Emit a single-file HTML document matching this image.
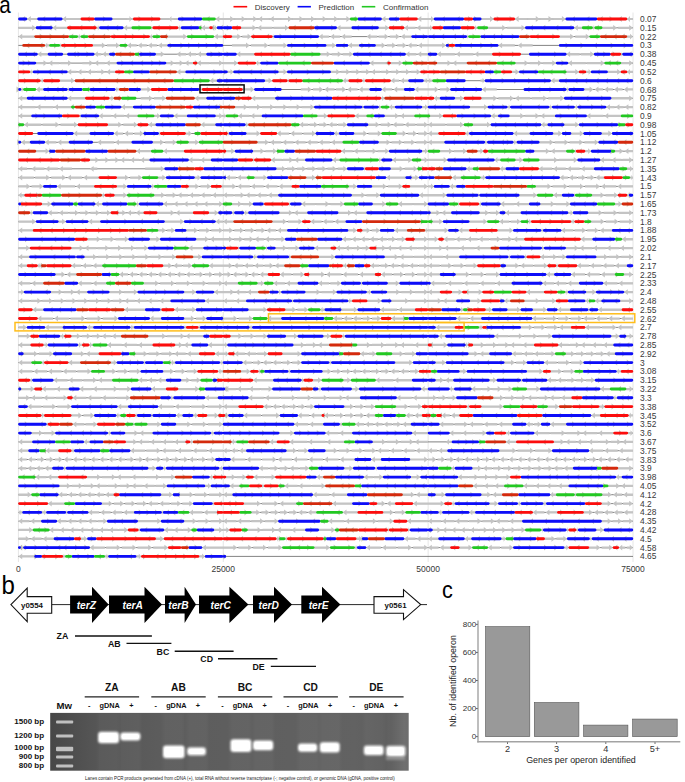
<!DOCTYPE html>
<html><head><meta charset="utf-8">
<style>
html,body{margin:0;padding:0;background:#fff;}
body{width:685px;height:782px;overflow:hidden;}
svg{display:block;font-family:"Liberation Sans",sans-serif;}
.rl{font-size:8.4px;fill:#383838;}
.xl{font-size:8.5px;fill:#383838;}
.lg{font-size:8px;fill:#333;}
.pl{font-size:24px;fill:#000;}
.gl{font-size:10.2px;font-weight:bold;font-style:italic;fill:#fff;}
.yl{font-size:7.9px;font-weight:bold;fill:#111;}
.sl{font-size:8.8px;font-weight:bold;fill:#111;}
.gh{font-size:10.2px;font-weight:bold;fill:#111;}
.gs{font-size:7.3px;font-weight:bold;fill:#111;}
.bp{font-size:8px;font-weight:bold;fill:#111;}
.cap{font-size:4.47px;fill:#222;}
.tk{font-size:8.1px;fill:#333;}
.ax{font-size:8.9px;fill:#222;}
</style></head>
<body>
<svg width="685" height="782" viewBox="0 0 685 782">
<defs>
<filter id="bl" x="-30%" y="-60%" width="160%" height="220%"><feGaussianBlur stdDeviation="1.1"/></filter>
<filter id="soft" x="0" y="0" width="685" height="600" filterUnits="userSpaceOnUse"><feGaussianBlur stdDeviation="0.35"/></filter>
<filter id="bl2" x="-30%" y="-60%" width="160%" height="220%"><feGaussianBlur stdDeviation="0.6"/></filter>
</defs>
<line x1="18.4" y1="12.5" x2="18.4" y2="562" stroke="#e6e6e6" stroke-width="1"/>
<line x1="223.27" y1="12.5" x2="223.27" y2="562" stroke="#e6e6e6" stroke-width="1"/>
<line x1="428.13" y1="12.5" x2="428.13" y2="562" stroke="#e6e6e6" stroke-width="1"/>
<line x1="633" y1="12.5" x2="633" y2="562" stroke="#e6e6e6" stroke-width="1"/>
<g filter="url(#soft)">
<path d="M18.4 19H633M18.4 27.8H633M18.4 36.6H633M18.4 45.4H633M18.4 54.2H633M18.4 63.1H633M18.4 71.9H633M18.4 80.7H633M18.4 89.5H633M18.4 98.3H633M18.4 107.1H633M18.4 115.9H633M18.4 124.7H633M18.4 133.5H633M18.4 142.3H633M18.4 151.2H633M18.4 160H633M18.4 168.8H633M18.4 177.6H633M18.4 186.4H633M18.4 195.2H633M18.4 204H633M18.4 212.8H633M18.4 221.6H633M18.4 230.4H633M18.4 239.2H633M18.4 248.1H633M18.4 256.9H633M18.4 265.7H633M18.4 274.5H633M18.4 283.3H633M18.4 292.1H633M18.4 300.9H633M18.4 309.7H633M18.4 318.5H633M18.4 327.4H633M18.4 336.2H633M18.4 345H633M18.4 353.8H633M18.4 362.6H633M18.4 371.4H633M18.4 380.2H633M18.4 389H633M18.4 397.8H633M18.4 406.6H633M18.4 415.5H633M18.4 424.3H633M18.4 433.1H633M18.4 441.9H633M18.4 450.7H633M18.4 459.5H633M18.4 468.3H633M18.4 477.1H633M18.4 485.9H633M18.4 494.7H633M18.4 503.6H633M18.4 512.4H633M18.4 521.2H633M18.4 530H633M18.4 538.8H633M18.4 547.6H633M18.4 556.4H633" stroke="#5a5a5a" stroke-width="0.75" fill="none"/>
<path d="M37.5 17.9H30.8V16.1L27 19L30.8 21.9V20.1H37.5ZM80.8 17.9H66.1V16.1L62.3 19L66.1 21.9V20.1H80.8ZM127.2 17.9H129.5V16.1L131.7 19L129.5 21.9V20.1H127.2ZM173.6 17.9H171.4V16.1L169.1 19L171.4 21.9V20.1H173.6ZM223 17.9H219.3V16.1L215.5 19L219.3 21.9V20.1H223ZM223 17.9H230.2V16.1L234 19L230.2 21.9V20.1H223ZM235.2 17.9H241.7V16.1L245.5 19L241.7 21.9V20.1H235.2ZM246.7 17.9H253.3V16.1L257.1 19L253.3 21.9V20.1H246.7ZM268.7 17.9H262.1V16.1L258.3 19L262.1 21.9V20.1H268.7ZM280.2 17.9H273.7V16.1L269.9 19L273.7 21.9V20.1H280.2ZM281.4 17.9H288V16.1L291.8 19L288 21.9V20.1H281.4ZM293 17.9H299.5V16.1L303.3 19L299.5 21.9V20.1H293ZM304.5 17.9H311.1V16.1L314.9 19L311.1 21.9V20.1H304.5ZM316.1 17.9H322.7V16.1L326.5 19L322.7 21.9V20.1H316.1ZM327.7 17.9H334.2V16.1L338 19L334.2 21.9V20.1H327.7ZM339.2 17.9H346.4V16.1L350.2 19L346.4 21.9V20.1H339.2ZM389.1 17.9H385.4V16.1L381.6 19L385.4 21.9V20.1H389.1ZM428 17.9H421.3V16.1L417.5 19L421.3 21.9V20.1H428ZM428 17.9H431V16.1L434 19L431 21.9V20.1H428ZM481.3 17.9H490V16.1L493.8 19L490 21.9V20.1H481.3ZM526.9 17.9H518.6V16.1L514.8 19L518.6 21.9V20.1H526.9ZM528.1 17.9H535.8V16.1L539.6 19L535.8 21.9V20.1H528.1ZM540.8 17.9H548.5V16.1L552.3 19L548.5 21.9V20.1H540.8ZM553.5 17.9H561.9V16.1L565.7 19L561.9 21.9V20.1H553.5ZM633 17.9H630V16.1L627 19L630 21.9V20.1H633ZM18.4 26.7H32.2V24.9L36 27.8L32.2 30.7V29H18.4ZM67.4 26.7H56.2V24.9L52.4 27.8L56.2 30.7V29H67.4ZM96.4 26.7H97.9V24.9L99.4 27.8L97.9 30.7V29H96.4ZM131.7 26.7H127.1V24.9L123.3 27.8L127.1 30.7V29H131.7ZM152.7 26.7H151.9V24.9L151.2 27.8L151.9 30.7V29H152.7ZM181.1 26.7H179.6V24.9L178.1 27.8L179.6 30.7V29H181.1ZM209.5 26.7H205V24.9L201.2 27.8L205 30.7V29H209.5ZM212.5 26.7H214.8V24.9L217 27.8L214.8 30.7V29H212.5ZM241 26.7H252.5V24.9L256.3 27.8L252.5 30.7V29H241ZM272.3 26.7H261.3V24.9L257.5 27.8L261.3 30.7V29H272.3ZM273.5 26.7H285V24.9L288.8 27.8L285 30.7V29H273.5ZM351.7 26.7H340.5V24.9L336.7 27.8L340.5 30.7V29H351.7ZM378.6 26.7H385.3V24.9L389.1 27.8L385.3 30.7V29H378.6ZM415.4 26.7H407.9V24.9L404.1 27.8L407.9 30.7V29H415.4ZM428 26.7H420.4V24.9L416.6 27.8L420.4 30.7V29H428ZM428 26.7H430.2V24.9L432.5 27.8L430.2 30.7V29H428ZM477.4 26.7H475.9V24.9L474.4 27.8L475.9 30.7V29H477.4ZM487.9 26.7H502.2V24.9L506 27.8L502.2 30.7V29H487.9ZM507.2 26.7H521.5V24.9L525.3 27.8L521.5 30.7V29H507.2ZM582.1 26.7H577.8V24.9L574 27.8L577.8 30.7V29H582.1ZM592.6 26.7H593.6V24.9L594.7 27.8L593.6 30.7V29H592.6ZM602.2 26.7H613.2V24.9L617 27.8L613.2 30.7V29H602.2ZM618.2 26.7H629.2V24.9L633 27.8L629.2 30.7V29H618.2ZM34.5 35.5H22.2V33.7L18.4 36.6L22.2 39.5V37.8H34.5ZM77.9 35.5H79.4V33.7L80.8 36.6L79.4 39.5V37.8H77.9ZM149.7 35.5H151.2V33.7L152.7 36.6L151.2 39.5V37.8H149.7ZM167.6 35.5H183.3V33.7L187.1 36.6L183.3 39.5V37.8H167.6ZM223 35.5H217.8V33.7L214 36.6L217.8 39.5V37.8H223ZM232 35.5H237.3V33.7L241.1 36.6L237.3 39.5V37.8H232ZM242.3 35.5H247.6V33.7L251.4 36.6L247.6 39.5V37.8H242.3ZM272.4 35.5H273.1V33.7L273.9 36.6L273.1 39.5V37.8H272.4ZM329.1 35.5H322.6V33.7L318.8 36.6L322.6 39.5V37.8H329.1ZM340.1 35.5H334.1V33.7L330.3 36.6L334.1 39.5V37.8H340.1ZM351.7 35.5H345.1V33.7L341.3 36.6L345.1 39.5V37.8H351.7ZM377.3 35.5H370.4V33.7L366.6 36.6L370.4 39.5V37.8H377.3ZM378.5 35.5H384.7V33.7L388.5 36.6L384.7 39.5V37.8H378.5ZM389.7 35.5H395.9V33.7L399.7 36.6L395.9 39.5V37.8H389.7ZM411.5 35.5H404.7V33.7L400.9 36.6L404.7 39.5V37.8H411.5ZM466.9 35.5H467.7V33.7L468.4 36.6L467.7 39.5V37.8H466.9ZM559.7 35.5H570.2V33.7L574 36.6L570.2 39.5V37.8H559.7ZM575.2 35.5H585.8V33.7L589.6 36.6L585.8 39.5V37.8H575.2ZM627 35.5H630V33.7L633 36.6L630 39.5V37.8H627ZM49.4 44.3H47.2V42.5L44.9 45.4L47.2 48.3V46.6H49.4ZM61.4 44.3H60.6V42.5L59.9 45.4L60.6 48.3V46.6H61.4ZM92.8 44.3H101.9V42.5L105.7 45.4L101.9 48.3V46.6H92.8ZM106.9 44.3H116V42.5L119.8 45.4L116 48.3V46.6H106.9ZM136.7 44.3H131V42.5L127.2 45.4L131 48.3V46.6H136.7ZM146.8 44.3H141.7V42.5L137.9 45.4L141.7 48.3V46.6H146.8ZM156.9 44.3H151.8V42.5L148 45.4L151.8 48.3V46.6H156.9ZM167.6 44.3H161.9V42.5L158.1 45.4L161.9 48.3V46.6H167.6ZM232 44.3H246V42.5L249.8 45.4L246 48.3V46.6H232ZM251 44.3H264.5V42.5L268.3 45.4L264.5 48.3V46.6H251ZM269.5 44.3H283.5V42.5L287.3 45.4L283.5 48.3V46.6H269.5ZM326.2 44.3H332.3V42.5L336.1 45.4L332.3 48.3V46.6H326.2ZM359.2 44.3H351.9V42.5L348.1 45.4L351.9 48.3V46.6H359.2ZM375.6 44.3H381.7V42.5L385.5 45.4L381.7 48.3V46.6H375.6ZM386.7 44.3H392.2V42.5L396 45.4L392.2 48.3V46.6H386.7ZM397.2 44.3H402.7V42.5L406.5 45.4L402.7 48.3V46.6H397.2ZM416.9 44.3H411.5V42.5L407.7 45.4L411.5 48.3V46.6H416.9ZM428 44.3H421.9V42.5L418.1 45.4L421.9 48.3V46.6H428ZM428 44.3H442.2V42.5L446 45.4L442.2 48.3V46.6H428ZM514.8 44.3H502.1V42.5L498.3 45.4L502.1 48.3V46.6H514.8ZM532.7 44.3H521.6V42.5L517.8 45.4L521.6 48.3V46.6H532.7ZM47.9 53.1H41.3V51.3L37.5 54.2L41.3 57.1V55.4H47.9ZM101.2 53.1H97.8V51.3L94.3 54.2L97.8 57.1V55.4H101.2ZM109.3 53.1H105.8V51.3L102.4 54.2L105.8 57.1V55.4H109.3ZM155.7 53.1H160.8V51.3L164.6 54.2L160.8 57.1V55.4H155.7ZM186 53.1H180.4V51.3L176.6 54.2L180.4 57.1V55.4H186ZM196 53.1H191V51.3L187.2 54.2L191 57.1V55.4H196ZM206.5 53.1H201V51.3L197.2 54.2L201 57.1V55.4H206.5ZM254.4 53.1H240.3V51.3L236.5 54.2L240.3 57.1V55.4H254.4ZM320.3 53.1H326.8V51.3L330.6 54.2L326.8 57.1V55.4H320.3ZM331.8 53.1H337.8V51.3L341.6 54.2L337.8 57.1V55.4H331.8ZM342.8 53.1H349.4V51.3L353.2 54.2L349.4 57.1V55.4H342.8ZM416.2 53.1H409.4V51.3L405.6 54.2L409.4 57.1V55.4H416.2ZM428 53.1H421.2V51.3L417.4 54.2L421.2 57.1V55.4H428ZM454.8 53.1H440.8V51.3L437 54.2L440.8 57.1V55.4H454.8ZM473.3 53.1H459.8V51.3L456 54.2L459.8 57.1V55.4H473.3ZM492.3 53.1H478.3V51.3L474.5 54.2L478.3 57.1V55.4H492.3ZM579.6 53.1H570.1V51.3L566.3 54.2L570.1 57.1V55.4H579.6ZM580.8 53.1H590.3V51.3L594.1 54.2L590.3 57.1V55.4H580.8ZM621 53.1H621.8V51.3L622.5 54.2L621.8 57.1V55.4H621ZM36 61.9H43.5V60.2L47.3 63.1L43.5 66V64.2H36ZM59.3 61.9H52.3V60.2L48.5 63.1L52.3 66V64.2H59.3ZM60.5 61.9H68.1V60.2L71.9 63.1L68.1 66V64.2H60.5ZM82.3 61.9H89.4V60.2L93.2 63.1L89.4 66V64.2H82.3ZM104.7 61.9H98.2V60.2L94.4 63.1L98.2 66V64.2H104.7ZM116.8 61.9H109.7V60.2L105.9 63.1L109.7 66V64.2H116.8ZM166.1 61.9H170.7V60.2L174.5 63.1L170.7 66V64.2H166.1ZM175.7 61.9H179.7V60.2L183.5 63.1L179.7 66V64.2H175.7ZM193.1 61.9H188.5V60.2L184.7 63.1L188.5 66V64.2H193.1ZM209.4 61.9H200.8V60.2L197 63.1L200.8 66V64.2H209.4ZM210.6 61.9H219.2V60.2L223 63.1L219.2 66V64.2H210.6ZM223 61.9H234.2V60.2L238 63.1L234.2 66V64.2H223ZM260.4 61.9H258.2V60.2L255.9 63.1L258.2 66V64.2H260.4ZM387.6 61.9H373.4V60.2L369.6 63.1L373.4 66V64.2H387.6ZM390.6 61.9H398.8V60.2L402.6 63.1L398.8 66V64.2H390.6ZM437 61.9H447.5V60.2L451.3 63.1L447.5 66V64.2H437ZM466.9 61.9H456.3V60.2L452.5 63.1L456.3 66V64.2H466.9ZM515.4 61.9H524.6V60.2L528.4 63.1L524.6 66V64.2H515.4ZM529.6 61.9H538.1V60.2L541.9 63.1L538.1 66V64.2H529.6ZM543.1 61.9H552.3V60.2L556.1 63.1L552.3 66V64.2H543.1ZM585.7 61.9H571.9V60.2L568.1 63.1L571.9 66V64.2H585.7ZM586.9 61.9H600.8V60.2L604.6 63.1L600.8 66V64.2H586.9ZM621 61.9H629.2V60.2L633 63.1L629.2 66V64.2H621ZM33 70.7H31.5V69L30 71.9L31.5 74.8V73H33ZM76.4 70.7H71.2V69L67.4 71.9L71.2 74.8V73H76.4ZM85.9 70.7H81.4V69L77.6 71.9L81.4 74.8V73H85.9ZM95.5 70.7H90.9V69L87.1 71.9L90.9 74.8V73H95.5ZM96.7 70.7H101.3V69L105.1 71.9L101.3 74.8V73H96.7ZM115.3 70.7H110.1V69L106.3 71.9L110.1 74.8V73H115.3ZM185.6 70.7H180.4V69L176.6 71.9L180.4 74.8V73H185.6ZM227.5 70.7H230.5V69L233.5 71.9L230.5 74.8V73H227.5ZM278.4 70.7H283.5V69L287.3 71.9L283.5 74.8V73H278.4ZM330.7 70.7H336.3V69L340.1 71.9L336.3 74.8V73H330.7ZM341.3 70.7H346.3V69L350.1 71.9L346.3 74.8V73H341.3ZM351.3 70.7H356.3V69L360.1 71.9L356.3 74.8V73H351.3ZM361.3 70.7H366.2V69L370 71.9L366.2 74.8V73H361.3ZM380 70.7H375V69L371.2 71.9L375 74.8V73H380ZM381.2 70.7H386.2V69L390 71.9L386.2 74.8V73H381.2ZM391.2 70.7H396.2V69L400 71.9L396.2 74.8V73H391.2ZM401.2 70.7H406.1V69L409.9 71.9L406.1 74.8V73H401.2ZM411.1 70.7H416.7V69L420.5 71.9L416.7 74.8V73H411.1ZM511.8 70.7H515.5V69L519.3 71.9L515.5 74.8V73H511.8ZM566.3 70.7H575.3V69L579.1 71.9L575.3 74.8V73H566.3ZM586 70.7H588.6V69L591.1 71.9L588.6 74.8V73H586ZM607.6 70.7H617.2V69L621 71.9L617.2 74.8V73H607.6ZM633 70.7H630V69L627 71.9L630 74.8V73H633ZM40.4 79.5H41.9V77.8L43.4 80.7L41.9 83.6V81.8H40.4ZM59.9 79.5H71.1V77.8L74.9 80.7L71.1 83.6V81.8H59.9ZM217 79.5H213.3V77.8L209.5 80.7L213.3 83.6V81.8H217ZM264.9 79.5H268.6V77.8L272.4 80.7L268.6 83.6V81.8H264.9ZM287.3 79.5H288.1V77.8L288.8 80.7L288.1 83.6V81.8H287.3ZM348.7 79.5H345.7V77.8L342.7 80.7L345.7 83.6V81.8H348.7ZM362.2 79.5H363.7V77.8L365.2 80.7L363.7 83.6V81.8H362.2ZM399 79.5H394.4V77.8L390.6 80.7L394.4 83.6V81.8H399ZM408.5 79.5H404V77.8L400.2 80.7L404 83.6V81.8H408.5ZM423.5 79.5H425.8V77.8L428 80.7L425.8 83.6V81.8H423.5ZM432.5 79.5H430.2V77.8L428 80.7L430.2 83.6V81.8H432.5ZM480.4 79.5H482.6V77.8L484.9 80.7L482.6 83.6V81.8H480.4ZM559.1 79.5H554.5V77.8L550.7 80.7L554.5 83.6V81.8H559.1ZM23.4 88.3H22.2V86.6L21 89.5L22.2 92.4V90.6H23.4ZM43.4 88.3H39.7V86.6L36 89.5L39.7 92.4V90.6H43.4ZM67.4 88.3H68.1V86.6L68.9 89.5L68.1 92.4V90.6H67.4ZM119.2 88.3H117.2V86.6L115.3 89.5L117.2 92.4V90.6H119.2ZM140.7 88.3H147.4V86.6L151.2 89.5L147.4 92.4V90.6H140.7ZM199.1 88.3H200.6V86.6L202.1 89.5L200.6 92.4V90.6H199.1ZM242.5 88.3H250.6V86.6L254.4 89.5L250.6 92.4V90.6H242.5ZM300.8 88.3H307.9V86.6L311.7 89.5L307.9 92.4V90.6H300.8ZM312.9 88.3H319.4V86.6L323.2 89.5L319.4 92.4V90.6H312.9ZM334.6 88.3H328.2V86.6L324.4 89.5L328.2 92.4V90.6H334.6ZM335.8 88.3H342.3V86.6L346.1 89.5L342.3 92.4V90.6H335.8ZM357.6 88.3H351.1V86.6L347.3 89.5L351.1 92.4V90.6H357.6ZM369.6 88.3H362.6V86.6L358.8 89.5L362.6 92.4V90.6H369.6ZM392.2 88.3H385.4V86.6L381.6 89.5L385.4 92.4V90.6H392.2ZM404.1 88.3H397.2V86.6L393.4 89.5L397.2 92.4V90.6H404.1ZM428 88.3H418.3V86.6L414.5 89.5L418.3 92.4V90.6H428ZM428 88.3H434.8V86.6L438.6 89.5L434.8 92.4V90.6H428ZM439.8 88.3H446.6V86.6L450.4 89.5L446.6 92.4V90.6H439.8ZM496.8 88.3H485.7V86.6L481.9 89.5L485.7 92.4V90.6H496.8ZM568.7 88.3H567.5V86.6L566.3 89.5L567.5 92.4V90.6H568.7ZM584.2 88.3H589.6V86.6L593.4 89.5L589.6 92.4V90.6H584.2ZM603.1 88.3H598.4V86.6L594.6 89.5L598.4 92.4V90.6H603.1ZM612.9 88.3H608.1V86.6L604.3 89.5L608.1 92.4V90.6H612.9ZM622.6 88.3H617.9V86.6L614.1 89.5L617.9 92.4V90.6H622.6ZM633 88.3H627.6V86.6L623.8 89.5L627.6 92.4V90.6H633ZM27 97.1H22.2V95.4L18.4 98.3L22.2 101.2V99.4H27ZM85.3 97.1H71.2V95.4L67.4 98.3L71.2 101.2V99.4H85.3ZM109.3 97.1H111.5V95.4L113.8 98.3L111.5 101.2V99.4H109.3ZM140.7 97.1H149V95.4L152.8 98.3L149 101.2V99.4H140.7ZM154 97.1H162.3V95.4L166.1 98.3L162.3 101.2V99.4H154ZM206.5 97.1H198.4V95.4L194.6 98.3L198.4 101.2V99.4H206.5ZM275.4 97.1H255.2V95.4L251.4 98.3L255.2 101.2V99.4H275.4ZM384.6 97.1H382.8V95.4L381 98.3L382.8 101.2V99.4H384.6ZM440 97.1H437V95.4L434 98.3L437 101.2V99.4H440ZM454.9 97.1H460.1V95.4L463.9 98.3L460.1 101.2V99.4H454.9ZM481.3 97.1H493.4V95.4L497.2 98.3L493.4 101.2V99.4H481.3ZM498.4 97.1H510V95.4L513.8 98.3L510 101.2V99.4H498.4ZM530.4 97.1H518.8V95.4L515 98.3L518.8 101.2V99.4H530.4ZM531.6 97.1H543.2V95.4L547 98.3L543.2 101.2V99.4H531.6ZM548.2 97.1H560.4V95.4L564.2 98.3L560.4 101.2V99.4H548.2ZM611.2 97.1H629.2V95.4L633 98.3L629.2 101.2V99.4H611.2ZM35.4 106H22.2V104.2L18.4 107.1L22.2 110V108.3H35.4ZM53 106H40.4V104.2L36.6 107.1L40.4 110V108.3H53ZM71.3 106H58V104.2L54.2 107.1L58 110V108.3H71.3ZM133.2 106H125V104.2L121.2 107.1L125 110V108.3H133.2ZM235 106H243.8V104.2L247.6 107.1L243.8 110V108.3H235ZM248.8 106H257V104.2L260.8 107.1L257 110V108.3H248.8ZM262 106H270.2V104.2L274 107.1L270.2 110V108.3H262ZM275.2 106H283.4V104.2L287.2 107.1L283.4 110V108.3H275.2ZM288.4 106H296.7V104.2L300.5 107.1L296.7 110V108.3H288.4ZM301.7 106H310.5V104.2L314.3 107.1L310.5 110V108.3H301.7ZM363.7 106H362.9V104.2L362.2 107.1L362.9 110V108.3H363.7ZM381 106H379.8V104.2L378.6 107.1L379.8 110V108.3H381ZM395.1 106H392.1V104.2L389.1 107.1L392.1 110V108.3H395.1ZM422 106H425V104.2L428 107.1L425 110V108.3H422ZM469.9 106H484.1V104.2L487.9 107.1L484.1 110V108.3H469.9ZM507.3 106H508.8V104.2L510.3 107.1L508.8 110V108.3H507.3ZM552.2 106H550.7V104.2L549.2 107.1L550.7 110V108.3H552.2ZM574.6 106H576.1V104.2L577.6 107.1L576.1 110V108.3H574.6ZM614.4 106H609.9V104.2L606.1 107.1L609.9 110V108.3H614.4ZM623.4 106H619.4V104.2L615.6 107.1L619.4 110V108.3H623.4ZM633 106H628.4V104.2L624.6 107.1L628.4 110V108.3H633ZM31.5 114.8H22.2V113L18.4 115.9L22.2 118.8V117.1H31.5ZM79.4 114.8H80.1V113L80.8 115.9L80.1 118.8V117.1H79.4ZM111.2 114.8H102.6V113L98.8 115.9L102.6 118.8V117.1H111.2ZM124.1 114.8H116.2V113L112.4 115.9L116.2 118.8V117.1H124.1ZM137.7 114.8H129.1V113L125.3 115.9L129.1 118.8V117.1H137.7ZM154.2 114.8H157.2V113L160.2 115.9L157.2 118.8V117.1H154.2ZM187.1 114.8H177.4V113L173.6 115.9L177.4 118.8V117.1H187.1ZM215.5 114.8H219.3V113L223 115.9L219.3 118.8V117.1H215.5ZM223 114.8H224.5V113L226 115.9L224.5 118.8V117.1H223ZM249.3 114.8H241.8V113L238 115.9L241.8 118.8V117.1H249.3ZM261.9 114.8H254.3V113L250.5 115.9L254.3 118.8V117.1H261.9ZM317.3 114.8H323.9V113L327.7 115.9L323.9 118.8V117.1H317.3ZM366.6 114.8H358.5V113L354.7 115.9L358.5 118.8V117.1H366.6ZM384.6 114.8H395.2V113L399 115.9L395.2 118.8V117.1H384.6ZM414.5 114.8H404V113L400.2 115.9L404 118.8V117.1H414.5ZM429.5 114.8H439.2V113L443 115.9L439.2 118.8V117.1H429.5ZM498.3 114.8H494.6V113L490.8 115.9L494.6 118.8V117.1H498.3ZM509.4 114.8H520.3V113L524.1 115.9L520.3 118.8V117.1H509.4ZM525.3 114.8H535.5V113L539.3 115.9L535.5 118.8V117.1H525.3ZM555.2 114.8H544.3V113L540.5 115.9L544.3 118.8V117.1H555.2ZM603.2 114.8H590.4V113L586.6 115.9L590.4 118.8V117.1H603.2ZM621 114.8H608.2V113L604.4 115.9L608.2 118.8V117.1H621ZM41.3 123.6H27.8V121.8L24 124.7L27.8 127.6V125.9H41.3ZM42.5 123.6H55.5V121.8L59.3 124.7L55.5 127.6V125.9H42.5ZM60.5 123.6H74.1V121.8L77.9 124.7L74.1 127.6V125.9H60.5ZM107.8 123.6H118.3V121.8L122.1 124.7L118.3 127.6V125.9H107.8ZM123.3 123.6H133.9V121.8L137.7 124.7L133.9 127.6V125.9H123.3ZM155.7 123.6H151.9V121.8L148.2 124.7L151.9 127.6V125.9H155.7ZM215.5 123.6H204.4V121.8L200.6 124.7L204.4 127.6V125.9H215.5ZM248.4 123.6H246.9V121.8L245.4 124.7L246.9 127.6V125.9H248.4ZM308.3 123.6H303.1V121.8L299.3 124.7L303.1 127.6V125.9H308.3ZM309.5 123.6H314.1V121.8L317.9 124.7L314.1 127.6V125.9H309.5ZM319.1 123.6H323.6V121.8L327.4 124.7L323.6 127.6V125.9H319.1ZM337 123.6H332.4V121.8L328.6 124.7L332.4 127.6V125.9H337ZM338.2 123.6H343.4V121.8L347.2 124.7L343.4 127.6V125.9H338.2ZM368.1 123.6H375.7V121.8L379.5 124.7L375.7 127.6V125.9H368.1ZM380.7 123.6H387.7V121.8L391.5 124.7L387.7 127.6V125.9H380.7ZM403.5 123.6H396.5V121.8L392.7 124.7L396.5 127.6V125.9H403.5ZM415.4 123.6H408.5V121.8L404.7 124.7L408.5 127.6V125.9H415.4ZM416.6 123.6H424.2V121.8L428 124.7L424.2 127.6V125.9H416.6ZM445.4 123.6H431.8V121.8L428 124.7L431.8 127.6V125.9H445.4ZM446.6 123.6H460.1V121.8L463.9 124.7L460.1 127.6V125.9H446.6ZM472.9 123.6H487V121.8L490.8 124.7L487 127.6V125.9H472.9ZM547.7 123.6H544.4V121.8L541.1 124.7L544.4 127.6V125.9H547.7ZM564.2 123.6H575.3V121.8L579.1 124.7L575.3 127.6V125.9H564.2ZM89.8 132.4H77.2V130.6L73.4 133.5L77.2 136.4V134.7H89.8ZM123.1 132.4H117.6V130.6L113.8 133.5L117.6 136.4V134.7H123.1ZM133.1 132.4H128.1V130.6L124.3 133.5L128.1 136.4V134.7H133.1ZM134.3 132.4H139.9V130.6L143.7 133.5L139.9 136.4V134.7H134.3ZM158.7 132.4H159.4V130.6L160.2 133.5L159.4 136.4V134.7H158.7ZM185.6 132.4H188.6V130.6L191.6 133.5L188.6 136.4V134.7H185.6ZM229 132.4H228.2V130.6L227.5 133.5L228.2 136.4V134.7H229ZM246.3 132.4H256.6V130.6L260.4 133.5L256.6 136.4V134.7H246.3ZM289.2 132.4H280.7V130.6L276.9 133.5L280.7 136.4V134.7H289.2ZM302.2 132.4H294.2V130.6L290.4 133.5L294.2 136.4V134.7H302.2ZM303.4 132.4H312V130.6L315.8 133.5L312 136.4V134.7H303.4ZM339.1 132.4H336.7V130.6L334.3 133.5L336.7 136.4V134.7H339.1ZM354.1 132.4H363.4V130.6L367.2 133.5L363.4 136.4V134.7H354.1ZM368.4 132.4H377.8V130.6L381.6 133.5L377.8 136.4V134.7H368.4ZM396.6 132.4H402.7V130.6L406.5 133.5L402.7 136.4V134.7H396.6ZM407.7 132.4H413.1V130.6L416.9 133.5L413.1 136.4V134.7H407.7ZM418.1 132.4H424.2V130.6L428 133.5L424.2 136.4V134.7H418.1ZM438.5 132.4H431.8V130.6L428 133.5L431.8 136.4V134.7H438.5ZM465.4 132.4H467.4V130.6L469.3 133.5L467.4 136.4V134.7H465.4ZM529.8 132.4H517.1V130.6L513.3 133.5L517.1 136.4V134.7H529.8ZM553.1 132.4H558.3V130.6L562.1 133.5L558.3 136.4V134.7H553.1ZM571.1 132.4H579.8V130.6L583.6 133.5L579.8 136.4V134.7H571.1ZM601.6 132.4H608.3V130.6L612.1 133.5L608.3 136.4V134.7H601.6ZM30 141.2H24.8V139.4L21 142.3L24.8 145.2V143.5H30ZM56.3 141.2H48.7V139.4L44.9 142.3L48.7 145.2V143.5H56.3ZM68.9 141.2H61.3V139.4L57.5 142.3L61.3 145.2V143.5H68.9ZM113.9 141.2H101.1V139.4L97.3 142.3L101.1 145.2V143.5H113.9ZM131.7 141.2H118.9V139.4L115.1 142.3L118.9 145.2V143.5H131.7ZM152.7 141.2H160.2V139.4L164 142.3L160.2 145.2V143.5H152.7ZM165.2 141.2H172.8V139.4L176.6 142.3L172.8 145.2V143.5H165.2ZM188.6 141.2H195.3V139.4L199.1 142.3L195.3 145.2V143.5H188.6ZM257.4 141.2H265.2V139.4L269 142.3L265.2 145.2V143.5H257.4ZM281.2 141.2H274V139.4L270.2 142.3L274 145.2V143.5H281.2ZM293.4 141.2H286.2V139.4L282.4 142.3L286.2 145.2V143.5H293.4ZM305.6 141.2H298.4V139.4L294.6 142.3L298.4 145.2V143.5H305.6ZM317.7 141.2H310.6V139.4L306.8 142.3L310.6 145.2V143.5H317.7ZM329.9 141.2H322.7V139.4L318.9 142.3L322.7 145.2V143.5H329.9ZM342.7 141.2H334.9V139.4L331.1 142.3L334.9 145.2V143.5H342.7ZM378.6 141.2H386.6V139.4L390.4 142.3L386.6 145.2V143.5H378.6ZM391.6 141.2H398.9V139.4L402.7 142.3L398.9 145.2V143.5H391.6ZM403.9 141.2H411.3V139.4L415.1 142.3L411.3 145.2V143.5H403.9ZM416.3 141.2H424.2V139.4L428 142.3L424.2 145.2V143.5H416.3ZM444.5 141.2H431.8V139.4L428 142.3L431.8 145.2V143.5H444.5ZM487.3 141.2H486.1V139.4L484.9 142.3L486.1 145.2V143.5H487.3ZM516.9 141.2H515.1V139.4L513.3 142.3L515.1 145.2V143.5H516.9ZM539.3 141.2H549.7V139.4L553.5 142.3L549.7 145.2V143.5H539.3ZM554.7 141.2H564.6V139.4L568.4 142.3L564.6 145.2V143.5H554.7ZM569.6 141.2H579.4V139.4L583.2 142.3L579.4 145.2V143.5H569.6ZM584.4 141.2H594.8V139.4L598.6 142.3L594.8 145.2V143.5H584.4ZM36 150H45.6V148.2L49.4 151.2L45.6 154.1V152.3H36ZM151.2 150H140V148.2L136.2 151.2L140 154.1V152.3H151.2ZM184.1 150H166.9V148.2L163.1 151.2L166.9 154.1V152.3H184.1ZM226 150H231.2V148.2L235 151.2L231.2 154.1V152.3H226ZM252.9 150H260.5V148.2L264.3 151.2L260.5 154.1V152.3H252.9ZM265.5 150H273.1V148.2L276.9 151.2L273.1 154.1V152.3H265.5ZM352.6 150H345V148.2L341.2 151.2L345 154.1V152.3H352.6ZM364.6 150H357.6V148.2L353.8 151.2L357.6 154.1V152.3H364.6ZM365.8 150H372.7V148.2L376.5 151.2L372.7 154.1V152.3H365.8ZM377.7 150H385.3V148.2L389.1 151.2L385.3 154.1V152.3H377.7ZM422 150H425V148.2L428 151.2L425 154.1V152.3H422ZM440 150H449V148.2L452.8 151.2L449 154.1V152.3H440ZM454 150H463.1V148.2L466.9 151.2L463.1 154.1V152.3H454ZM477.4 150H480.4V148.2L483.4 151.2L480.4 154.1V152.3H477.4ZM534.2 150H545.9V148.2L549.7 151.2L545.9 154.1V152.3H534.2ZM566.3 150H554.7V148.2L550.9 151.2L554.7 154.1V152.3H566.3ZM576.1 150H575.4V148.2L574.6 151.2L575.4 154.1V152.3H576.1ZM585.1 150H588.1V148.2L591.1 151.2L588.1 154.1V152.3H585.1ZM615 150H619.6V148.2L623.4 151.2L619.6 154.1V152.3H615ZM633 150H628.4V148.2L624.6 151.2L628.4 154.1V152.3H633ZM89.8 158.8H95.4V157.1L99.2 160L95.4 162.9V161.1H89.8ZM100.4 158.8H105.4V157.1L109.2 160L105.4 162.9V161.1H100.4ZM110.4 158.8H115.4V157.1L119.2 160L115.4 162.9V161.1H110.4ZM129.1 158.8H124.2V157.1L120.4 160L124.2 162.9V161.1H129.1ZM139.1 158.8H134.1V157.1L130.3 160L134.1 162.9V161.1H139.1ZM149.7 158.8H144.1V157.1L140.3 160L144.1 162.9V161.1H149.7ZM199.2 158.8H192.4V157.1L188.6 160L192.4 162.9V161.1H199.2ZM211 158.8H204.2V157.1L200.4 160L204.2 162.9V161.1H211ZM254.4 158.8H253.7V157.1L252.9 160L253.7 162.9V161.1H254.4ZM281.8 158.8H274.7V157.1L270.9 160L274.7 162.9V161.1H281.8ZM283 158.8H289.4V157.1L293.2 160L289.4 162.9V161.1H283ZM305.3 158.8H298.2V157.1L294.4 160L298.2 162.9V161.1H305.3ZM339.7 158.8H336V157.1L332.2 160L336 162.9V161.1H339.7ZM381.6 158.8H380.1V157.1L378.6 160L380.1 162.9V161.1H381.6ZM401.5 158.8H395.9V157.1L392.1 160L395.9 162.9V161.1H401.5ZM402.7 158.8H408.3V157.1L412.1 160L408.3 162.9V161.1H402.7ZM421.1 158.8H424.6V157.1L428 160L424.6 162.9V161.1H421.1ZM428 158.8H443.7V157.1L447.5 160L443.7 162.9V161.1H428ZM500.4 158.8H497.4V157.1L494.4 160L497.4 162.9V161.1H500.4ZM515.4 158.8H519.4V157.1L523.2 160L519.4 162.9V161.1H515.4ZM539.3 158.8H554.1V157.1L557.9 160L554.1 162.9V161.1H539.3ZM559.1 158.8H573.8V157.1L577.6 160L573.8 162.9V161.1H559.1ZM610.5 158.8H603.9V157.1L600.1 160L603.9 162.9V161.1H610.5ZM621.4 158.8H615.5V157.1L611.7 160L615.5 162.9V161.1H621.4ZM622.6 158.8H629.2V157.1L633 160L629.2 162.9V161.1H622.6ZM27 167.6H22.2V165.9L18.4 168.8L22.2 171.7V169.9H27ZM44.3 167.6H35.3V165.9L31.5 168.8L35.3 171.7V169.9H44.3ZM57.8 167.6H49.3V165.9L45.5 168.8L49.3 171.7V169.9H57.8ZM71.9 167.6H62.8V165.9L59 168.8L62.8 171.7V169.9H71.9ZM97.3 167.6H93.6V165.9L89.8 168.8L93.6 171.7V169.9H97.3ZM145.2 167.6H160.8V165.9L164.6 168.8L160.8 171.7V169.9H145.2ZM276.3 167.6H282V165.9L285.8 168.8L282 171.7V169.9H276.3ZM287 167.6H292.1V165.9L295.9 168.8L292.1 171.7V169.9H287ZM297.1 167.6H302.3V165.9L306.1 168.8L302.3 171.7V169.9H297.1ZM307.3 167.6H312.4V165.9L316.2 168.8L312.4 171.7V169.9H307.3ZM317.4 167.6H322.5V165.9L326.3 168.8L322.5 171.7V169.9H317.4ZM327.5 167.6H332.7V165.9L336.5 168.8L332.7 171.7V169.9H327.5ZM337.7 167.6H343.4V165.9L347.2 168.8L343.4 171.7V169.9H337.7ZM365.2 167.6H364.4V165.9L363.7 168.8L364.4 171.7V169.9H365.2ZM390.6 167.6H399.7V165.9L403.5 168.8L399.7 171.7V169.9H390.6ZM404.7 167.6H413.7V165.9L417.5 168.8L413.7 171.7V169.9H404.7ZM472.9 167.6H469.6V165.9L466.3 168.8L469.6 171.7V169.9H472.9ZM505.8 167.6H502.8V165.9L499.8 168.8L502.8 171.7V169.9H505.8ZM552 167.6H542.5V165.9L538.7 168.8L542.5 171.7V169.9H552ZM565.8 167.6H557V165.9L553.2 168.8L557 171.7V169.9H565.8ZM579.7 167.6H570.8V165.9L567 168.8L570.8 171.7V169.9H579.7ZM594.1 167.6H584.7V165.9L580.9 168.8L584.7 171.7V169.9H594.1ZM627 167.6H630V165.9L633 168.8L630 171.7V169.9H627ZM33.9 176.4H22.2V174.7L18.4 177.6L22.2 180.5V178.7H33.9ZM35.1 176.4H46.2V174.7L50 177.6L46.2 180.5V178.7H35.1ZM51.2 176.4H62.2V174.7L66 177.6L62.2 180.5V178.7H51.2ZM82.1 176.4H71V174.7L67.2 177.6L71 180.5V178.7H82.1ZM98.8 176.4H87.1V174.7L83.3 177.6L87.1 180.5V178.7H98.8ZM116.8 176.4H125.1V174.7L128.9 177.6L125.1 180.5V178.7H116.8ZM130.1 176.4H138.4V174.7L142.2 177.6L138.4 180.5V178.7H130.1ZM158.1 176.4H162.3V174.7L166.1 177.6L162.3 180.5V178.7H158.1ZM194.6 176.4H197.6V174.7L200.6 177.6L197.6 180.5V178.7H194.6ZM235.9 176.4H229.8V174.7L226 177.6L229.8 180.5V178.7H235.9ZM246.9 176.4H240.9V174.7L237.1 177.6L240.9 180.5V178.7H246.9ZM254.4 176.4H263.5V174.7L267.3 177.6L263.5 180.5V178.7H254.4ZM306.2 176.4H312V174.7L315.8 177.6L312 180.5V178.7H306.2ZM405.6 176.4H389.9V174.7L386.1 177.6L389.9 180.5V178.7H405.6ZM411.5 176.4H415.3V174.7L419 177.6L415.3 180.5V178.7H411.5ZM460.9 176.4H455.7V174.7L451.9 177.6L455.7 180.5V178.7H460.9ZM480.4 176.4H482.9V174.7L485.5 177.6L482.9 180.5V178.7H480.4ZM567.9 176.4H563.5V174.7L559.7 177.6L563.5 180.5V178.7H567.9ZM576.8 176.4H572.9V174.7L569.1 177.6L572.9 180.5V178.7H576.8ZM578 176.4H581.9V174.7L585.7 177.6L581.9 180.5V178.7H578ZM586.9 176.4H590.7V174.7L594.5 177.6L590.7 180.5V178.7H586.9ZM604 176.4H599.5V174.7L595.7 177.6L599.5 180.5V178.7H604ZM633 176.4H631.5V174.7L630 177.6L631.5 180.5V178.7H633ZM18.4 185.2H26.5V183.5L30.3 186.4L26.5 189.3V187.5H18.4ZM31.5 185.2H39.6V183.5L43.4 186.4L39.6 189.3V187.5H31.5ZM75 185.2H60.7V183.5L56.9 186.4L60.7 189.3V187.5H75ZM94.3 185.2H80V183.5L76.2 186.4L80 189.3V187.5H94.3ZM116.8 185.2H123.4V183.5L127.2 186.4L123.4 189.3V187.5H116.8ZM154.2 185.2H152.7V183.5L151.2 186.4L152.7 189.3V187.5H154.2ZM188.6 185.2H195.4V183.5L199.2 186.4L195.4 189.3V187.5H188.6ZM200.4 185.2H207.2V183.5L211 186.4L207.2 189.3V187.5H200.4ZM223 185.2H222.3V183.5L221.5 186.4L222.3 189.3V187.5H223ZM223 185.2H232.4V183.5L236.2 186.4L232.4 189.3V187.5H223ZM249.9 185.2H241.2V183.5L237.4 186.4L241.2 189.3V187.5H249.9ZM263.7 185.2H254.9V183.5L251.1 186.4L254.9 189.3V187.5H263.7ZM277.5 185.2H268.7V183.5L264.9 186.4L268.7 189.3V187.5H277.5ZM291.8 185.2H282.5V183.5L278.7 186.4L282.5 189.3V187.5H291.8ZM348.7 185.2H353.3V183.5L357.1 186.4L353.3 189.3V187.5H348.7ZM372 185.2H382.9V183.5L386.7 186.4L382.9 189.3V187.5H372ZM387.9 185.2H398.8V183.5L402.6 186.4L398.8 189.3V187.5H387.9ZM410 185.2H424.2V183.5L428 186.4L424.2 189.3V187.5H410ZM428 185.2H431V183.5L434 186.4L431 189.3V187.5H428ZM456.4 185.2H453V183.5L449.5 186.4L453 189.3V187.5H456.4ZM535.7 185.2H547.5V183.5L551.3 186.4L547.5 189.3V187.5H535.7ZM552.5 185.2H563.8V183.5L567.6 186.4L563.8 189.3V187.5H552.5ZM568.8 185.2H580V183.5L583.8 186.4L580 189.3V187.5H568.8ZM585 185.2H596.2V183.5L600 186.4L596.2 189.3V187.5H585ZM616.2 185.2H605V183.5L601.2 186.4L605 189.3V187.5H616.2ZM633 185.2H621.2V183.5L617.4 186.4L621.2 189.3V187.5H633ZM24.6 194.1H21.5V192.3L18.4 195.2L21.5 198.1V196.4H24.6ZM101.8 194.1H103.3V192.3L104.8 195.2L103.3 198.1V196.4H101.8ZM114.4 194.1H123.4V192.3L127.2 195.2L123.4 198.1V196.4H114.4ZM154.2 194.1H161.2V192.3L165 195.2L161.2 198.1V196.4H154.2ZM166.2 194.1H172.7V192.3L176.5 195.2L172.7 198.1V196.4H166.2ZM188 194.1H181.5V192.3L177.7 195.2L181.5 198.1V196.4H188ZM199.5 194.1H193V192.3L189.2 195.2L193 198.1V196.4H199.5ZM210.9 194.1H204.5V192.3L200.7 195.2L204.5 198.1V196.4H210.9ZM223 194.1H215.9V192.3L212.1 195.2L215.9 198.1V196.4H223ZM233.5 194.1H226.8V192.3L223 195.2L226.8 198.1V196.4H233.5ZM234.7 194.1H240.7V192.3L244.5 195.2L240.7 198.1V196.4H234.7ZM255.6 194.1H249.5V192.3L245.7 195.2L249.5 198.1V196.4H255.6ZM266.7 194.1H260.6V192.3L256.8 195.2L260.6 198.1V196.4H266.7ZM278.4 194.1H271.7V192.3L267.9 195.2L271.7 198.1V196.4H278.4ZM351.7 194.1H361.5V192.3L365.3 195.2L361.5 198.1V196.4H351.7ZM366.5 194.1H376.3V192.3L380.1 195.2L376.3 198.1V196.4H366.5ZM428 194.1H422.8V192.3L419 195.2L422.8 198.1V196.4H428ZM428 194.1H442.8V192.3L446.6 195.2L442.8 198.1V196.4H428ZM479.5 194.1H478.9V192.3L478.3 195.2L478.9 198.1V196.4H479.5ZM519.3 194.1H533.4V192.3L537.2 195.2L533.4 198.1V196.4H519.3ZM562.1 194.1H556.9V192.3L553.1 195.2L556.9 198.1V196.4H562.1ZM575.2 194.1H574.6V192.3L574 195.2L574.6 198.1V196.4H575.2ZM592 194.1H600.6V192.3L604.4 195.2L600.6 198.1V196.4H592ZM605.6 194.1H614.2V192.3L618 195.2L614.2 198.1V196.4H605.6ZM627 194.1H628.1V192.3L629.1 195.2L628.1 198.1V196.4H627ZM41.9 202.9H47.7V201.1L51.5 204L47.7 206.9V205.2H41.9ZM102.4 202.9H98.8V201.1L95.2 204L98.8 206.9V205.2H102.4ZM139.2 202.9H137.7V201.1L136.2 204L137.7 206.9V205.2H139.2ZM172.5 202.9H166.9V201.1L163.1 204L166.9 206.9V205.2H172.5ZM182.5 202.9H177.5V201.1L173.7 204L177.5 206.9V205.2H182.5ZM192.5 202.9H187.5V201.1L183.7 204L187.5 206.9V205.2H192.5ZM202.4 202.9H197.5V201.1L193.7 204L197.5 206.9V205.2H202.4ZM212.4 202.9H207.4V201.1L203.6 204L207.4 206.9V205.2H212.4ZM213.6 202.9H219.2V201.1L223 204L219.2 206.9V205.2H213.6ZM232 202.9H238.1V201.1L241.9 204L238.1 206.9V205.2H232ZM243.1 202.9H249.1V201.1L252.9 204L249.1 206.9V205.2H243.1ZM264.3 202.9H263.9V201.1L263.4 204L263.9 206.9V205.2H264.3ZM288.8 202.9H289.6V201.1L290.3 204L289.6 206.9V205.2H288.8ZM315.1 202.9H305.2V201.1L301.4 204L305.2 206.9V205.2H315.1ZM316.3 202.9H325.5V201.1L329.3 204L325.5 206.9V205.2H316.3ZM330.5 202.9H340.4V201.1L344.2 204L340.4 206.9V205.2H330.5ZM372.6 202.9H382.3V201.1L386.1 204L382.3 206.9V205.2H372.6ZM412.4 202.9H401.9V201.1L398.1 204L401.9 206.9V205.2H412.4ZM413.6 202.9H424.2V201.1L428 204L424.2 206.9V205.2H413.6ZM459.4 202.9H458.7V201.1L457.9 204L458.7 206.9V205.2H459.4ZM478.9 202.9H480.1V201.1L481.3 204L480.1 206.9V205.2H478.9ZM514.2 202.9H504.2V201.1L500.4 204L504.2 206.9V205.2H514.2ZM529.2 202.9H519.2V201.1L515.4 204L519.2 206.9V205.2H529.2ZM540.2 202.9H550.8V201.1L554.6 204L550.8 206.9V205.2H540.2ZM555.8 202.9H566.4V201.1L570.2 204L566.4 206.9V205.2H555.8ZM615 202.9H618.5V201.1L621.9 204L618.5 206.9V205.2H615ZM33 211.7H31.5V209.9L30 212.8L31.5 215.7V214H33ZM57.8 211.7H51.7V209.9L47.9 212.8L51.7 215.7V214H57.8ZM68.3 211.7H62.8V209.9L59 212.8L62.8 215.7V214H68.3ZM69.5 211.7H75V209.9L78.8 212.8L75 215.7V214H69.5ZM80 211.7H85.4V209.9L89.2 212.8L85.4 215.7V214H80ZM90.4 211.7H95.9V209.9L99.7 212.8L95.9 215.7V214H90.4ZM100.9 211.7H107V209.9L110.8 212.8L107 215.7V214H100.9ZM118.3 211.7H122.3V209.9L126.1 212.8L122.3 215.7V214H118.3ZM134.6 211.7H131V209.9L127.3 212.8L131 215.7V214H134.6ZM143.7 211.7H139.6V209.9L135.8 212.8L139.6 215.7V214H143.7ZM157.2 211.7H170.7V209.9L174.5 212.8L170.7 215.7V214H157.2ZM193.1 211.7H179.5V209.9L175.7 212.8L179.5 215.7V214H193.1ZM208.9 211.7H214.7V209.9L218.5 212.8L214.7 215.7V214H208.9ZM232 211.7H233.2V209.9L234.4 212.8L233.2 215.7V214H232ZM248.4 211.7H246.2V209.9L243.9 212.8L246.2 215.7V214H248.4ZM279.3 211.7H288.9V209.9L292.7 212.8L288.9 215.7V214H279.3ZM307.4 211.7H297.7V209.9L293.9 212.8L297.7 215.7V214H307.4ZM338.2 211.7H348V209.9L351.8 212.8L348 215.7V214H338.2ZM366.6 211.7H356.8V209.9L353 212.8L356.8 215.7V214H366.6ZM430.4 211.7H436.5V209.9L440.3 212.8L436.5 215.7V214H430.4ZM451.3 211.7H445.3V209.9L441.5 212.8L445.3 215.7V214H451.3ZM479.5 211.7H485.2V209.9L489 212.8L485.2 215.7V214H479.5ZM490.2 211.7H496V209.9L499.8 212.8L496 215.7V214H490.2ZM520.8 211.7H509V209.9L505.2 212.8L509 215.7V214H520.8ZM568.1 211.7H570.6V209.9L573.1 212.8L570.6 215.7V214H568.1ZM588.1 211.7H598.7V209.9L602.5 212.8L598.7 215.7V214H588.1ZM603.7 211.7H613.6V209.9L617.4 212.8L613.6 215.7V214H603.7ZM618.6 211.7H629.2V209.9L633 212.8L629.2 215.7V214H618.6ZM18.4 220.5H32.2V218.7L36 221.6L32.2 224.5V222.8H18.4ZM58.4 220.5H62.1V218.7L65.9 221.6L62.1 224.5V222.8H58.4ZM100.3 220.5H92.1V218.7L88.3 221.6L92.1 224.5V222.8H100.3ZM164.6 220.5H180.3V218.7L184.1 221.6L180.3 224.5V222.8H164.6ZM223 220.5H219.3V218.7L215.5 221.6L219.3 224.5V222.8H223ZM233.5 220.5H226.8V218.7L223 221.6L226.8 224.5V222.8H233.5ZM272.4 220.5H282.9V218.7L286.7 221.6L282.9 224.5V222.8H272.4ZM287.9 220.5H298.5V218.7L302.3 221.6L298.5 224.5V222.8H287.9ZM321.6 220.5H314.2V218.7L310.4 221.6L314.2 224.5V222.8H321.6ZM333.3 220.5H326.6V218.7L322.8 221.6L326.6 224.5V222.8H333.3ZM345.7 220.5H338.3V218.7L334.5 221.6L338.3 224.5V222.8H345.7ZM432.5 220.5H439.2V218.7L443 221.6L439.2 224.5V222.8H432.5ZM469.3 220.5H483.5V218.7L487.3 221.6L483.5 224.5V222.8H469.3ZM509.4 220.5H503V218.7L499.2 221.6L503 224.5V222.8H509.4ZM510.6 220.5H517V218.7L520.8 221.6L517 224.5V222.8H510.6ZM531.2 220.5H529.8V218.7L528.3 221.6L529.8 224.5V222.8H531.2ZM571.1 220.5H572.8V218.7L574.6 221.6L572.8 224.5V222.8H571.1ZM591.1 220.5H600.7V218.7L604.5 221.6L600.7 224.5V222.8H591.1ZM605.7 220.5H614.6V218.7L618.4 221.6L614.6 224.5V222.8H605.7ZM619.6 220.5H629.2V218.7L633 221.6L629.2 224.5V222.8H619.6ZM33 229.3H22.2V227.5L18.4 230.4L22.2 233.3V231.6H33ZM158.1 229.3H162.2V227.5L166 230.4L162.2 233.3V231.6H158.1ZM167.2 229.3H171.3V227.5L175.1 230.4L171.3 233.3V231.6H167.2ZM186.2 229.3H194.1V227.5L197.9 230.4L194.1 233.3V231.6H186.2ZM199.1 229.3H206.3V227.5L210.1 230.4L206.3 233.3V231.6H199.1ZM211.3 229.3H219.2V227.5L223 230.4L219.2 233.3V231.6H211.3ZM223 229.3H229.3V227.5L233.1 230.4L229.3 233.3V231.6H223ZM234.3 229.3H240V227.5L243.8 230.4L240 233.3V231.6H234.3ZM245 229.3H250.8V227.5L254.6 230.4L250.8 233.3V231.6H245ZM255.8 229.3H261.5V227.5L265.3 230.4L261.5 233.3V231.6H255.8ZM276 229.3H270.3V227.5L266.5 230.4L270.3 233.3V231.6H276ZM287.3 229.3H281V227.5L277.2 230.4L281 233.3V231.6H287.3ZM348.1 229.3H353.3V227.5L357.1 230.4L353.3 233.3V231.6H348.1ZM362.2 229.3H366.7V227.5L370.5 230.4L366.7 233.3V231.6H362.2ZM371.7 229.3H376.3V227.5L380.1 230.4L376.3 233.3V231.6H371.7ZM407.1 229.3H398V227.5L394.2 230.4L398 233.3V231.6H407.1ZM425 229.3H426.5V227.5L428 230.4L426.5 233.3V231.6H425ZM428 229.3H444.6V227.5L448.4 230.4L444.6 233.3V231.6H428ZM469.3 229.3H462.3V227.5L458.5 230.4L462.3 233.3V231.6H469.3ZM497.4 229.3H509.5V227.5L513.3 230.4L509.5 233.3V231.6H497.4ZM543.2 229.3H542.2V227.5L541.1 230.4L542.2 233.3V231.6H543.2ZM573.3 229.3H565V227.5L561.2 230.4L565 233.3V231.6H573.3ZM574.5 229.3H582.2V227.5L586 230.4L582.2 233.3V231.6H574.5ZM587.2 229.3H594.9V227.5L598.7 230.4L594.9 233.3V231.6H587.2ZM612.1 229.3H603.7V227.5L599.9 230.4L603.7 233.3V231.6H612.1ZM87.4 238.1H96.8V236.3L100.6 239.2L96.8 242.2V240.4H87.4ZM101.8 238.1H110.6V236.3L114.4 239.2L110.6 242.2V240.4H101.8ZM115.6 238.1H124.9V236.3L128.7 239.2L124.9 242.2V240.4H115.6ZM149.7 238.1H156.4V236.3L160.2 239.2L156.4 242.2V240.4H149.7ZM196.1 238.1H205.1V236.3L208.9 239.2L205.1 242.2V240.4H196.1ZM223 238.1H213.9V236.3L210.1 239.2L213.9 242.2V240.4H223ZM223 238.1H229V236.3L232.8 239.2L229 242.2V240.4H223ZM234 238.1H239.3V236.3L243.1 239.2L239.3 242.2V240.4H234ZM244.3 238.1H249.7V236.3L253.5 239.2L249.7 242.2V240.4H244.3ZM263.9 238.1H258.5V236.3L254.7 239.2L258.5 242.2V240.4H263.9ZM274.3 238.1H268.9V236.3L265.1 239.2L268.9 242.2V240.4H274.3ZM275.5 238.1H281.4V236.3L285.2 239.2L281.4 242.2V240.4H275.5ZM350.6 238.1H345.9V236.3L342.1 239.2L345.9 242.2V240.4H350.6ZM359.6 238.1H355.6V236.3L351.8 239.2L355.6 242.2V240.4H359.6ZM368.7 238.1H364.6V236.3L360.8 239.2L364.6 242.2V240.4H368.7ZM377.8 238.1H373.7V236.3L369.9 239.2L373.7 242.2V240.4H377.8ZM386.8 238.1H382.8V236.3L379 239.2L382.8 242.2V240.4H386.8ZM388 238.1H392.1V236.3L395.9 239.2L392.1 242.2V240.4H388ZM397.1 238.1H401.8V236.3L405.6 239.2L401.8 242.2V240.4H397.1ZM414.5 238.1H424.2V236.3L428 239.2L424.2 242.2V240.4H414.5ZM428 238.1H434.7V236.3L438.5 239.2L434.7 242.2V240.4H428ZM454.5 238.1H447.4V236.3L443.6 239.2L447.4 242.2V240.4H454.5ZM466 238.1H459.5V236.3L455.7 239.2L459.5 242.2V240.4H466ZM477.6 238.1H471V236.3L467.2 239.2L471 242.2V240.4H477.6ZM489.1 238.1H482.6V236.3L478.8 239.2L482.6 242.2V240.4H489.1ZM490.3 238.1H496.9V236.3L500.7 239.2L496.9 242.2V240.4H490.3ZM501.9 238.1H508.4V236.3L512.2 239.2L508.4 242.2V240.4H501.9ZM524.4 238.1H517.2V236.3L513.4 239.2L517.2 242.2V240.4H524.4ZM592.6 238.1H584.4V236.3L580.6 239.2L584.4 242.2V240.4H592.6ZM633 238.1H625.7V236.3L621.9 239.2L625.7 242.2V240.4H633ZM18.4 246.9H26.2V245.2L30 248.1L26.2 251V249.2H18.4ZM71.3 246.9H79.7V245.2L83.5 248.1L79.7 251V249.2H71.3ZM96.3 246.9H88.5V245.2L84.7 248.1L88.5 251V249.2H96.3ZM97.5 246.9H105.3V245.2L109.1 248.1L105.3 251V249.2H97.5ZM110.3 246.9H118.1V245.2L121.9 248.1L118.1 251V249.2H110.3ZM123.1 246.9H131V245.2L134.8 248.1L131 251V249.2H123.1ZM136 246.9H144.4V245.2L148.2 248.1L144.4 251V249.2H136ZM203.5 246.9H192.4V245.2L188.6 248.1L192.4 251V249.2H203.5ZM239.5 246.9H238.7V245.2L238 248.1L238.7 251V249.2H239.5ZM265.5 246.9H266.4V245.2L267.3 248.1L266.4 251V249.2H265.5ZM275.4 246.9H282.9V245.2L286.7 248.1L282.9 251V249.2H275.4ZM287.9 246.9H295.5V245.2L299.3 248.1L295.5 251V249.2H287.9ZM330.7 246.9H318.1V245.2L314.3 248.1L318.1 251V249.2H330.7ZM343.9 246.9H339.9V245.2L336.1 248.1L339.9 251V249.2H343.9ZM352.3 246.9H348.7V245.2L345.1 248.1L348.7 251V249.2H352.3ZM353.5 246.9H357.1V245.2L360.7 248.1L357.1 251V249.2H353.5ZM361.9 246.9H365.8V245.2L369.6 248.1L365.8 251V249.2H361.9ZM376.2 246.9H382.2V245.2L386 248.1L382.2 251V249.2H376.2ZM396.3 246.9H391V245.2L387.2 248.1L391 251V249.2H396.3ZM406.7 246.9H401.3V245.2L397.5 248.1L401.3 251V249.2H406.7ZM417 246.9H411.7V245.2L407.9 248.1L411.7 251V249.2H417ZM418.2 246.9H424.2V245.2L428 248.1L424.2 251V249.2H418.2ZM428 246.9H439.3V245.2L443.1 248.1L439.3 251V249.2H428ZM458.8 246.9H448.1V245.2L444.3 248.1L448.1 251V249.2H458.8ZM474.5 246.9H463.8V245.2L460 248.1L463.8 251V249.2H474.5ZM490.8 246.9H479.5V245.2L475.7 248.1L479.5 251V249.2H490.8ZM544.1 246.9H542.9V245.2L541.7 248.1L542.9 251V249.2H544.1ZM565.7 246.9H574.7V245.2L578.5 248.1L574.7 251V249.2H565.7ZM592 246.9H583.5V245.2L579.7 248.1L583.5 251V249.2H592ZM605.5 246.9H597V245.2L593.2 248.1L597 251V249.2H605.5ZM618.9 246.9H610.5V245.2L606.7 248.1L610.5 251V249.2H618.9ZM633 246.9H623.9V245.2L620.1 248.1L623.9 251V249.2H633ZM29.4 255.7H22.2V254L18.4 256.9L22.2 259.8V258H29.4ZM76.4 255.7H75.9V254L75.5 256.9L75.9 259.8V258H76.4ZM84.4 255.7H93.1V254L96.9 256.9L93.1 259.8V258H84.4ZM98.1 255.7H106.2V254L110 256.9L106.2 259.8V258H98.1ZM111.2 255.7H119.3V254L123.1 256.9L119.3 259.8V258H111.2ZM124.3 255.7H132.4V254L136.2 256.9L132.4 259.8V258H124.3ZM137.4 255.7H145.4V254L149.2 256.9L145.4 259.8V258H137.4ZM150.4 255.7H158.5V254L162.3 256.9L158.5 259.8V258H150.4ZM163.5 255.7H172.2V254L176 256.9L172.2 259.8V258H163.5ZM193.1 255.7H198.3V254L202.1 256.9L198.3 259.8V258H193.1ZM257.4 255.7H255.2V254L252.9 256.9L255.2 259.8V258H257.4ZM291.2 255.7H290V254L288.8 256.9L290 259.8V258H291.2ZM318.8 255.7H331.4V254L335.2 256.9L331.4 259.8V258H318.8ZM384.6 255.7H394.7V254L398.5 256.9L394.7 259.8V258H384.6ZM412.9 255.7H403.5V254L399.7 256.9L403.5 259.8V258H412.9ZM414.1 255.7H424.2V254L428 256.9L424.2 259.8V258H414.1ZM443.1 255.7H431.8V254L428 256.9L431.8 259.8V258H443.1ZM459.4 255.7H448.1V254L444.3 256.9L448.1 259.8V258H459.4ZM508.2 255.7H509.3V254L510.3 256.9L509.3 259.8V258H508.2ZM526.8 255.7H525.6V254L524.4 256.9L525.6 259.8V258H526.8ZM548.3 255.7H544V254L540.2 256.9L544 259.8V258H548.3ZM549.5 255.7H553.2V254L557 256.9L553.2 259.8V258H549.5ZM558.2 255.7H562.5V254L566.3 256.9L562.5 259.8V258H558.2ZM596.2 255.7H604.1V254L607.9 256.9L604.1 259.8V258H596.2ZM609.1 255.7H616.3V254L620.1 256.9L616.3 259.8V258H609.1ZM621.3 255.7H629.2V254L633 256.9L629.2 259.8V258H621.3ZM27 264.5H22.2V262.8L18.4 265.7L22.2 268.6V266.8H27ZM41.3 264.5H39.4V262.8L37.5 265.7L39.4 268.6V266.8H41.3ZM81 264.5H75.1V262.8L71.3 265.7L75.1 268.6V266.8H81ZM91.4 264.5H86V262.8L82.2 265.7L86 268.6V266.8H91.4ZM102.4 264.5H96.4V262.8L92.6 265.7L96.4 268.6V266.8H102.4ZM163.1 264.5H168.4V262.8L172.2 265.7L168.4 268.6V266.8H163.1ZM181.9 264.5H177.2V262.8L173.4 265.7L177.2 268.6V266.8H181.9ZM183.1 264.5H188.4V262.8L192.2 265.7L188.4 268.6V266.8H183.1ZM223 264.5H212.7V262.8L208.9 265.7L212.7 268.6V266.8H223ZM223 264.5H228.8V262.8L232.6 265.7L228.8 268.6V266.8H223ZM242.9 264.5H237.6V262.8L233.8 265.7L237.6 268.6V266.8H242.9ZM253.1 264.5H247.9V262.8L244.1 265.7L247.9 268.6V266.8H253.1ZM263.3 264.5H258.1V262.8L254.3 265.7L258.1 268.6V266.8H263.3ZM264.5 264.5H269.7V262.8L273.5 265.7L269.7 268.6V266.8H264.5ZM284.4 264.5H278.5V262.8L274.7 265.7L278.5 268.6V266.8H284.4ZM342.7 264.5H345V262.8L347.2 265.7L345 268.6V266.8H342.7ZM379.3 264.5H374V262.8L370.2 265.7L374 268.6V266.8H379.3ZM380.5 264.5H385.1V262.8L388.9 265.7L385.1 268.6V266.8H380.5ZM398.5 264.5H393.9V262.8L390.1 265.7L393.9 268.6V266.8H398.5ZM408.1 264.5H403.5V262.8L399.7 265.7L403.5 268.6V266.8H408.1ZM417.8 264.5H413.1V262.8L409.3 265.7L413.1 268.6V266.8H417.8ZM419 264.5H424.2V262.8L428 265.7L424.2 268.6V266.8H419ZM439.7 264.5H431.8V262.8L428 265.7L431.8 268.6V266.8H439.7ZM440.9 264.5H448.3V262.8L452.1 265.7L448.3 268.6V266.8H440.9ZM453.3 264.5H460.6V262.8L464.4 265.7L460.6 268.6V266.8H453.3ZM465.6 264.5H473.6V262.8L477.4 265.7L473.6 268.6V266.8H465.6ZM505.8 264.5H515.4V262.8L519.2 265.7L515.4 268.6V266.8H505.8ZM533.1 264.5H524.2V262.8L520.4 265.7L524.2 268.6V266.8H533.1ZM534.3 264.5H543.9V262.8L547.7 265.7L543.9 268.6V266.8H534.3ZM558.2 264.5H557.1V262.8L556.1 265.7L557.1 268.6V266.8H558.2ZM588.9 264.5H580.8V262.8L577 265.7L580.8 268.6V266.8H588.9ZM601.4 264.5H593.9V262.8L590.1 265.7L593.9 268.6V266.8H601.4ZM613.9 264.5H606.4V262.8L602.6 265.7L606.4 268.6V266.8H613.9ZM627 264.5H618.9V262.8L615.1 265.7L618.9 268.6V266.8H627ZM55.4 273.3H61.5V271.6L65.3 274.5L61.5 277.4V275.6H55.4ZM76.4 273.3H70.3V271.6L66.5 274.5L70.3 277.4V275.6H76.4ZM128 273.3H123V271.6L119.2 274.5L123 277.4V275.6H128ZM137.4 273.3H133V271.6L129.2 274.5L133 277.4V275.6H137.4ZM146.9 273.3H142.4V271.6L138.6 274.5L142.4 277.4V275.6H146.9ZM156.3 273.3H151.9V271.6L148.1 274.5L151.9 277.4V275.6H156.3ZM165.8 273.3H161.3V271.6L157.5 274.5L161.3 277.4V275.6H165.8ZM175.2 273.3H170.8V271.6L167 274.5L170.8 277.4V275.6H175.2ZM184.6 273.3H180.2V271.6L176.4 274.5L180.2 277.4V275.6H184.6ZM194.1 273.3H189.6V271.6L185.8 274.5L189.6 277.4V275.6H194.1ZM195.3 273.3H199.7V271.6L203.5 274.5L199.7 277.4V275.6H195.3ZM204.7 273.3H209.2V271.6L213 274.5L209.2 277.4V275.6H204.7ZM214.2 273.3H219.2V271.6L223 274.5L219.2 277.4V275.6H214.2ZM223 273.3H227.6V271.6L231.4 274.5L227.6 277.4V275.6H223ZM240.4 273.3H236.4V271.6L232.6 274.5L236.4 277.4V275.6H240.4ZM241.6 273.3H245.5V271.6L249.3 274.5L245.5 277.4V275.6H241.6ZM258.3 273.3H254.3V271.6L250.5 274.5L254.3 277.4V275.6H258.3ZM267.9 273.3H263.3V271.6L259.5 274.5L263.3 277.4V275.6H267.9ZM291.5 273.3H283.7V271.6L279.9 274.5L283.7 277.4V275.6H291.5ZM292.7 273.3H300.6V271.6L304.4 274.5L300.6 277.4V275.6H292.7ZM309.2 273.3H321.2V271.6L325 274.5L321.2 277.4V275.6H309.2ZM341.5 273.3H330V271.6L326.2 274.5L330 277.4V275.6H341.5ZM358 273.3H346.5V271.6L342.7 274.5L346.5 277.4V275.6H358ZM375 273.3H363V271.6L359.2 274.5L363 277.4V275.6H375ZM392.2 273.3H384.8V271.6L381 274.5L384.8 277.4V275.6H392.2ZM393.4 273.3H400.1V271.6L403.9 274.5L400.1 277.4V275.6H393.4ZM405.1 273.3H411.9V271.6L415.7 274.5L411.9 277.4V275.6H405.1ZM416.9 273.3H424.2V271.6L428 274.5L424.2 277.4V275.6H416.9ZM440 273.3H431.8V271.6L428 274.5L431.8 277.4V275.6H440ZM455.5 273.3H465.9V271.6L469.7 274.5L465.9 277.4V275.6H455.5ZM470.9 273.3H480.7V271.6L484.5 274.5L480.7 277.4V275.6H470.9ZM485.7 273.3H496V271.6L499.8 274.5L496 277.4V275.6H485.7ZM554.3 273.3H550V271.6L546.2 274.5L550 277.4V275.6H554.3ZM585.1 273.3H574.9V271.6L571.1 274.5L574.9 277.4V275.6H585.1ZM599.8 273.3H590.1V271.6L586.3 274.5L590.1 277.4V275.6H599.8ZM615 273.3H604.8V271.6L601 274.5L604.8 277.4V275.6H615ZM624 273.3H629.2V271.6L633 274.5L629.2 277.4V275.6H624ZM30.3 282.2H22.2V280.4L18.4 283.3L22.2 286.2V284.4H30.3ZM43.4 282.2H35.3V280.4L31.5 283.3L35.3 286.2V284.4H43.4ZM91.5 282.2H81.7V280.4L77.9 283.3L81.7 286.2V284.4H91.5ZM106.3 282.2H96.5V280.4L92.7 283.3L96.5 286.2V284.4H106.3ZM143.7 282.2H155.2V280.4L159 283.3L155.2 286.2V284.4H143.7ZM160.2 282.2H171V280.4L174.8 283.3L171 286.2V284.4H160.2ZM176 282.2H186.9V280.4L190.7 283.3L186.9 286.2V284.4H176ZM191.9 282.2H202.7V280.4L206.5 283.3L202.7 286.2V284.4H191.9ZM207.7 282.2H219.2V280.4L223 283.3L219.2 286.2V284.4H207.7ZM238 282.2H226.8V280.4L223 283.3L226.8 286.2V284.4H238ZM257.4 282.2H260.9V280.4L264.3 283.3L260.9 286.2V284.4H257.4ZM284.9 282.2H277.1V280.4L273.3 283.3L277.1 286.2V284.4H284.9ZM297.8 282.2H289.9V280.4L286.1 283.3L289.9 286.2V284.4H297.8ZM329.1 282.2H322V280.4L318.2 283.3L322 286.2V284.4H329.1ZM330.3 282.2H337.4V280.4L341.2 283.3L337.4 286.2V284.4H330.3ZM360.7 282.2H361.4V280.4L362.2 283.3L361.4 286.2V284.4H360.7ZM387.6 282.2H395.8V280.4L399.6 283.3L395.8 286.2V284.4H387.6ZM446.1 282.2H434.2V280.4L430.4 283.3L434.2 286.2V284.4H446.1ZM462.4 282.2H451.1V280.4L447.3 283.3L451.1 286.2V284.4H462.4ZM478.6 282.2H467.4V280.4L463.6 283.3L467.4 286.2V284.4H478.6ZM494.9 282.2H483.6V280.4L479.8 283.3L483.6 286.2V284.4H494.9ZM511.8 282.2H499.9V280.4L496.1 283.3L499.9 286.2V284.4H511.8ZM554 282.2H546.1V280.4L542.3 283.3L546.1 286.2V284.4H554ZM566.3 282.2H559V280.4L555.2 283.3L559 286.2V284.4H566.3ZM579.1 282.2H571.3V280.4L567.5 283.3L571.3 286.2V284.4H579.1ZM617.4 282.2H606.9V280.4L603.1 283.3L606.9 286.2V284.4H617.4ZM633 282.2H622.4V280.4L618.6 283.3L622.4 286.2V284.4H633ZM18.4 291H21.2V289.2L24 292.1L21.2 295V293.3H18.4ZM50.9 291H58.7V289.2L62.5 292.1L58.7 295V293.3H50.9ZM63.7 291H70.9V289.2L74.7 292.1L70.9 295V293.3H63.7ZM87.4 291H79.7V289.2L75.9 292.1L79.7 295V293.3H87.4ZM109.3 291H119.1V289.2L122.9 292.1L119.1 295V293.3H109.3ZM124.1 291H133.9V289.2L137.7 292.1L133.9 295V293.3H124.1ZM184.1 291H192.3V289.2L196.1 292.1L192.3 295V293.3H184.1ZM223 291H217.8V289.2L214 292.1L217.8 295V293.3H223ZM223 291H230.4V289.2L234.2 292.1L230.4 295V293.3H223ZM245.9 291H239.2V289.2L235.4 292.1L239.2 295V293.3H245.9ZM258.3 291H250.9V289.2L247.1 292.1L250.9 295V293.3H258.3ZM281.4 291H279.9V289.2L278.4 292.1L279.9 295V293.3H281.4ZM305.3 291H316.6V289.2L320.4 292.1L316.6 295V293.3H305.3ZM321.6 291H332.9V289.2L336.7 292.1L332.9 295V293.3H321.6ZM366.6 291H368.9V289.2L371.1 292.1L368.9 295V293.3H366.6ZM387 291H396.3V289.2L400.1 292.1L396.3 295V293.3H387ZM401.3 291H409.9V289.2L413.7 292.1L409.9 295V293.3H401.3ZM414.9 291H424.2V289.2L428 292.1L424.2 295V293.3H414.9ZM440 291H431.8V289.2L428 292.1L431.8 295V293.3H440ZM451.9 291H458.6V289.2L462.4 292.1L458.6 295V293.3H451.9ZM466.9 291H478.7V289.2L482.5 292.1L478.7 295V293.3H466.9ZM544.1 291H530V289.2L526.2 292.1L530 295V293.3H544.1ZM565.1 291H566.6V289.2L568.1 292.1L566.6 295V293.3H565.1ZM586 291H592.4V289.2L596.2 292.1L592.4 295V293.3H586ZM633 291H627.8V289.2L624 292.1L627.8 295V293.3H633ZM29.5 299.8H22.2V298L18.4 300.9L22.2 303.8V302.1H29.5ZM30.7 299.8H37.4V298L41.2 300.9L37.4 303.8V302.1H30.7ZM42.4 299.8H49.1V298L52.9 300.9L49.1 303.8V302.1H42.4ZM54.1 299.8H60.8V298L64.6 300.9L60.8 303.8V302.1H54.1ZM65.8 299.8H72.5V298L76.3 300.9L72.5 303.8V302.1H65.8ZM77.5 299.8H84.3V298L88.1 300.9L84.3 303.8V302.1H77.5ZM89.3 299.8H96V298L99.8 300.9L96 303.8V302.1H89.3ZM101 299.8H107.7V298L111.5 300.9L107.7 303.8V302.1H101ZM112.7 299.8H119.4V298L123.2 300.9L119.4 303.8V302.1H112.7ZM134.9 299.8H128.2V298L124.4 300.9L128.2 303.8V302.1H134.9ZM146.6 299.8H139.9V298L136.1 300.9L139.9 303.8V302.1H146.6ZM158.3 299.8H151.6V298L147.8 300.9L151.6 303.8V302.1H158.3ZM170.6 299.8H163.3V298L159.5 300.9L163.3 303.8V302.1H170.6ZM223 299.8H208.8V298L205 300.9L208.8 303.8V302.1H223ZM234.1 299.8H226.8V298L223 300.9L226.8 303.8V302.1H234.1ZM246.3 299.8H239.1V298L235.3 300.9L239.1 303.8V302.1H246.3ZM291.8 299.8H292.6V298L293.3 300.9L292.6 303.8V302.1H291.8ZM352.3 299.8H350.2V298L348.1 300.9L350.2 303.8V302.1H352.3ZM367.2 299.8H377.8V298L381.6 300.9L377.8 303.8V302.1H367.2ZM391.2 299.8H405.2V298L409 300.9L405.2 303.8V302.1H391.2ZM410.2 299.8H424.2V298L428 300.9L424.2 303.8V302.1H410.2ZM428 299.8H437.8V298L441.6 300.9L437.8 303.8V302.1H428ZM456.4 299.8H446.6V298L442.8 300.9L446.6 303.8V302.1H456.4ZM469.9 299.8H477.5V298L481.3 300.9L477.5 303.8V302.1H469.9ZM510.3 299.8H507.3V298L504.3 300.9L507.3 303.8V302.1H510.3ZM524.4 299.8H535.8V298L539.6 300.9L535.8 303.8V302.1H524.4ZM540.8 299.8H552.3V298L556.1 300.9L552.3 303.8V302.1H540.8ZM585.1 299.8H587.1V298L589 300.9L587.1 303.8V302.1H585.1ZM601.6 299.8H598.3V298L595 300.9L598.3 303.8V302.1H601.6ZM620.1 299.8H629.2V298L633 300.9L629.2 303.8V302.1H620.1ZM43.4 308.6H36.2V306.8L32.4 309.7L36.2 312.6V310.9H43.4ZM145.2 308.6H128V306.8L124.2 309.7L128 312.6V310.9H145.2ZM161.6 308.6H160.9V306.8L160.2 309.7L160.9 312.6V310.9H161.6ZM184.5 308.6H178V306.8L174.2 309.7L178 312.6V310.9H184.5ZM185.7 308.6H192.3V306.8L196.1 309.7L192.3 312.6V310.9H185.7ZM248.4 308.6H263.5V306.8L267.3 309.7L263.5 312.6V310.9H248.4ZM285.2 308.6H292.4V306.8L296.2 309.7L292.4 312.6V310.9H285.2ZM297.4 308.6H304.5V306.8L308.3 309.7L304.5 312.6V310.9H297.4ZM324.8 308.6H322.5V306.8L320.3 309.7L322.5 312.6V310.9H324.8ZM341.2 308.6H353.9V306.8L357.7 309.7L353.9 312.6V310.9H341.2ZM397 308.6H383.9V306.8L380.1 309.7L383.9 312.6V310.9H397ZM415.1 308.6H402V306.8L398.2 309.7L402 312.6V310.9H415.1ZM463.3 308.6H461.8V306.8L460.3 309.7L461.8 312.6V310.9H463.3ZM485.5 308.6H488.9V306.8L492.3 309.7L488.9 312.6V310.9H485.5ZM507.3 308.6H517V306.8L520.8 309.7L517 312.6V310.9H507.3ZM532.7 308.6H543.3V306.8L547.1 309.7L543.3 312.6V310.9H532.7ZM570.2 308.6H561.1V306.8L557.3 309.7L561.1 312.6V310.9H570.2ZM589.6 308.6H588.9V306.8L588.1 309.7L588.9 312.6V310.9H589.6ZM621.9 308.6H601.8V306.8L598 309.7L601.8 312.6V310.9H621.9ZM53 317.4H41.3V315.6L37.5 318.5L41.3 321.4V319.7H53ZM69.2 317.4H58V315.6L54.2 318.5L58 321.4V319.7H69.2ZM70.4 317.4H81.5V315.6L85.3 318.5L81.5 321.4V319.7H70.4ZM86.5 317.4H97.7V315.6L101.5 318.5L97.7 321.4V319.7H86.5ZM102.7 317.4H114.5V315.6L118.3 318.5L114.5 321.4V319.7H102.7ZM161.1 317.4H153.5V315.6L149.7 318.5L153.5 321.4V319.7H161.1ZM184.1 317.4H190.9V315.6L194.7 318.5L190.9 321.4V319.7H184.1ZM195.9 317.4H202.7V315.6L206.5 318.5L202.7 321.4V319.7H195.9ZM223 317.4H233.6V315.6L237.4 318.5L233.6 321.4V319.7H223ZM238.6 317.4H249.1V315.6L252.9 318.5L249.1 321.4V319.7H238.6ZM281.4 317.4H271.1V315.6L267.3 318.5L271.1 321.4V319.7H281.4ZM342.1 317.4H336.9V315.6L333.1 318.5L336.9 321.4V319.7H342.1ZM351.7 317.4H347.1V315.6L343.3 318.5L347.1 321.4V319.7H351.7ZM361.3 317.4H356.7V315.6L352.9 318.5L356.7 321.4V319.7H361.3ZM362.5 317.4H367V315.6L370.8 318.5L367 321.4V319.7H362.5ZM372 317.4H377.2V315.6L381 318.5L377.2 321.4V319.7H372ZM404.1 317.4H395V315.6L391.2 318.5L395 321.4V319.7H404.1ZM468.3 317.4H460.2V315.6L456.4 318.5L460.2 321.4V319.7H468.3ZM481.3 317.4H473.3V315.6L469.5 318.5L473.3 321.4V319.7H481.3ZM544.2 317.4H535.9V315.6L532.1 318.5L535.9 321.4V319.7H544.2ZM545.4 317.4H553V315.6L556.8 318.5L553 321.4V319.7H545.4ZM558 317.4H565.6V315.6L569.4 318.5L565.6 321.4V319.7H558ZM570.6 317.4H578.2V315.6L582 318.5L578.2 321.4V319.7H570.6ZM594.6 317.4H587V315.6L583.2 318.5L587 321.4V319.7H594.6ZM607.2 317.4H599.6V315.6L595.8 318.5L599.6 321.4V319.7H607.2ZM619.8 317.4H612.2V315.6L608.4 318.5L612.2 321.4V319.7H619.8ZM633 317.4H624.8V315.6L621 318.5L624.8 321.4V319.7H633ZM18.4 326.2H23.2V324.5L27 327.4L23.2 330.2V328.5H18.4ZM62.9 326.2H48.7V324.5L44.9 327.4L48.7 330.2V328.5H62.9ZM93.4 326.2H90.1V324.5L86.8 327.4L90.1 330.2V328.5H93.4ZM134.1 326.2H132.2V324.5L130.2 327.4L132.2 330.2V328.5H134.1ZM186.2 326.2H185.1V324.5L184.1 327.4L185.1 330.2V328.5H186.2ZM198.2 326.2H199.1V324.5L200 327.4L199.1 330.2V328.5H198.2ZM249.3 326.2H250.8V324.5L252.3 327.4L250.8 330.2V328.5H249.3ZM454.9 326.2H439.3V324.5L435.5 327.4L439.3 330.2V328.5H454.9ZM478.9 326.2H480.7V324.5L482.5 327.4L480.7 330.2V328.5H478.9ZM520.8 326.2H528.9V324.5L532.7 327.4L528.9 330.2V328.5H520.8ZM533.9 326.2H541.5V324.5L545.3 327.4L541.5 330.2V328.5H533.9ZM546.5 326.2H554.1V324.5L557.9 327.4L554.1 330.2V328.5H546.5ZM571.1 326.2H562.9V324.5L559.1 327.4L562.9 330.2V328.5H571.1ZM600.5 326.2H588.9V324.5L585.1 327.4L588.9 330.2V328.5H600.5ZM601.7 326.2H612.6V324.5L616.4 327.4L612.6 330.2V328.5H601.7ZM633 326.2H621.4V324.5L617.6 327.4L621.4 330.2V328.5H633ZM18.4 335H26.8V333.3L30.6 336.2L26.8 339.1V337.3H18.4ZM59.9 335H62.1V333.3L64.4 336.2L62.1 339.1V337.3H59.9ZM71.3 335H76.9V333.3L80.7 336.2L76.9 339.1V337.3H71.3ZM81.9 335H86.9V333.3L90.7 336.2L86.9 339.1V337.3H81.9ZM91.9 335H96.9V333.3L100.7 336.2L96.9 339.1V337.3H91.9ZM110.7 335H105.7V333.3L101.9 336.2L105.7 339.1V337.3H110.7ZM121.2 335H115.7V333.3L111.9 336.2L115.7 339.1V337.3H121.2ZM148.2 335H162.2V333.3L166 336.2L162.2 339.1V337.3H148.2ZM167.2 335H180.7V333.3L184.5 336.2L180.7 339.1V337.3H167.2ZM203.5 335H189.5V333.3L185.7 336.2L189.5 339.1V337.3H203.5ZM230.5 335H238.4V333.3L242.2 336.2L238.4 339.1V337.3H230.5ZM243.4 335H250.6V333.3L254.4 336.2L250.6 339.1V337.3H243.4ZM255.6 335H263.5V333.3L267.3 336.2L263.5 339.1V337.3H255.6ZM285.8 335H294V333.3L297.8 336.2L294 339.1V337.3H285.8ZM323.3 335H327V333.3L330.7 336.2L327 339.1V337.3H323.3ZM345.1 335H343.6V333.3L342.1 336.2L343.6 339.1V337.3H345.1ZM445.4 335H441.9V333.3L438.5 336.2L441.9 339.1V337.3H445.4ZM508.3 335H498.2V333.3L494.4 336.2L498.2 339.1V337.3H508.3ZM509.5 335H518.9V333.3L522.7 336.2L518.9 339.1V337.3H509.5ZM523.9 335H533.4V333.3L537.2 336.2L533.4 339.1V337.3H523.9ZM538.4 335H548.4V333.3L552.2 336.2L548.4 339.1V337.3H538.4ZM611.2 335H615.7V333.3L619.5 336.2L615.7 339.1V337.3H611.2ZM626.1 335H629.6V333.3L633 336.2L629.6 339.1V337.3H626.1ZM30.6 343.8H22.2V342.1L18.4 345L22.2 347.9V346.1H30.6ZM43.4 343.8H45.7V342.1L47.9 345L45.7 347.9V346.1H43.4ZM82.3 343.8H80.1V342.1L77.9 345L80.1 347.9V346.1H82.3ZM92.8 343.8H91V342.1L89.2 345L91 347.9V346.1H92.8ZM121.7 343.8H111V342.1L107.2 345L111 347.9V346.1H121.7ZM136.9 343.8H126.7V342.1L122.9 345L126.7 347.9V346.1H136.9ZM152.7 343.8H141.9V342.1L138.1 345L141.9 347.9V346.1H152.7ZM175.1 343.8H178.9V342.1L182.7 345L178.9 347.9V346.1H175.1ZM191.6 343.8H187.7V342.1L183.9 345L187.7 347.9V346.1H191.6ZM223 343.8H211.8V342.1L208 345L211.8 347.9V346.1H223ZM223 343.8H225.2V342.1L227.5 345L225.2 347.9V346.1H223ZM293.3 343.8H300.9V342.1L304.7 345L300.9 347.9V346.1H293.3ZM305.9 343.8H312.9V342.1L316.7 345L312.9 347.9V346.1H305.9ZM329.2 343.8H321.7V342.1L317.9 345L321.7 347.9V346.1H329.2ZM357.1 343.8H366.9V342.1L370.7 345L366.9 347.9V346.1H357.1ZM371.9 343.8H381V342.1L384.8 345L381 347.9V346.1H371.9ZM386 343.8H395.2V342.1L399 345L395.2 347.9V346.1H386ZM413.2 343.8H404V342.1L400.2 345L404 347.9V346.1H413.2ZM428 343.8H418.2V342.1L414.4 345L418.2 347.9V346.1H428ZM431.6 343.8H443.7V342.1L447.5 345L443.7 347.9V346.1H431.6ZM468.4 343.8H466.9V342.1L465.4 345L466.9 347.9V346.1H468.4ZM472.9 343.8H480.8V342.1L484.6 345L480.8 347.9V346.1H472.9ZM485.8 343.8H493V342.1L496.8 345L493 347.9V346.1H485.8ZM498 343.8H505.3V342.1L509.1 345L505.3 347.9V346.1H498ZM521.4 343.8H514.1V342.1L510.3 345L514.1 347.9V346.1H521.4ZM534.2 343.8H526.4V342.1L522.6 345L526.4 347.9V346.1H534.2ZM568.7 343.8H562V342.1L558.2 345L562 347.9V346.1H568.7ZM569.9 343.8H575.9V342.1L579.7 345L575.9 347.9V346.1H569.9ZM590.8 343.8H584.7V342.1L580.9 345L584.7 347.9V346.1H590.8ZM601.9 343.8H595.8V342.1L592 345L595.8 347.9V346.1H601.9ZM613.5 343.8H606.9V342.1L603.1 345L606.9 347.9V346.1H613.5ZM23.4 352.6H34V350.9L37.8 353.8L34 356.7V354.9H23.4ZM39 352.6H49.5V350.9L53.3 353.8L49.5 356.7V354.9H39ZM71.9 352.6H80.9V350.9L84.7 353.8L80.9 356.7V354.9H71.9ZM98.8 352.6H89.7V350.9L85.9 353.8L89.7 356.7V354.9H98.8ZM135.3 352.6H143.7V350.9L147.5 353.8L143.7 356.7V354.9H135.3ZM148.7 352.6H156.4V350.9L160.2 353.8L156.4 356.7V354.9H148.7ZM161.4 352.6H169.2V350.9L173 353.8L169.2 356.7V354.9H161.4ZM185.7 352.6H178V350.9L174.2 353.8L178 356.7V354.9H185.7ZM199.1 352.6H190.7V350.9L186.9 353.8L190.7 356.7V354.9H199.1ZM223 352.6H218.7V350.9L214.9 353.8L218.7 356.7V354.9H223ZM223 352.6H225.7V350.9L228.4 353.8L225.7 356.7V354.9H223ZM244.9 352.6H238.2V350.9L234.4 353.8L238.2 356.7V354.9H244.9ZM256.1 352.6H249.9V350.9L246.1 353.8L249.9 356.7V354.9H256.1ZM257.3 352.6H264.1V350.9L267.9 353.8L264.1 356.7V354.9H257.3ZM282.3 352.6H297.6V350.9L301.4 353.8L297.6 356.7V354.9H282.3ZM367.5 352.6H363.8V350.9L360.1 353.8L363.8 356.7V354.9H367.5ZM368.7 352.6H372.5V350.9L376.2 353.8L372.5 356.7V354.9H368.7ZM392.1 352.6H399.7V350.9L403.5 353.8L399.7 356.7V354.9H392.1ZM404.7 352.6H412.2V350.9L416 353.8L412.2 356.7V354.9H404.7ZM468.4 352.6H474.5V350.9L478.3 353.8L474.5 356.7V354.9H468.4ZM489.4 352.6H483.3V350.9L479.5 353.8L483.3 356.7V354.9H489.4ZM522 352.6H515.6V350.9L511.8 353.8L515.6 356.7V354.9H522ZM532.9 352.6H527V350.9L523.2 353.8L527 356.7V354.9H532.9ZM543.7 352.6H537.9V350.9L534.1 353.8L537.9 356.7V354.9H543.7ZM544.9 352.6H551.4V350.9L555.2 353.8L551.4 356.7V354.9H544.9ZM565.7 352.6H571.1V350.9L574.9 353.8L571.1 356.7V354.9H565.7ZM576.1 352.6H581V350.9L584.8 353.8L581 356.7V354.9H576.1ZM586 352.6H590.9V350.9L594.7 353.8L590.9 356.7V354.9H586ZM595.9 352.6H600.8V350.9L604.6 353.8L600.8 356.7V354.9H595.9ZM615 352.6H609.6V350.9L605.8 353.8L609.6 356.7V354.9H615ZM31.5 361.4H22.2V359.7L18.4 362.6L22.2 365.5V363.7H31.5ZM41.9 361.4H43.1V359.7L44.3 362.6L43.1 365.5V363.7H41.9ZM80.2 361.4H72.1V359.7L68.3 362.6L72.1 365.5V363.7H80.2ZM110.8 361.4H113.8V359.7L116.8 362.6L113.8 365.5V363.7H110.8ZM143.7 361.4H144.4V359.7L145.2 362.6L144.4 365.5V363.7H143.7ZM175.1 361.4H172.9V359.7L170.6 362.6L172.9 365.5V363.7H175.1ZM223 361.4H221.5V359.7L220 362.6L221.5 365.5V363.7H223ZM251.7 361.4H246.3V359.7L242.5 362.6L246.3 365.5V363.7H251.7ZM252.9 361.4H257.7V359.7L261.5 362.6L257.7 365.5V363.7H252.9ZM271.3 361.4H266.5V359.7L262.7 362.6L266.5 365.5V363.7H271.3ZM281.2 361.4H276.3V359.7L272.5 362.6L276.3 365.5V363.7H281.2ZM282.4 361.4H287.2V359.7L291 362.6L287.2 365.5V363.7H282.4ZM292.2 361.4H297.6V359.7L301.4 362.6L297.6 365.5V363.7H292.2ZM331.3 361.4H330.3V359.7L329.2 362.6L330.3 365.5V363.7H331.3ZM395.1 361.4H409.2V359.7L413 362.6L409.2 365.5V363.7H395.1ZM435.5 361.4H442.2V359.7L446 362.6L442.2 365.5V363.7H435.5ZM504.3 361.4H511.1V359.7L514.9 362.6L511.1 365.5V363.7H504.3ZM516.1 361.4H523V359.7L526.8 362.6L523 365.5V363.7H516.1ZM556.7 361.4H547.9V359.7L544.1 362.6L547.9 365.5V363.7H556.7ZM557.9 361.4H566.1V359.7L569.9 362.6L566.1 365.5V363.7H557.9ZM571.1 361.4H579.8V359.7L583.6 362.6L579.8 365.5V363.7H571.1ZM32.4 370.3H22.2V368.5L18.4 371.4L22.2 374.3V372.6H32.4ZM47 370.3H37.4V368.5L33.6 371.4L37.4 374.3V372.6H47ZM61.6 370.3H52V368.5L48.2 371.4L52 374.3V372.6H61.6ZM76.1 370.3H66.6V368.5L62.8 371.4L66.6 374.3V372.6H76.1ZM77.3 370.3H87.5V368.5L91.3 371.4L87.5 374.3V372.6H77.3ZM104.8 370.3H112.4V368.5L116.2 371.4L112.4 374.3V372.6H104.8ZM117.4 370.3H124.3V368.5L128.1 371.4L124.3 374.3V372.6H117.4ZM129.3 370.3H136.9V368.5L140.7 371.4L136.9 374.3V372.6H129.3ZM163.1 370.3H170.2V368.5L174 371.4L170.2 374.3V372.6H163.1ZM175.2 370.3H181.7V368.5L185.5 371.4L181.7 374.3V372.6H175.2ZM186.7 370.3H193.8V368.5L197.6 371.4L193.8 374.3V372.6H186.7ZM223 370.3H220.5V368.5L217.9 371.4L220.5 374.3V372.6H223ZM241 370.3H246.7V368.5L250.5 371.4L246.7 374.3V372.6H241ZM260.4 370.3H259.4V368.5L258.3 371.4L259.4 374.3V372.6H260.4ZM288.2 370.3H289.3V368.5L290.3 371.4L289.3 374.3V372.6H288.2ZM322.4 370.3H327.6V368.5L331.4 371.4L327.6 374.3V372.6H322.4ZM332.6 370.3H337.3V368.5L341.1 371.4L337.3 374.3V372.6H332.6ZM342.3 370.3H347V368.5L350.8 371.4L347 374.3V372.6H342.3ZM360.4 370.3H355.8V368.5L352 371.4L355.8 374.3V372.6H360.4ZM370.1 370.3H365.4V368.5L361.6 371.4L365.4 374.3V372.6H370.1ZM371.3 370.3H376V368.5L379.8 371.4L376 374.3V372.6H371.3ZM381 370.3H385.6V368.5L389.4 371.4L385.6 374.3V372.6H381ZM399.1 370.3H394.4V368.5L390.6 371.4L394.4 374.3V372.6H399.1ZM408.8 370.3H404.1V368.5L400.3 371.4L404.1 374.3V372.6H408.8ZM410 370.3H415.2V368.5L419 371.4L415.2 374.3V372.6H410ZM459.4 370.3H463.2V368.5L466.9 371.4L463.2 374.3V372.6H459.4ZM526.8 370.3H539.4V368.5L543.2 371.4L539.4 374.3V372.6H526.8ZM550.7 370.3H558.3V368.5L562.1 371.4L558.3 374.3V372.6H550.7ZM563.3 370.3H570.8V368.5L574.6 371.4L570.8 374.3V372.6H563.3ZM621 370.3H618.8V368.5L616.5 371.4L618.8 374.3V372.6H621ZM30 379.1H31.2V377.3L32.4 380.2L31.2 383.1V381.4H30ZM67.5 379.1H57.1V377.3L53.3 380.2L57.1 383.1V381.4H67.5ZM82.2 379.1H72.5V377.3L68.7 380.2L72.5 383.1V381.4H82.2ZM83.4 379.1H93.1V377.3L96.9 380.2L93.1 383.1V381.4H83.4ZM112.3 379.1H101.9V377.3L98.1 380.2L101.9 383.1V381.4H112.3ZM147 379.1H142.1V377.3L138.3 380.2L142.1 383.1V381.4H147ZM156.3 379.1H152V377.3L148.2 380.2L152 383.1V381.4H156.3ZM166.1 379.1H161.3V377.3L157.5 380.2L161.3 383.1V381.4H166.1ZM181.1 379.1H186.4V377.3L190.2 380.2L186.4 383.1V381.4H181.1ZM191.4 379.1H196.8V377.3L200.6 380.2L196.8 383.1V381.4H191.4ZM273.3 379.1H256.7V377.3L252.9 380.2L256.7 383.1V381.4H273.3ZM303.8 379.1H302.6V377.3L301.4 380.2L302.6 383.1V381.4H303.8ZM312.8 379.1H318V377.3L321.8 380.2L318 383.1V381.4H312.8ZM343.3 379.1H347.3V377.3L351.1 380.2L347.3 383.1V381.4H343.3ZM393.3 379.1H379.4V377.3L375.6 380.2L379.4 383.1V381.4H393.3ZM412.1 379.1H398.3V377.3L394.5 380.2L398.3 383.1V381.4H412.1ZM435.5 379.1H440.1V377.3L443.9 380.2L440.1 383.1V381.4H435.5ZM453.4 379.1H448.9V377.3L445.1 380.2L448.9 383.1V381.4H453.4ZM489.4 379.1H493.1V377.3L496.8 380.2L493.1 383.1V381.4H489.4ZM522.3 379.1H521.5V377.3L520.8 380.2L521.5 383.1V381.4H522.3ZM556.1 379.1H550.9V377.3L547.1 380.2L550.9 383.1V381.4H556.1ZM565.7 379.1H561.1V377.3L557.3 380.2L561.1 383.1V381.4H565.7ZM566.9 379.1H571.4V377.3L575.2 380.2L571.4 383.1V381.4H566.9ZM576.4 379.1H581V377.3L584.8 380.2L581 383.1V381.4H576.4ZM586 379.1H591.2V377.3L595 380.2L591.2 383.1V381.4H586ZM21 387.9H30.7V386.1L34.5 389L30.7 391.9V390.2H21ZM54.8 387.9H45.7V386.1L41.9 389L45.7 391.9V390.2H54.8ZM68.9 387.9H59.8V386.1L56 389L59.8 391.9V390.2H68.9ZM91.7 387.9H83.2V386.1L79.4 389L83.2 391.9V390.2H91.7ZM104.6 387.9H96.7V386.1L92.9 389L96.7 391.9V390.2H104.6ZM105.8 387.9H113.8V386.1L117.6 389L113.8 391.9V390.2H105.8ZM118.8 387.9H127.3V386.1L131.1 389L127.3 391.9V390.2H118.8ZM166.1 387.9H155V386.1L151.2 389L155 391.9V390.2H166.1ZM178.1 387.9H195.3V386.1L199.1 389L195.3 391.9V390.2H178.1ZM235.9 387.9H228.3V386.1L224.5 389L228.3 391.9V390.2H235.9ZM247.8 387.9H240.9V386.1L237.1 389L240.9 391.9V390.2H247.8ZM259.8 387.9H252.8V386.1L249 389L252.8 391.9V390.2H259.8ZM261 387.9H268.6V386.1L272.4 389L268.6 391.9V390.2H261ZM318.2 387.9H319.7V386.1L321.2 389L319.7 391.9V390.2H318.2ZM351.7 387.9H355.4V386.1L359.2 389L355.4 391.9V390.2H351.7ZM428 387.9H424.6V386.1L421.1 389L424.6 391.9V390.2H428ZM454.3 387.9H451.9V386.1L449.5 389L451.9 391.9V390.2H454.3ZM481 387.9H475.2V386.1L471.4 389L475.2 391.9V390.2H481ZM482.2 387.9H487.5V386.1L491.3 389L487.5 391.9V390.2H482.2ZM492.5 387.9H497.7V386.1L501.5 389L497.7 391.9V390.2H492.5ZM502.7 387.9H508.6V386.1L512.4 389L508.6 391.9V390.2H502.7ZM526.8 387.9H536.4V386.1L540.2 389L536.4 391.9V390.2H526.8ZM610 387.9H603.9V386.1L600.1 389L603.9 391.9V390.2H610ZM626.1 387.9H629.6V386.1L633 389L629.6 391.9V390.2H626.1ZM18.4 396.7H26.2V394.9L30 397.8L26.2 400.7V399H18.4ZM42.3 396.7H35V394.9L31.2 397.8L35 400.7V399H42.3ZM54.5 396.7H47.3V394.9L43.5 397.8L47.3 400.7V399H54.5ZM55.7 396.7H63.6V394.9L67.4 397.8L63.6 400.7V399H55.7ZM86.3 396.7H76.3V394.9L72.5 397.8L76.3 400.7V399H86.3ZM100.7 396.7H91.3V394.9L87.5 397.8L91.3 400.7V399H100.7ZM115.2 396.7H105.7V394.9L101.9 397.8L105.7 400.7V399H115.2ZM116.4 396.7H126.4V394.9L130.2 397.8L126.4 400.7V399H116.4ZM173.6 396.7H172.1V394.9L170.6 397.8L172.1 400.7V399H173.6ZM217.9 396.7H208.8V394.9L205 397.8L208.8 400.7V399H217.9ZM263.8 396.7H252.2V394.9L248.4 397.8L252.2 400.7V399H263.8ZM279.7 396.7H268.8V394.9L265 397.8L268.8 400.7V399H279.7ZM280.9 396.7H291.9V394.9L295.7 397.8L291.9 400.7V399H280.9ZM296.9 396.7H307.8V394.9L311.6 397.8L307.8 400.7V399H296.9ZM312.8 396.7H323.8V394.9L327.6 397.8L323.8 400.7V399H312.8ZM328.8 396.7H339.7V394.9L343.5 397.8L339.7 400.7V399H328.8ZM360.1 396.7H348.5V394.9L344.7 397.8L348.5 400.7V399H360.1ZM411.7 396.7H400.4V394.9L396.6 397.8L400.4 400.7V399H411.7ZM428 396.7H416.7V394.9L412.9 397.8L416.7 400.7V399H428ZM428 396.7H433.1V394.9L436.9 397.8L433.1 400.7V399H428ZM438.1 396.7H442.6V394.9L446.4 397.8L442.6 400.7V399H438.1ZM447.6 396.7H452.6V394.9L456.4 397.8L452.6 400.7V399H447.6ZM493.2 396.7H500V394.9L503.8 397.8L500 400.7V399H493.2ZM505 396.7H511.2V394.9L515 397.8L511.2 400.7V399H505ZM516.2 396.7H522.4V394.9L526.2 397.8L522.4 400.7V399H516.2ZM537.4 396.7H531.2V394.9L527.4 397.8L531.2 400.7V399H537.4ZM538.6 396.7H544.8V394.9L548.6 397.8L544.8 400.7V399H538.6ZM559.8 396.7H553.6V394.9L549.8 397.8L553.6 400.7V399H559.8ZM571.6 396.7H564.8V394.9L561 397.8L564.8 400.7V399H571.6ZM617.1 396.7H615.3V394.9L613.5 397.8L615.3 400.7V399H617.1ZM41.5 405.5H31.4V403.7L27.6 406.6L31.4 409.5V407.8H41.5ZM42.7 405.5H52.3V403.7L56.1 406.6L52.3 409.5V407.8H42.7ZM57.3 405.5H67.5V403.7L71.3 406.6L67.5 409.5V407.8H57.3ZM128.1 405.5H121.2V403.7L117.4 406.6L121.2 409.5V407.8H128.1ZM173.7 405.5H161.9V403.7L158.1 406.6L161.9 409.5V407.8H173.7ZM189.9 405.5H178.7V403.7L174.9 406.6L178.7 409.5V407.8H189.9ZM191.1 405.5H202.4V403.7L206.2 406.6L202.4 409.5V407.8H191.1ZM207.4 405.5H219.2V403.7L223 406.6L219.2 409.5V407.8H207.4ZM238.6 405.5H226.8V403.7L223 406.6L226.8 409.5V407.8H238.6ZM271.3 405.5H267.2V403.7L263.4 406.6L267.2 409.5V407.8H271.3ZM279.8 405.5H276.1V403.7L272.5 406.6L276.1 409.5V407.8H279.8ZM288.2 405.5H284.6V403.7L281 406.6L284.6 409.5V407.8H288.2ZM289.4 405.5H293.1V403.7L296.7 406.6L293.1 409.5V407.8H289.4ZM297.9 405.5H301.6V403.7L305.2 406.6L301.6 409.5V407.8H297.9ZM306.4 405.5H310.5V403.7L314.3 406.6L310.5 409.5V407.8H306.4ZM344.2 405.5H350.1V403.7L353.9 406.6L350.1 409.5V407.8H344.2ZM355.1 405.5H360.4V403.7L364.2 406.6L360.4 409.5V407.8H355.1ZM365.4 405.5H371.2V403.7L375 406.6L371.2 409.5V407.8H365.4ZM396 405.5H404.6V403.7L408.4 406.6L404.6 409.5V407.8H396ZM409.6 405.5H418.2V403.7L422 406.6L418.2 409.5V407.8H409.6ZM466.9 405.5H468.1V403.7L469.3 406.6L468.1 409.5V407.8H466.9ZM481.3 405.5H499.6V403.7L503.4 406.6L499.6 409.5V407.8H481.3ZM547.7 405.5H555.3V403.7L559.1 406.6L555.3 409.5V407.8H547.7ZM599.2 405.5H601.9V403.7L604.6 406.6L601.9 409.5V407.8H599.2ZM44.3 414.3H42.8V412.6L41.3 415.5L42.8 418.4V416.6H44.3ZM71.3 414.3H78.4V412.6L82.2 415.5L78.4 418.4V416.6H71.3ZM83.4 414.3H90.5V412.6L94.3 415.5L90.5 418.4V416.6H83.4ZM120.4 414.3H118.3V412.6L116.2 415.5L118.3 418.4V416.6H120.4ZM137.1 414.3H136.2V412.6L135.3 415.5L136.2 418.4V416.6H137.1ZM152.7 414.3H151.9V412.6L151.2 415.5L151.9 418.4V416.6H152.7ZM182.6 414.3H179.3V412.6L176 415.5L179.3 418.4V416.6H182.6ZM193.1 414.3H195.3V412.6L197.6 415.5L195.3 418.4V416.6H193.1ZM207.1 414.3H214.7V412.6L218.5 415.5L214.7 418.4V416.6H207.1ZM224.5 414.3H226.4V412.6L228.4 415.5L226.4 418.4V416.6H224.5ZM261 414.3H247.2V412.6L243.4 415.5L247.2 418.4V416.6H261ZM262.2 414.3H276.1V412.6L279.9 415.5L276.1 418.4V416.6H262.2ZM309.2 414.3H301.6V412.6L297.8 415.5L301.6 418.4V416.6H309.2ZM321.8 414.3H314.2V412.6L310.4 415.5L314.2 418.4V416.6H321.8ZM333.7 414.3H328V412.6L324.2 415.5L328 418.4V416.6H333.7ZM334.9 414.3H340.1V412.6L343.9 415.5L340.1 418.4V416.6H334.9ZM345.1 414.3H350.3V412.6L354.1 415.5L350.3 418.4V416.6H345.1ZM355.3 414.3H360.5V412.6L364.3 415.5L360.5 418.4V416.6H355.3ZM375 414.3H369.3V412.6L365.5 415.5L369.3 418.4V416.6H375ZM413.2 414.3H409.4V412.6L405.6 415.5L409.4 418.4V416.6H413.2ZM422 414.3H418.2V412.6L414.4 415.5L418.2 418.4V416.6H422ZM449.8 414.3H445.3V412.6L441.5 415.5L445.3 418.4V416.6H449.8ZM459.4 414.3H454.8V412.6L451 415.5L454.8 418.4V416.6H459.4ZM600.1 414.3H594.9V412.6L591.1 415.5L594.9 418.4V416.6H600.1ZM633 414.3H630.8V412.6L628.5 415.5L630.8 418.4V416.6H633ZM47.9 423.1H47.2V421.4L46.4 424.3L47.2 427.2V425.4H47.9ZM84.3 423.1H76.3V421.4L72.5 424.3L76.3 427.2V425.4H84.3ZM85.5 423.1H93.5V421.4L97.3 424.3L93.5 427.2V425.4H85.5ZM134.7 423.1H134V421.4L133.2 424.3L134 427.2V425.4H134.7ZM147.3 423.1H157.3V421.4L161.1 424.3L157.3 427.2V425.4H147.3ZM176 423.1H187.3V421.4L191.1 424.3L187.3 427.2V425.4H176ZM192.3 423.1H202.9V421.4L206.7 424.3L202.9 427.2V425.4H192.3ZM207.9 423.1H219.2V421.4L223 424.3L219.2 427.2V425.4H207.9ZM308.1 423.1H298V421.4L294.2 424.3L298 427.2V425.4H308.1ZM323.3 423.1H313.1V421.4L309.3 424.3L313.1 427.2V425.4H323.3ZM339.7 423.1H340.9V421.4L342.1 424.3L340.9 427.2V425.4H339.7ZM364 423.1H359.1V421.4L355.3 424.3L359.1 427.2V425.4H364ZM373.2 423.1H369V421.4L365.2 424.3L369 427.2V425.4H373.2ZM382.5 423.1H378.2V421.4L374.4 424.3L378.2 427.2V425.4H382.5ZM391.8 423.1H387.5V421.4L383.7 424.3L387.5 427.2V425.4H391.8ZM393 423.1H397.3V421.4L401.1 424.3L397.3 427.2V425.4H393ZM410.9 423.1H406.1V421.4L402.3 424.3L406.1 427.2V425.4H410.9ZM453.4 423.1H443.2V421.4L439.4 424.3L443.2 427.2V425.4H453.4ZM454.6 423.1H464.2V421.4L468 424.3L464.2 427.2V425.4H454.6ZM482.6 423.1H473V421.4L469.2 424.3L473 427.2V425.4H482.6ZM497.2 423.1H487.6V421.4L483.8 424.3L487.6 427.2V425.4H497.2ZM512.4 423.1H502.2V421.4L498.4 424.3L502.2 427.2V425.4H512.4ZM533 423.1H529.6V421.4L526.2 424.3L529.6 427.2V425.4H533ZM534.2 423.1H537.7V421.4L541.1 424.3L537.7 427.2V425.4H534.2ZM566.3 423.1H553.9V421.4L550.1 424.3L553.9 427.2V425.4H566.3ZM31.5 431.9H39V430.2L42.8 433.1L39 436V434.2H31.5ZM44 431.9H51.6V430.2L55.4 433.1L51.6 436V434.2H44ZM107.8 431.9H109.3V430.2L110.8 433.1L109.3 436V434.2H107.8ZM125.1 431.9H134.5V430.2L138.3 433.1L134.5 436V434.2H125.1ZM152.7 431.9H143.3V430.2L139.5 433.1L143.3 436V434.2H152.7ZM214 431.9H212.5V430.2L211 433.1L212.5 436V434.2H214ZM279.3 431.9H290.4V430.2L294.2 433.1L290.4 436V434.2H279.3ZM338.2 431.9H329.2V430.2L325.4 433.1L329.2 436V434.2H338.2ZM352.3 431.9H343.2V430.2L339.4 433.1L343.2 436V434.2H352.3ZM428 431.9H415.9V430.2L412.1 433.1L415.9 436V434.2H428ZM461.2 431.9H453.3V430.2L449.5 433.1L453.3 436V434.2H461.2ZM473.5 431.9H466.2V430.2L462.4 433.1L466.2 436V434.2H473.5ZM474.7 431.9H482.6V430.2L486.4 433.1L482.6 436V434.2H474.7ZM505.8 431.9H508.1V430.2L510.3 433.1L508.1 436V434.2H505.8ZM549.5 431.9H538V430.2L534.2 433.1L538 436V434.2H549.5ZM550.7 431.9H561.6V430.2L565.4 433.1L561.6 436V434.2H550.7ZM566.6 431.9H577.4V430.2L581.2 433.1L577.4 436V434.2H566.6ZM597.1 431.9H586.2V430.2L582.4 433.1L586.2 436V434.2H597.1ZM613.5 431.9H602.1V430.2L598.3 433.1L602.1 436V434.2H613.5ZM627.9 431.9H630.5V430.2L633 433.1L630.5 436V434.2H627.9ZM32.4 440.7H22.2V439L18.4 441.9L22.2 444.8V443H32.4ZM89.8 440.7H86.8V439L83.8 441.9L86.8 444.8V443H89.8ZM125.7 440.7H133.3V439L137.1 441.9L133.3 444.8V443H125.7ZM149.1 440.7H142.1V439L138.3 441.9L142.1 444.8V443H149.1ZM161 440.7H154.1V439L150.3 441.9L154.1 444.8V443H161ZM173 440.7H166V439L162.2 441.9L166 444.8V443H173ZM185.6 440.7H178V439L174.2 441.9L178 444.8V443H185.6ZM193.1 440.7H191.6V439L190.1 441.9L191.6 444.8V443H193.1ZM236.5 440.7H233.9V439L231.4 441.9L233.9 444.8V443H236.5ZM276.9 440.7H273.1V439L269.4 441.9L273.1 444.8V443H276.9ZM307.1 440.7H293.2V439L289.4 441.9L293.2 444.8V443H307.1ZM325.3 440.7H312.1V439L308.3 441.9L312.1 444.8V443H325.3ZM344.2 440.7H330.3V439L326.5 441.9L330.3 444.8V443H344.2ZM372.6 440.7H382.1V439L385.9 441.9L382.1 444.8V443H372.6ZM387.1 440.7H395.9V439L399.7 441.9L395.9 444.8V443H387.1ZM400.9 440.7H409.8V439L413.6 441.9L409.8 444.8V443H400.9ZM428 440.7H418.6V439L414.8 441.9L418.6 444.8V443H428ZM451.9 440.7H448.9V439L446 441.9L448.9 444.8V443H451.9ZM516.3 440.7H509.6V439L505.8 441.9L509.6 444.8V443H516.3ZM553.7 440.7H560.6V439L564.4 441.9L560.6 444.8V443H553.7ZM575.8 440.7H569.4V439L565.6 441.9L569.4 444.8V443H575.8ZM587.1 440.7H580.8V439L577 441.9L580.8 444.8V443H587.1ZM598.4 440.7H592.1V439L588.3 441.9L592.1 444.8V443H598.4ZM599.6 440.7H605.9V439L609.7 441.9L605.9 444.8V443H599.6ZM610.9 440.7H617.3V439L621.1 441.9L617.3 444.8V443H610.9ZM633 440.7H626.1V439L622.3 441.9L626.1 444.8V443H633ZM28.5 449.5H22.2V447.8L18.4 450.7L22.2 453.6V451.8H28.5ZM58.4 449.5H49.3V447.8L45.5 450.7L49.3 453.6V451.8H58.4ZM71.3 449.5H72.8V447.8L74.3 450.7L72.8 453.6V451.8H71.3ZM145.1 449.5H134V447.8L130.2 450.7L134 453.6V451.8H145.1ZM146.3 449.5H156.8V447.8L160.6 450.7L156.8 453.6V451.8H146.3ZM176 449.5H165.6V447.8L161.8 450.7L165.6 453.6V451.8H176ZM191.5 449.5H181V447.8L177.2 450.7L181 453.6V451.8H191.5ZM206.9 449.5H196.5V447.8L192.7 450.7L196.5 453.6V451.8H206.9ZM223 449.5H211.9V447.8L208.1 450.7L211.9 453.6V451.8H223ZM230.2 449.5H226.6V447.8L223 450.7L226.6 453.6V451.8H230.2ZM238 449.5H234.7V447.8L231.4 450.7L234.7 453.6V451.8H238ZM246.3 449.5H242.8V447.8L239.2 450.7L242.8 453.6V451.8H246.3ZM286.4 449.5H293V447.8L296.8 450.7L293 453.6V451.8H286.4ZM298 449.5H304.5V447.8L308.3 450.7L304.5 453.6V451.8H298ZM325.4 449.5H333.8V447.8L337.6 450.7L333.8 453.6V451.8H325.4ZM338.8 449.5H346.6V447.8L350.4 450.7L346.6 453.6V451.8H338.8ZM351.6 449.5H359.4V447.8L363.2 450.7L359.4 453.6V451.8H351.6ZM364.4 449.5H372.3V447.8L376.1 450.7L372.3 453.6V451.8H364.4ZM388.9 449.5H381.1V447.8L377.3 450.7L381.1 453.6V451.8H388.9ZM401.7 449.5H393.9V447.8L390.1 450.7L393.9 453.6V451.8H401.7ZM414.6 449.5H406.7V447.8L402.9 450.7L406.7 453.6V451.8H414.6ZM428 449.5H419.6V447.8L415.8 450.7L419.6 453.6V451.8H428ZM437.1 449.5H431.8V447.8L428 450.7L431.8 453.6V451.8H437.1ZM447.5 449.5H442.1V447.8L438.3 450.7L442.1 453.6V451.8H447.5ZM499.2 449.5H512.5V447.8L516.3 450.7L512.5 453.6V451.8H499.2ZM517.5 449.5H530.1V447.8L533.9 450.7L530.1 453.6V451.8H517.5ZM535.1 449.5H548.4V447.8L552.2 450.7L548.4 453.6V451.8H535.1ZM603.1 449.5H592.8V447.8L589 450.7L592.8 453.6V451.8H603.1ZM617.7 449.5H608.1V447.8L604.3 450.7L608.1 453.6V451.8H617.7ZM633 449.5H622.7V447.8L618.9 450.7L622.7 453.6V451.8H633ZM26.8 458.4H22.2V456.6L18.4 459.5L22.2 462.4V460.6H26.8ZM35.7 458.4H31.8V456.6L28 459.5L31.8 462.4V460.6H35.7ZM36.9 458.4H40.9V456.6L44.7 459.5L40.9 462.4V460.6H36.9ZM45.9 458.4H49.8V456.6L53.6 459.5L49.8 462.4V460.6H45.9ZM54.8 458.4H58.8V456.6L62.6 459.5L58.8 462.4V460.6H54.8ZM71.6 458.4H67.6V456.6L63.8 459.5L67.6 462.4V460.6H71.6ZM80.5 458.4H76.6V456.6L72.8 459.5L76.6 462.4V460.6H80.5ZM89.5 458.4H85.5V456.6L81.7 459.5L85.5 462.4V460.6H89.5ZM98.4 458.4H94.5V456.6L90.7 459.5L94.5 462.4V460.6H98.4ZM107.4 458.4H103.4V456.6L99.6 459.5L103.4 462.4V460.6H107.4ZM116.4 458.4H112.4V456.6L108.6 459.5L112.4 462.4V460.6H116.4ZM125.3 458.4H121.4V456.6L117.6 459.5L121.4 462.4V460.6H125.3ZM126.5 458.4H130.5V456.6L134.3 459.5L130.5 462.4V460.6H126.5ZM135.5 458.4H139.4V456.6L143.2 459.5L139.4 462.4V460.6H135.5ZM152.2 458.4H148.2V456.6L144.4 459.5L148.2 462.4V460.6H152.2ZM153.4 458.4H157.4V456.6L161.2 459.5L157.4 462.4V460.6H153.4ZM162.4 458.4H166.3V456.6L170.1 459.5L166.3 462.4V460.6H162.4ZM171.3 458.4H175.3V456.6L179.1 459.5L175.3 462.4V460.6H171.3ZM180.3 458.4H184.2V456.6L188 459.5L184.2 462.4V460.6H180.3ZM197 458.4H193V456.6L189.2 459.5L193 462.4V460.6H197ZM198.2 458.4H202.2V456.6L206 459.5L202.2 462.4V460.6H198.2ZM207.2 458.4H211.7V456.6L215.5 459.5L211.7 462.4V460.6H207.2ZM245.4 458.4H234.3V456.6L230.5 459.5L234.3 462.4V460.6H245.4ZM260.9 458.4H250.4V456.6L246.6 459.5L250.4 462.4V460.6H260.9ZM262.1 458.4H272.7V456.6L276.5 459.5L272.7 462.4V460.6H262.1ZM292 458.4H281.5V456.6L277.7 459.5L281.5 462.4V460.6H292ZM307.5 458.4H297V456.6L293.2 459.5L297 462.4V460.6H307.5ZM323 458.4H312.5V456.6L308.7 459.5L312.5 462.4V460.6H323ZM338.6 458.4H328V456.6L324.2 459.5L328 462.4V460.6H338.6ZM354.7 458.4H343.6V456.6L339.8 459.5L343.6 462.4V460.6H354.7ZM381 458.4H374.9V456.6L371.1 459.5L374.9 462.4V460.6H381ZM410 458.4H424.2V456.6L428 459.5L424.2 462.4V460.6H410ZM428 458.4H432.5V456.6L436.3 459.5L432.5 462.4V460.6H428ZM437.5 458.4H441.4V456.6L445.2 459.5L441.4 462.4V460.6H437.5ZM446.4 458.4H450.3V456.6L454.1 459.5L450.3 462.4V460.6H446.4ZM463.1 458.4H459.1V456.6L455.3 459.5L459.1 462.4V460.6H463.1ZM472 458.4H468.1V456.6L464.3 459.5L468.1 462.4V460.6H472ZM473.2 458.4H477.1V456.6L480.9 459.5L477.1 462.4V460.6H473.2ZM482.1 458.4H486V456.6L489.8 459.5L486 462.4V460.6H482.1ZM498.7 458.4H494.8V456.6L491 459.5L494.8 462.4V460.6H498.7ZM507.6 458.4H503.7V456.6L499.9 459.5L503.7 462.4V460.6H507.6ZM516.5 458.4H512.6V456.6L508.8 459.5L512.6 462.4V460.6H516.5ZM525.4 458.4H521.5V456.6L517.7 459.5L521.5 462.4V460.6H525.4ZM534.4 458.4H530.4V456.6L526.6 459.5L530.4 462.4V460.6H534.4ZM543.3 458.4H539.4V456.6L535.6 459.5L539.4 462.4V460.6H543.3ZM552.2 458.4H548.3V456.6L544.5 459.5L548.3 462.4V460.6H552.2ZM561.1 458.4H557.2V456.6L553.4 459.5L557.2 462.4V460.6H561.1ZM570 458.4H566.1V456.6L562.3 459.5L566.1 462.4V460.6H570ZM578.9 458.4H575V456.6L571.2 459.5L575 462.4V460.6H578.9ZM580.1 458.4H584V456.6L587.8 459.5L584 462.4V460.6H580.1ZM589 458.4H592.9V456.6L596.7 459.5L592.9 462.4V460.6H589ZM605.7 458.4H601.7V456.6L597.9 459.5L601.7 462.4V460.6H605.7ZM614.6 458.4H610.7V456.6L606.9 459.5L610.7 462.4V460.6H614.6ZM623.5 458.4H619.6V456.6L615.8 459.5L619.6 462.4V460.6H623.5ZM633 458.4H628.5V456.6L624.7 459.5L628.5 462.4V460.6H633ZM26.3 467.2H22.2V465.4L18.4 468.3L22.2 471.2V469.5H26.3ZM34.8 467.2H31.2V465.4L27.5 468.3L31.2 471.2V469.5H34.8ZM43.3 467.2H39.7V465.4L36 468.3L39.7 471.2V469.5H43.3ZM52.4 467.2H48.3V465.4L44.5 468.3L48.3 471.2V469.5H52.4ZM65.9 467.2H64.7V465.4L63.5 468.3L64.7 471.2V469.5H65.9ZM148.2 467.2H152.5V465.4L156.3 468.3L152.5 471.2V469.5H148.2ZM166.1 467.2H164.6V465.4L163.1 468.3L164.6 471.2V469.5H166.1ZM219.1 467.2H221.1V465.4L223 468.3L221.1 471.2V469.5H219.1ZM268.4 467.2H262.7V465.4L258.9 468.3L262.7 471.2V469.5H268.4ZM269.6 467.2H274.6V465.4L278.4 468.3L274.6 471.2V469.5H269.6ZM279.6 467.2H284.7V465.4L288.5 468.3L284.7 471.2V469.5H279.6ZM298.5 467.2H293.5V465.4L289.7 468.3L293.5 471.2V469.5H298.5ZM299.7 467.2H305.4V465.4L309.2 468.3L305.4 471.2V469.5H299.7ZM344.2 467.2H349.4V465.4L353.2 468.3L349.4 471.2V469.5H344.2ZM375 467.2H376.1V465.4L377.1 468.3L376.1 471.2V469.5H375ZM451.3 467.2H453.1V465.4L454.9 468.3L453.1 471.2V469.5H451.3ZM472.3 467.2H478V465.4L481.8 468.3L478 471.2V469.5H472.3ZM491.9 467.2H486.8V465.4L483 468.3L486.8 471.2V469.5H491.9ZM493.1 467.2H498.1V465.4L501.9 468.3L498.1 471.2V469.5H493.1ZM503.1 467.2H508.2V465.4L512 468.3L508.2 471.2V469.5H503.1ZM513.2 467.2H518.3V465.4L522.1 468.3L518.3 471.2V469.5H513.2ZM523.3 467.2H528.4V465.4L532.2 468.3L528.4 471.2V469.5H523.3ZM533.4 467.2H538.5V465.4L542.3 468.3L538.5 471.2V469.5H533.4ZM543.5 467.2H548.6V465.4L552.4 468.3L548.6 471.2V469.5H543.5ZM562.5 467.2H557.4V465.4L553.6 468.3L557.4 471.2V469.5H562.5ZM573.1 467.2H567.5V465.4L563.7 468.3L567.5 471.2V469.5H573.1ZM618 467.2H629.2V465.4L633 468.3L629.2 471.2V469.5H618ZM46.3 476H39.2V474.2L35.4 477.1L39.2 480V478.3H46.3ZM58.4 476H51.3V474.2L47.5 477.1L51.3 480V478.3H58.4ZM86.8 476H97.1V474.2L100.9 477.1L97.1 480V478.3H86.8ZM102.1 476H111.9V474.2L115.7 477.1L111.9 480V478.3H102.1ZM130.4 476H120.7V474.2L116.9 477.1L120.7 480V478.3H130.4ZM145.1 476H135.4V474.2L131.6 477.1L135.4 480V478.3H145.1ZM146.3 476H156V474.2L159.8 477.1L156 480V478.3H146.3ZM161 476H171.3V474.2L175.1 477.1L171.3 480V478.3H161ZM209.5 476H211.3V474.2L213.1 477.1L211.3 480V478.3H209.5ZM226 476H231.8V474.2L235.6 477.1L231.8 480V478.3H226ZM236.8 476H242.5V474.2L246.3 477.1L242.5 480V478.3H236.8ZM263.8 476H257.3V474.2L253.5 477.1L257.3 480V478.3H263.8ZM265 476H271.6V474.2L275.4 477.1L271.6 480V478.3H265ZM323.3 476H319.8V474.2L316.4 477.1L319.8 480V478.3H323.3ZM372.8 476H367.5V474.2L363.7 477.1L367.5 480V478.3H372.8ZM374 476H379.3V474.2L383.1 477.1L379.3 480V478.3H374ZM410.9 476H416.7V474.2L420.5 477.1L416.7 480V478.3H410.9ZM467.8 476H461.7V474.2L457.9 477.1L461.7 480V478.3H467.8ZM469 476H474.5V474.2L478.3 477.1L474.5 480V478.3H469ZM479.5 476H485V474.2L488.8 477.1L485 480V478.3H479.5ZM490 476H495.4V474.2L499.2 477.1L495.4 480V478.3H490ZM500.4 476H506.5V474.2L510.3 477.1L506.5 480V478.3H500.4ZM621.9 476H618.9V474.2L615.9 477.1L618.9 480V478.3H621.9ZM59.3 484.8H66.9V483L70.7 485.9L66.9 488.8V487.1H59.3ZM71.9 484.8H78.8V483L82.6 485.9L78.8 488.8V487.1H71.9ZM83.8 484.8H90.8V483L94.6 485.9L90.8 488.8V487.1H83.8ZM106.6 484.8H99.6V483L95.8 485.9L99.6 488.8V487.1H106.6ZM107.8 484.8H114.8V483L118.6 485.9L114.8 488.8V487.1H107.8ZM119.8 484.8H126.7V483L130.5 485.9L126.7 488.8V487.1H119.8ZM142.5 484.8H135.5V483L131.7 485.9L135.5 488.8V487.1H142.5ZM154.5 484.8H147.5V483L143.7 485.9L147.5 488.8V487.1H154.5ZM155.7 484.8H163.2V483L167 485.9L163.2 488.8V487.1H155.7ZM205 484.8H208V483L211 485.9L208 488.8V487.1H205ZM239.5 484.8H233.4V483L229.6 485.9L233.4 488.8V487.1H239.5ZM264.3 484.8H263.1V483L261.9 485.9L263.1 488.8V487.1H264.3ZM297.4 484.8H288.2V483L284.4 485.9L288.2 488.8V487.1H297.4ZM311.1 484.8H302.4V483L298.6 485.9L302.4 488.8V487.1H311.1ZM312.3 484.8H321.6V483L325.4 485.9L321.6 488.8V487.1H312.3ZM482.8 484.8H476.7V483L472.9 485.9L476.7 488.8V487.1H482.8ZM493.2 484.8H487.8V483L484 485.9L487.8 488.8V487.1H493.2ZM504.3 484.8H498.2V483L494.4 485.9L498.2 488.8V487.1H504.3ZM533.9 484.8H527V483L523.2 485.9L527 488.8V487.1H533.9ZM545.3 484.8H538.9V483L535.1 485.9L538.9 488.8V487.1H545.3ZM556.7 484.8H550.3V483L546.5 485.9L550.3 488.8V487.1H556.7ZM568.7 484.8H561.7V483L557.9 485.9L561.7 488.8V487.1H568.7ZM608.2 484.8H616.2V483L620 485.9L616.2 488.8V487.1H608.2ZM633 484.8H625V483L621.2 485.9L625 488.8V487.1H633ZM18.4 493.6H27.7V491.8L31.5 494.7L27.7 497.6V495.9H18.4ZM67 493.6H62.2V491.8L58.4 494.7L62.2 497.6V495.9H67ZM76.3 493.6H72V491.8L68.2 494.7L72 497.6V495.9H76.3ZM85.5 493.6H81.3V491.8L77.5 494.7L81.3 497.6V495.9H85.5ZM94.7 493.6H90.5V491.8L86.7 494.7L90.5 497.6V495.9H94.7ZM103.9 493.6H99.7V491.8L95.9 494.7L99.7 497.6V495.9H103.9ZM113.8 493.6H108.9V491.8L105.1 494.7L108.9 497.6V495.9H113.8ZM161.1 493.6H169.2V491.8L173 494.7L169.2 497.6V495.9H161.1ZM179.6 493.6H189.7V491.8L193.5 494.7L189.7 497.6V495.9H179.6ZM194.7 493.6H204.1V491.8L207.9 494.7L204.1 497.6V495.9H194.7ZM209.1 493.6H219.2V491.8L223 494.7L219.2 497.6V495.9H209.1ZM232.6 493.6H226.8V491.8L223 494.7L226.8 497.6V495.9H232.6ZM329.4 493.6H316.6V491.8L312.8 494.7L316.6 497.6V495.9H329.4ZM347.2 493.6H334.4V491.8L330.6 494.7L334.4 497.6V495.9H347.2ZM402.6 493.6H410.9V491.8L414.7 494.7L410.9 497.6V495.9H402.6ZM428 493.6H419.7V491.8L415.9 494.7L419.7 497.6V495.9H428ZM435.5 493.6H441.6V491.8L445.4 494.7L441.6 497.6V495.9H435.5ZM481.3 493.6H487.3V491.8L491.1 494.7L487.3 497.6V495.9H481.3ZM502.2 493.6H496.1V491.8L492.3 494.7L496.1 497.6V495.9H502.2ZM556.1 493.6H553.1V491.8L550.1 494.7L553.1 497.6V495.9H556.1ZM576.1 493.6H575.4V491.8L574.6 494.7L575.4 497.6V495.9H576.1ZM602.2 493.6H608.1V491.8L611.9 494.7L608.1 497.6V495.9H602.2ZM622.1 493.6H616.9V491.8L613.1 494.7L616.9 497.6V495.9H622.1ZM633 493.6H627.1V491.8L623.3 494.7L627.1 497.6V495.9H633ZM64.4 502.4H51.7V500.7L47.9 503.6L51.7 506.4V504.7H64.4ZM101.8 502.4H108.8V500.7L112.6 503.6L108.8 506.4V504.7H101.8ZM113.8 502.4H120.2V500.7L124 503.6L120.2 506.4V504.7H113.8ZM125.2 502.4H131.6V500.7L135.4 503.6L131.6 506.4V504.7H125.2ZM136.6 502.4H143V500.7L146.8 503.6L143 506.4V504.7H136.6ZM158.2 502.4H151.8V500.7L148 503.6L151.8 506.4V504.7H158.2ZM169.7 502.4H163.2V500.7L159.4 503.6L163.2 506.4V504.7H169.7ZM170.9 502.4H177.3V500.7L181.1 503.6L177.3 506.4V504.7H170.9ZM182.3 502.4H189.3V500.7L193.1 503.6L189.3 506.4V504.7H182.3ZM212.5 502.4H213.3V500.7L214 503.6L213.3 506.4V504.7H212.5ZM243.9 502.4H257V500.7L260.8 503.6L257 506.4V504.7H243.9ZM262 502.4H274.5V500.7L278.3 503.6L274.5 506.4V504.7H262ZM296.3 502.4H283.3V500.7L279.5 503.6L283.3 506.4V504.7H296.3ZM352.3 502.4H336V500.7L332.2 503.6L336 506.4V504.7H352.3ZM377.1 502.4H381.7V500.7L385.5 503.6L381.7 506.4V504.7H377.1ZM395.1 502.4H390.5V500.7L386.7 503.6L390.5 506.4V504.7H395.1ZM428 502.4H416.8V500.7L413 503.6L416.8 506.4V504.7H428ZM428 502.4H440.7V500.7L444.5 503.6L440.7 506.4V504.7H428ZM454.9 502.4H453.4V500.7L451.9 503.6L453.4 506.4V504.7H454.9ZM489.4 502.4H494.5V500.7L498.3 503.6L494.5 506.4V504.7H489.4ZM517.8 502.4H519.3V500.7L520.8 503.6L519.3 506.4V504.7H517.8ZM543.2 502.4H544.7V500.7L546.2 503.6L544.7 506.4V504.7H543.2ZM601.6 502.4H607.7V500.7L611.5 503.6L607.7 506.4V504.7H601.6ZM621.9 502.4H616.5V500.7L612.7 503.6L616.5 506.4V504.7H621.9ZM623.1 502.4H629.2V500.7L633 503.6L629.2 506.4V504.7H623.1ZM22.5 511.2H20.4V509.5L18.4 512.4L20.4 515.3V513.5H22.5ZM41.9 511.2H44.2V509.5L46.4 512.4L44.2 515.3V513.5H41.9ZM67.4 511.2H66.6V509.5L65.9 512.4L66.6 515.3V513.5H67.4ZM99.2 511.2H92.1V509.5L88.3 512.4L92.1 515.3V513.5H99.2ZM110.6 511.2H104.2V509.5L100.4 512.4L104.2 515.3V513.5H110.6ZM122.1 511.2H115.6V509.5L111.8 512.4L115.6 515.3V513.5H122.1ZM134.1 511.2H127.1V509.5L123.3 512.4L127.1 515.3V513.5H134.1ZM161.6 511.2H162.4V509.5L163.1 512.4L162.4 515.3V513.5H161.6ZM202.5 511.2H193V509.5L189.2 512.4L193 515.3V513.5H202.5ZM217 511.2H207.5V509.5L203.7 512.4L207.5 515.3V513.5H217ZM251.4 511.2H256.3V509.5L260.1 512.4L256.3 515.3V513.5H251.4ZM261.3 511.2H265.6V509.5L269.4 512.4L265.6 515.3V513.5H261.3ZM270.6 511.2H274.9V509.5L278.7 512.4L274.9 515.3V513.5H270.6ZM279.9 511.2H284.1V509.5L287.9 512.4L284.1 515.3V513.5H279.9ZM289.1 511.2H293.4V509.5L297.2 512.4L293.4 515.3V513.5H289.1ZM306.5 511.2H302.2V509.5L298.4 512.4L302.2 515.3V513.5H306.5ZM316.4 511.2H311.5V509.5L307.7 512.4L311.5 515.3V513.5H316.4ZM357.7 511.2H346.5V509.5L342.7 512.4L346.5 515.3V513.5H357.7ZM383.1 511.2H389.9V509.5L393.7 512.4L389.9 515.3V513.5H383.1ZM394.9 511.2H401.8V509.5L405.6 512.4L401.8 515.3V513.5H394.9ZM438.5 511.2H440.4V509.5L442.4 512.4L440.4 515.3V513.5H438.5ZM475.3 511.2H472.3V509.5L469.3 512.4L472.3 515.3V513.5H475.3ZM544.4 511.2H536.5V509.5L532.7 512.4L536.5 515.3V513.5H544.4ZM557.3 511.2H549.4V509.5L545.6 512.4L549.4 515.3V513.5H557.3ZM583.6 511.2H589.1V509.5L592.9 512.4L589.1 515.3V513.5H583.6ZM602.8 511.2H597.9V509.5L594.1 512.4L597.9 515.3V513.5H602.8ZM612.6 511.2H607.8V509.5L604 512.4L607.8 515.3V513.5H612.6ZM622.5 511.2H617.6V509.5L613.8 512.4L617.6 515.3V513.5H622.5ZM633 511.2H627.5V509.5L623.7 512.4L627.5 515.3V513.5H633ZM29.3 520H22.2V518.3L18.4 521.2L22.2 524.1V522.3H29.3ZM41.3 520H34.3V518.3L30.5 521.2L34.3 524.1V522.3H41.3ZM66.4 520H60.7V518.3L56.9 521.2L60.7 524.1V522.3H66.4ZM76.4 520H71.4V518.3L67.6 521.2L71.4 524.1V522.3H76.4ZM86.5 520H81.4V518.3L77.6 521.2L81.4 524.1V522.3H86.5ZM96.5 520H91.5V518.3L87.7 521.2L91.5 524.1V522.3H96.5ZM97.7 520H103.4V518.3L107.2 521.2L103.4 524.1V522.3H97.7ZM137.7 520H157.3V518.3L161.1 521.2L157.3 524.1V522.3H137.7ZM184.1 520H192.7V518.3L196.5 521.2L192.7 524.1V522.3H184.1ZM197.7 520H205.6V518.3L209.4 521.2L205.6 524.1V522.3H197.7ZM210.6 520H219.2V518.3L223 521.2L219.2 524.1V522.3H210.6ZM236.2 520H226.8V518.3L223 521.2L226.8 524.1V522.3H236.2ZM250.1 520H241.2V518.3L237.4 521.2L241.2 524.1V522.3H250.1ZM251.3 520H260.1V518.3L263.9 521.2L260.1 524.1V522.3H251.3ZM265.1 520H274.6V518.3L278.4 521.2L274.6 524.1V522.3H265.1ZM344.1 520H332.1V518.3L328.3 521.2L332.1 524.1V522.3H344.1ZM360.4 520H349.1V518.3L345.3 521.2L349.1 524.1V522.3H360.4ZM361.6 520H372.9V518.3L376.7 521.2L372.9 524.1V522.3H361.6ZM377.9 520H389.8V518.3L393.6 521.2L389.8 524.1V522.3H377.9ZM428 520H410.9V518.3L407.1 521.2L410.9 524.1V522.3H428ZM440.9 520H431.8V518.3L428 521.2L431.8 524.1V522.3H440.9ZM454.3 520H445.9V518.3L442.1 521.2L445.9 524.1V522.3H454.3ZM467.8 520H459.3V518.3L455.5 521.2L459.3 524.1V522.3H467.8ZM469 520H477.5V518.3L481.3 521.2L477.5 524.1V522.3H469ZM482.5 520H490.9V518.3L494.7 521.2L490.9 524.1V522.3H482.5ZM508.2 520H499.7V518.3L495.9 521.2L499.7 524.1V522.3H508.2ZM522.3 520H513.2V518.3L509.4 521.2L513.2 524.1V522.3H522.3ZM601.6 520H607.7V518.3L611.5 521.2L607.7 524.1V522.3H601.6ZM612.7 520H618.1V518.3L621.9 521.2L618.1 524.1V522.3H612.7ZM623.1 520H629.2V518.3L633 521.2L629.2 524.1V522.3H623.1ZM18.4 528.8H29.2V527.1L33 530L29.2 532.9V531.1H18.4ZM58.7 528.8H53.2V527.1L49.4 530L53.2 532.9V531.1H58.7ZM68.5 528.8H63.7V527.1L59.9 530L63.7 532.9V531.1H68.5ZM78.3 528.8H73.5V527.1L69.7 530L73.5 532.9V531.1H78.3ZM88.2 528.8H83.3V527.1L79.5 530L83.3 532.9V531.1H88.2ZM98 528.8H93.2V527.1L89.4 530L93.2 532.9V531.1H98ZM107.9 528.8H103V527.1L99.2 530L103 532.9V531.1H107.9ZM117.7 528.8H112.9V527.1L109.1 530L112.9 532.9V531.1H117.7ZM118.9 528.8H124.3V527.1L128.1 530L124.3 532.9V531.1H118.9ZM140.1 528.8H139.2V527.1L138.3 530L139.2 532.9V531.1H140.1ZM172.6 528.8H167.8V527.1L164 530L167.8 532.9V531.1H172.6ZM181.8 528.8H177.6V527.1L173.8 530L177.6 532.9V531.1H181.8ZM183 528.8H187.8V527.1L191.6 530L187.8 532.9V531.1H183ZM214 528.8H219.2V527.1L223 530L219.2 532.9V531.1H214ZM223 528.8H226.3V527.1L229.6 530L226.3 532.9V531.1H223ZM247.5 528.8H257.6V527.1L261.4 530L257.6 532.9V531.1H247.5ZM262.6 528.8H272V527.1L275.8 530L272 532.9V531.1H262.6ZM290.3 528.8H280.8V527.1L277 530L280.8 532.9V531.1H290.3ZM305.3 528.8H295.3V527.1L291.5 530L295.3 532.9V531.1H305.3ZM318.8 528.8H331.4V527.1L335.2 530L331.4 532.9V531.1H318.8ZM389.1 528.8H388.3V527.1L387.6 530L388.3 532.9V531.1H389.1ZM410 528.8H409V527.1L407.9 530L409 532.9V531.1H410ZM432.5 528.8H437.4V527.1L441.2 530L437.4 532.9V531.1H432.5ZM450.4 528.8H446.2V527.1L442.4 530L446.2 532.9V531.1H450.4ZM459.7 528.8H455.4V527.1L451.6 530L455.4 532.9V531.1H459.7ZM469 528.8H464.7V527.1L460.9 530L464.7 532.9V531.1H469ZM478.3 528.8H474V527.1L470.2 530L474 532.9V531.1H478.3ZM479.5 528.8H483.8V527.1L487.6 530L483.8 532.9V531.1H479.5ZM488.8 528.8H493V527.1L496.8 530L493 532.9V531.1H488.8ZM498 528.8H502.3V527.1L506.1 530L502.3 532.9V531.1H498ZM507.3 528.8H511.6V527.1L515.4 530L511.6 532.9V531.1H507.3ZM516.6 528.8H521.5V527.1L525.3 530L521.5 532.9V531.1H516.6ZM541.1 528.8H542.2V527.1L543.2 530L542.2 532.9V531.1H541.1ZM566.3 528.8H567.5V527.1L568.7 530L567.5 532.9V531.1H566.3ZM576.1 528.8H577.2V527.1L578.2 530L577.2 532.9V531.1H576.1ZM596.2 528.8H600.2V527.1L604 530L600.2 532.9V531.1H596.2ZM18.4 537.6H25.8V535.9L29.6 538.8L25.8 541.7V539.9H18.4ZM41.5 537.6H34.6V535.9L30.8 538.8L34.6 541.7V539.9H41.5ZM53.9 537.6H46.5V535.9L42.7 538.8L46.5 541.7V539.9H53.9ZM80.8 537.6H84.1V535.9L87.4 538.8L84.1 541.7V539.9H80.8ZM155.7 537.6H160.2V535.9L164 538.8L160.2 541.7V539.9H155.7ZM279.3 537.6H277.8V535.9L276.3 538.8L277.8 541.7V539.9H279.3ZM285.2 537.6H286.3V535.9L287.3 538.8L286.3 541.7V539.9H285.2ZM356.2 537.6H359.2V535.9L362.2 538.8L359.2 541.7V539.9H356.2ZM415.4 537.6H407.9V535.9L404.1 538.8L407.9 541.7V539.9H415.4ZM428 537.6H420.4V535.9L416.6 538.8L420.4 541.7V539.9H428ZM438.5 537.6H431.8V535.9L428 538.8L431.8 541.7V539.9H438.5ZM471.4 537.6H468V535.9L464.5 538.8L468 541.7V539.9H471.4ZM501.3 537.6H503.6V535.9L505.8 538.8L503.6 541.7V539.9H501.3ZM544.7 537.6H551.5V535.9L555.3 538.8L551.5 541.7V539.9H544.7ZM556.5 537.6H563.4V535.9L567.2 538.8L563.4 541.7V539.9H556.5ZM589.6 537.6H590.8V535.9L592 538.8L590.8 541.7V539.9H589.6ZM23.4 546.5H21.9V544.7L20.4 547.6L21.9 550.5V548.8H23.4ZM104.9 546.5H93.6V544.7L89.8 547.6L93.6 550.5V548.8H104.9ZM106.1 546.5H116.8V544.7L120.6 547.6L116.8 550.5V548.8H106.1ZM121.8 546.5H132.5V544.7L136.3 547.6L132.5 550.5V548.8H121.8ZM137.5 546.5H148.2V544.7L152 547.6L148.2 550.5V548.8H137.5ZM153.2 546.5H164.4V544.7L168.2 547.6L164.4 550.5V548.8H153.2ZM223 546.5H205.9V544.7L202.1 547.6L205.9 550.5V548.8H223ZM223 546.5H233.4V544.7L237.2 547.6L233.4 550.5V548.8H223ZM238.4 546.5H248.2V544.7L252 547.6L248.2 550.5V548.8H238.4ZM253.2 546.5H263V544.7L266.8 547.6L263 550.5V548.8H253.2ZM268 546.5H278.5V544.7L282.3 547.6L278.5 550.5V548.8H268ZM314.3 546.5H326.3V544.7L330.1 547.6L326.3 550.5V548.8H314.3ZM354.7 546.5H355.9V544.7L357.1 547.6L355.9 550.5V548.8H354.7ZM380.9 546.5H369.9V544.7L366.1 547.6L369.9 550.5V548.8H380.9ZM396.4 546.5H385.9V544.7L382.1 547.6L385.9 550.5V548.8H396.4ZM397.6 546.5H408.1V544.7L411.9 547.6L408.1 550.5V548.8H397.6ZM413.1 546.5H424.2V544.7L428 547.6L424.2 550.5V548.8H413.1ZM438.6 546.5H431.8V544.7L428 547.6L431.8 550.5V548.8H438.6ZM450.4 546.5H443.6V544.7L439.8 547.6L443.6 550.5V548.8H450.4ZM459.4 546.5H468.5V544.7L472.3 547.6L468.5 550.5V548.8H459.4ZM500 546.5H491.7V544.7L487.9 547.6L491.7 550.5V548.8H500ZM501.2 546.5H509.5V544.7L513.3 547.6L509.5 550.5V548.8H501.2ZM564.2 546.5H566.4V544.7L568.7 547.6L566.4 550.5V548.8H564.2ZM589 546.5H596.6V544.7L600.4 547.6L596.6 550.5V548.8H589ZM601.6 546.5H609.1V544.7L612.9 547.6L609.1 550.5V548.8H601.6ZM625.4 546.5H622.2V544.7L618.9 547.6L622.2 550.5V548.8H625.4ZM626.6 546.5H629.8V544.7L633 547.6L629.8 550.5V548.8H626.6ZM34.5 555.3H22.2V553.5L18.4 556.4L22.2 559.3V557.6H34.5ZM65.3 555.3H64.1V553.5L62.9 556.4L64.1 559.3V557.6H65.3ZM104.8 555.3H106.6V553.5L108.4 556.4L106.6 559.3V557.6H104.8ZM136.2 555.3H138.8V553.5L141.3 556.4L138.8 559.3V557.6H136.2ZM199.1 555.3H202.1V553.5L205 556.4L202.1 559.3V557.6H199.1Z" fill="#c4c4c4"/>
<path d="M25.1 16L21.5 19L25.1 22ZM45.2 16L41.6 19L45.2 22ZM56.2 16L52.6 19L56.2 22ZM89.7 16L86.1 19L89.7 22ZM102.9 16L106.5 19L102.9 22ZM138.5 16L142.1 19L138.5 22ZM151.1 16L154.7 19L151.1 22ZM181.6 16L185.2 19L181.6 22ZM194.1 16L197.7 19L194.1 22ZM209.6 16L206 19L209.6 22ZM356.1 16L352.5 19L356.1 22ZM365.4 16L361.8 19L365.4 22ZM375.7 16L372.1 19L375.7 22ZM396.8 16L393.2 19L396.8 22ZM408.8 16L405.2 19L408.8 22ZM444.8 16L441.2 19L444.8 22ZM459.7 16L456.1 19L459.7 22ZM468.1 16L471.7 19L468.1 22ZM474.2 16L477.8 19L474.2 22ZM496.8 16L500.4 19L496.8 22ZM509.6 16L513.2 19L509.6 22ZM574.9 16L571.3 19L574.9 22ZM589.4 16L585.8 19L589.4 22ZM602.7 16L599.1 19L602.7 22ZM609.6 16L613.2 19L609.6 22ZM621.8 16L618.2 19L621.8 22ZM41.3 24.8L37.7 27.8L41.3 30.8ZM51.5 24.8L47.9 27.8L51.5 30.8ZM69.5 24.8L73.1 27.8L69.5 30.8ZM82.3 24.8L78.7 27.8L82.3 30.8ZM95.2 24.8L91.6 27.8L95.2 30.8ZM108.6 24.8L105 27.8L108.6 30.8ZM118.2 24.8L114.6 27.8L118.2 30.8ZM138.5 24.8L142.1 27.8L138.5 30.8ZM159.7 24.8L156.1 27.8L159.7 30.8ZM169.4 24.8L173 27.8L169.4 30.8ZM191.7 24.8L188.1 27.8L191.7 30.8ZM201.4 24.8L197.8 27.8L201.4 30.8ZM214.2 24.8L210.6 27.8L214.2 30.8ZM222.9 24.8L219.3 27.8L222.9 30.8ZM226.8 24.8L230.4 27.8L226.8 30.8ZM237.9 24.8L234.3 27.8L237.9 30.8ZM295.6 24.8L292 27.8L295.6 30.8ZM311.6 24.8L308 27.8L311.6 30.8ZM316.6 24.8L320.2 27.8L316.6 30.8ZM331.2 24.8L334.8 27.8L331.2 30.8ZM359.1 24.8L355.5 27.8L359.1 30.8ZM372.9 24.8L369.3 27.8L372.9 30.8ZM394.1 24.8L390.5 27.8L394.1 30.8ZM402.5 24.8L398.9 27.8L402.5 30.8ZM440.7 24.8L437.1 27.8L440.7 30.8ZM454 24.8L450.4 27.8L454 30.8ZM467 24.8L470.6 27.8L467 30.8ZM484.7 24.8L481.1 27.8L484.7 30.8ZM533 24.8L529.4 27.8L533 30.8ZM545.3 24.8L541.7 27.8L545.3 30.8ZM558.3 24.8L554.7 27.8L558.3 30.8ZM571.5 24.8L567.9 27.8L571.5 30.8ZM588.9 24.8L585.3 27.8L588.9 30.8ZM598.9 24.8L595.3 27.8L598.9 30.8ZM39.7 33.6L43.3 36.6L39.7 39.6ZM49.6 33.6L53.2 36.6L49.6 39.6ZM64.3 33.6L60.7 36.6L64.3 39.6ZM73.2 33.6L69.6 36.6L73.2 39.6ZM84.6 33.6L81 36.6L84.6 39.6ZM94.2 33.6L90.6 36.6L94.2 39.6ZM105.1 33.6L101.5 36.6L105.1 39.6ZM113.5 33.6L117.1 36.6L113.5 39.6ZM124.8 33.6L128.4 36.6L124.8 39.6ZM131.9 33.6L135.5 36.6L131.9 39.6ZM143.3 33.6L146.9 36.6L143.3 39.6ZM156.4 33.6L160 36.6L156.4 39.6ZM167.1 33.6L163.5 36.6L167.1 39.6ZM191.1 33.6L194.7 36.6L191.1 39.6ZM205.6 33.6L209.2 36.6L205.6 39.6ZM224.9 33.6L228.5 36.6L224.9 39.6ZM252.9 33.6L256.5 36.6L252.9 39.6ZM269.1 33.6L265.5 36.6L269.1 39.6ZM279.5 33.6L283.1 36.6L279.5 39.6ZM294.1 33.6L297.7 36.6L294.1 39.6ZM310.2 33.6L313.8 36.6L310.2 39.6ZM415.2 33.6L418.8 36.6L415.2 39.6ZM422.8 33.6L426.4 36.6L422.8 39.6ZM434.5 33.6L430.9 36.6L434.5 39.6ZM444.2 33.6L440.6 36.6L444.2 39.6ZM456 33.6L452.4 36.6L456 39.6ZM464 33.6L460.4 36.6L464 39.6ZM472.5 33.6L476.1 36.6L472.5 39.6ZM485.1 33.6L481.5 36.6L485.1 39.6ZM495.1 33.6L491.5 36.6L495.1 39.6ZM501.1 33.6L504.7 36.6L501.1 39.6ZM511.8 33.6L515.4 36.6L511.8 39.6ZM527.3 33.6L523.7 36.6L527.3 39.6ZM538.6 33.6L535 36.6L538.6 39.6ZM552.3 33.6L555.9 36.6L552.3 39.6ZM597.6 33.6L594 36.6L597.6 39.6ZM606.4 33.6L602.8 36.6L606.4 39.6ZM616.6 33.6L613 36.6L616.6 39.6ZM624.7 33.6L621.1 36.6L624.7 39.6ZM29.3 42.4L25.7 45.4L29.3 48.4ZM42.5 42.4L38.9 45.4L42.5 48.4ZM54.1 42.4L57.7 45.4L54.1 48.4ZM63.8 42.4L67.4 45.4L63.8 48.4ZM74.4 42.4L78 45.4L74.4 48.4ZM84.6 42.4L88.2 45.4L84.6 48.4ZM125.8 42.4L122.2 45.4L125.8 48.4ZM169.5 42.4L173.1 45.4L169.5 48.4ZM180.4 42.4L184 45.4L180.4 48.4ZM188.1 42.4L191.7 45.4L188.1 48.4ZM198 42.4L201.6 45.4L198 48.4ZM205.8 42.4L209.4 45.4L205.8 48.4ZM215.4 42.4L219 45.4L215.4 48.4ZM290.9 42.4L294.5 45.4L290.9 48.4ZM303.8 42.4L307.4 45.4L303.8 48.4ZM316.5 42.4L320.1 45.4L316.5 48.4ZM344.7 42.4L341.1 45.4L344.7 48.4ZM361.3 42.4L364.9 45.4L361.3 48.4ZM368.3 42.4L371.9 45.4L368.3 48.4ZM447.6 42.4L451.2 45.4L447.6 48.4ZM452.8 42.4L449.2 45.4L452.8 48.4ZM461.3 42.4L457.7 45.4L461.3 48.4ZM472 42.4L468.4 45.4L472 48.4ZM480.3 42.4L483.9 45.4L480.3 48.4ZM490.6 42.4L494.2 45.4L490.6 48.4ZM565.6 42.4L569.2 45.4L565.6 48.4ZM580.5 42.4L584.1 45.4L580.5 48.4ZM597 42.4L593.4 45.4L597 48.4ZM610.7 42.4L614.3 45.4L610.7 48.4ZM623.7 42.4L627.3 45.4L623.7 48.4ZM26.9 51.2L23.3 54.2L26.9 57.2ZM35.1 51.2L31.5 54.2L35.1 57.2ZM55.2 51.2L58.8 54.2L55.2 57.2ZM75.7 51.2L72.1 54.2L75.7 57.2ZM77.6 51.2L81.2 54.2L77.6 57.2ZM86.4 51.2L90 54.2L86.4 57.2ZM113.7 51.2L110.1 54.2L113.7 57.2ZM121.3 51.2L117.7 54.2L121.3 57.2ZM130.8 51.2L127.2 54.2L130.8 57.2ZM139.3 51.2L135.7 54.2L139.3 57.2ZM140.5 51.2L144.1 54.2L140.5 57.2ZM149.5 51.2L153.1 54.2L149.5 57.2ZM210.6 51.2L214.2 54.2L210.6 57.2ZM218.5 51.2L222.1 54.2L218.5 57.2ZM226.6 51.2L230.2 54.2L226.6 57.2ZM262 51.2L258.4 54.2L262 57.2ZM272.3 51.2L268.7 54.2L272.3 57.2ZM285.1 51.2L281.5 54.2L285.1 57.2ZM294.5 51.2L298.1 54.2L294.5 57.2ZM311.5 51.2L315.1 54.2L311.5 57.2ZM358.3 51.2L354.7 54.2L358.3 57.2ZM370.5 51.2L366.9 54.2L370.5 57.2ZM381.7 51.2L378.1 54.2L381.7 57.2ZM391.5 51.2L387.9 54.2L391.5 57.2ZM401.1 51.2L397.5 54.2L401.1 57.2ZM429.7 51.2L433.3 54.2L429.7 57.2ZM498.8 51.2L502.4 54.2L498.8 57.2ZM511.9 51.2L515.5 54.2L511.9 57.2ZM537.9 51.2L541.5 54.2L537.9 57.2ZM554.1 51.2L557.7 54.2L554.1 57.2ZM597.1 51.2L600.7 54.2L597.1 57.2ZM603.2 51.2L606.8 54.2L603.2 57.2ZM612.6 51.2L616.2 54.2L612.6 57.2ZM631.6 51.2L628 54.2L631.6 57.2ZM22.7 60.1L26.3 63.1L22.7 66.1ZM27.9 60.1L31.5 63.1L27.9 66.1ZM121.2 60.1L124.8 63.1L121.2 66.1ZM133.1 60.1L129.5 63.1L133.1 66.1ZM143.1 60.1L139.5 63.1L143.1 66.1ZM151.2 60.1L154.8 63.1L151.2 66.1ZM158.9 60.1L162.5 63.1L158.9 66.1ZM194.9 60.1L198.5 63.1L194.9 66.1ZM247.8 60.1L244.2 63.1L247.8 66.1ZM266.5 60.1L270.1 63.1L266.5 66.1ZM287.9 60.1L284.3 63.1L287.9 66.1ZM304.6 60.1L301 63.1L304.6 66.1ZM321.9 60.1L325.5 63.1L321.9 66.1ZM344.9 60.1L341.3 63.1L344.9 66.1ZM361.7 60.1L358.1 63.1L361.7 66.1ZM389.2 60.1L385.6 63.1L389.2 66.1ZM405.1 60.1L408.7 63.1L405.1 66.1ZM415.8 60.1L419.4 63.1L415.8 66.1ZM421.4 60.1L425 63.1L421.4 66.1ZM435.3 60.1L431.7 63.1L435.3 66.1ZM477.1 60.1L473.5 63.1L477.1 66.1ZM490.1 60.1L486.5 63.1L490.1 66.1ZM503.6 60.1L500 63.1L503.6 66.1ZM512.1 60.1L508.5 63.1L512.1 66.1ZM561.5 60.1L565.1 63.1L561.5 66.1ZM610.8 60.1L607.2 63.1L610.8 66.1ZM618.2 60.1L614.6 63.1L618.2 66.1ZM22.8 68.9L26.4 71.9L22.8 74.9ZM37.3 68.9L40.9 71.9L37.3 74.9ZM50.8 68.9L47.2 71.9L50.8 74.9ZM62.8 68.9L59.2 71.9L62.8 74.9ZM118.5 68.9L122.1 71.9L118.5 74.9ZM130.2 68.9L126.6 71.9L130.2 74.9ZM142.5 68.9L138.9 71.9L142.5 74.9ZM156.1 68.9L159.7 71.9L156.1 74.9ZM171.1 68.9L167.5 71.9L171.1 74.9ZM194.4 68.9L198 71.9L194.4 74.9ZM213.4 68.9L217 71.9L213.4 74.9ZM223.7 68.9L227.3 71.9L223.7 74.9ZM239.5 68.9L235.9 71.9L239.5 74.9ZM252.2 68.9L248.6 71.9L252.2 74.9ZM261.8 68.9L258.2 71.9L261.8 74.9ZM275.8 68.9L272.2 71.9L275.8 74.9ZM291 68.9L294.6 71.9L291 74.9ZM306.8 68.9L310.4 71.9L306.8 74.9ZM322.2 68.9L325.8 71.9L322.2 74.9ZM423.4 68.9L427 71.9L423.4 74.9ZM433.2 68.9L436.8 71.9L433.2 74.9ZM444.9 68.9L448.5 71.9L444.9 74.9ZM457.8 68.9L461.4 71.9L457.8 74.9ZM471.8 68.9L468.2 71.9L471.8 74.9ZM481.6 68.9L478 71.9L481.6 74.9ZM491.1 68.9L487.5 71.9L491.1 74.9ZM495.6 68.9L499.2 71.9L495.6 74.9ZM503.3 68.9L506.9 71.9L503.3 74.9ZM524.1 68.9L520.5 71.9L524.1 74.9ZM536.3 68.9L532.7 71.9L536.3 74.9ZM544.1 68.9L540.5 71.9L544.1 74.9ZM552.5 68.9L548.9 71.9L552.5 74.9ZM565.4 68.9L561.8 71.9L565.4 74.9ZM582.4 68.9L586 71.9L582.4 74.9ZM599.8 68.9L596.2 71.9L599.8 74.9ZM624.7 68.9L621.1 71.9L624.7 74.9ZM23.9 77.7L27.5 80.7L23.9 83.7ZM38.3 77.7L34.7 80.7L38.3 83.7ZM51.4 77.7L55 80.7L51.4 83.7ZM84.5 77.7L80.9 80.7L84.5 83.7ZM100.4 77.7L96.8 80.7L100.4 83.7ZM118.1 77.7L114.5 80.7L118.1 83.7ZM135.3 77.7L131.7 80.7L135.3 83.7ZM149.4 77.7L145.8 80.7L149.4 83.7ZM165.4 77.7L161.8 80.7L165.4 83.7ZM183.3 77.7L179.7 80.7L183.3 83.7ZM194 77.7L190.4 80.7L194 83.7ZM199.8 77.7L203.4 80.7L199.8 83.7ZM220.3 77.7L216.7 80.7L220.3 83.7ZM226.2 77.7L229.8 80.7L226.2 83.7ZM240.6 77.7L244.2 80.7L240.6 83.7ZM255 77.7L258.6 80.7L255 83.7ZM279.8 77.7L283.4 80.7L279.8 83.7ZM297 77.7L293.4 80.7L297 83.7ZM309.4 77.7L305.8 80.7L309.4 83.7ZM319.8 77.7L316.2 80.7L319.8 83.7ZM331.1 77.7L327.5 80.7L331.1 83.7ZM338.5 77.7L334.9 80.7L338.5 83.7ZM358.3 77.7L354.7 80.7L358.3 83.7ZM373.3 77.7L369.7 80.7L373.3 83.7ZM383.7 77.7L387.3 80.7L383.7 83.7ZM415.9 77.7L412.3 80.7L415.9 83.7ZM436.8 77.7L440.4 80.7L436.8 83.7ZM458.3 77.7L454.7 80.7L458.3 83.7ZM490.2 77.7L493.8 80.7L490.2 83.7ZM501.7 77.7L505.3 80.7L501.7 83.7ZM514 77.7L517.6 80.7L514 83.7ZM528.1 77.7L531.7 80.7L528.1 83.7ZM544.1 77.7L547.7 80.7L544.1 83.7ZM566.7 77.7L563.1 80.7L566.7 83.7ZM577.4 77.7L573.8 80.7L577.4 83.7ZM587.2 77.7L583.6 80.7L587.2 83.7ZM598.6 77.7L595 80.7L598.6 83.7ZM608.1 77.7L604.5 80.7L608.1 83.7ZM619.2 77.7L615.6 80.7L619.2 83.7ZM628.4 77.7L624.8 80.7L628.4 83.7ZM16.5 86.5L20.1 89.5L16.5 92.5ZM26 86.5L29.6 89.5L26 92.5ZM48.7 86.5L45.1 89.5L48.7 92.5ZM58.5 86.5L54.9 89.5L58.5 92.5ZM63.5 86.5L59.9 89.5L63.5 92.5ZM71.9 86.5L75.5 89.5L71.9 92.5ZM89.2 86.5L85.6 89.5L89.2 92.5ZM92.8 86.5L96.4 89.5L92.8 92.5ZM105.9 86.5L109.5 89.5L105.9 92.5ZM125.2 86.5L121.6 89.5L125.2 92.5ZM137.9 86.5L134.3 89.5L137.9 92.5ZM158.4 86.5L162 89.5L158.4 92.5ZM173 86.5L169.4 89.5L173 92.5ZM180.2 86.5L183.8 89.5L180.2 92.5ZM190.8 86.5L194.4 89.5L190.8 92.5ZM207.8 86.5L204.2 89.5L207.8 92.5ZM219 86.5L215.4 89.5L219 92.5ZM228.8 86.5L225.2 89.5L228.8 92.5ZM240.2 86.5L236.6 89.5L240.2 92.5ZM264.1 86.5L260.5 89.5L264.1 92.5ZM275.8 86.5L272.2 89.5L275.8 92.5ZM375.4 86.5L379 89.5L375.4 92.5ZM410.4 86.5L406.8 89.5L410.4 92.5ZM455.4 86.5L459 89.5L455.4 92.5ZM463.1 86.5L466.7 89.5L463.1 92.5ZM475.6 86.5L479.2 89.5L475.6 92.5ZM529.5 86.5L525.9 89.5L529.5 92.5ZM540.3 86.5L536.7 89.5L540.3 92.5ZM549.4 86.5L553 89.5L549.4 92.5ZM564.6 86.5L561 89.5L564.6 92.5ZM573.4 86.5L577 89.5L573.4 92.5ZM33.4 95.3L29.8 98.3L33.4 101.3ZM45.6 95.3L42 98.3L45.6 101.3ZM54.3 95.3L50.7 98.3L54.3 101.3ZM63.8 95.3L60.2 98.3L63.8 101.3ZM93.8 95.3L90.2 98.3L93.8 101.3ZM104.9 95.3L101.3 98.3L104.9 101.3ZM119.8 95.3L116.2 98.3L119.8 101.3ZM127.4 95.3L131 98.3L127.4 101.3ZM171.4 95.3L175 98.3L171.4 101.3ZM183.8 95.3L187.4 98.3L183.8 101.3ZM213.3 95.3L216.9 98.3L213.3 101.3ZM231.3 95.3L227.7 98.3L231.3 101.3ZM238 95.3L241.6 98.3L238 101.3ZM249 95.3L245.4 98.3L249 101.3ZM277.3 95.3L280.9 98.3L277.3 101.3ZM290.3 95.3L293.9 98.3L290.3 101.3ZM301.4 95.3L305 98.3L301.4 101.3ZM312.3 95.3L315.9 98.3L312.3 101.3ZM326.5 95.3L330.1 98.3L326.5 101.3ZM338.5 95.3L334.9 98.3L338.5 101.3ZM347.2 95.3L343.6 98.3L347.2 101.3ZM359.7 95.3L356.1 98.3L359.7 101.3ZM368.1 95.3L364.5 98.3L368.1 101.3ZM376.8 95.3L373.2 98.3L376.8 101.3ZM389.5 95.3L393.1 98.3L389.5 101.3ZM403.8 95.3L407.4 98.3L403.8 101.3ZM422.1 95.3L418.5 98.3L422.1 101.3ZM431.5 95.3L427.9 98.3L431.5 101.3ZM445.4 95.3L449 98.3L445.4 101.3ZM472.1 95.3L475.7 98.3L472.1 101.3ZM572.2 95.3L568.6 98.3L572.2 101.3ZM588.4 95.3L584.8 98.3L588.4 101.3ZM600.9 95.3L604.5 98.3L600.9 101.3ZM73.7 104.1L70.1 107.1L73.7 110.1ZM81.7 104.1L78.1 107.1L81.7 110.1ZM91.3 104.1L87.7 107.1L91.3 110.1ZM102 104.1L98.4 107.1L102 110.1ZM111.4 104.1L115 107.1L111.4 110.1ZM142 104.1L138.4 107.1L142 110.1ZM151.5 104.1L147.9 107.1L151.5 110.1ZM159.4 104.1L163 107.1L159.4 110.1ZM169.3 104.1L172.9 107.1L169.3 110.1ZM180.5 104.1L184.1 107.1L180.5 110.1ZM191.1 104.1L187.5 107.1L191.1 110.1ZM199.9 104.1L196.3 107.1L199.9 110.1ZM209.8 104.1L206.2 107.1L209.8 110.1ZM217.2 104.1L213.6 107.1L217.2 110.1ZM219.4 104.1L223 107.1L219.4 110.1ZM230 104.1L226.4 107.1L230 110.1ZM318.8 104.1L322.4 107.1L318.8 110.1ZM335.2 104.1L331.6 107.1L335.2 110.1ZM346.9 104.1L343.3 107.1L346.9 110.1ZM354.6 104.1L358.2 107.1L354.6 110.1ZM373.6 104.1L370 107.1L373.6 110.1ZM387.2 104.1L383.6 107.1L387.2 110.1ZM402.3 104.1L398.7 107.1L402.3 110.1ZM418.2 104.1L414.6 107.1L418.2 110.1ZM435.8 104.1L432.2 107.1L435.8 110.1ZM450.4 104.1L446.8 107.1L450.4 110.1ZM464.4 104.1L460.8 107.1L464.4 110.1ZM492.2 104.1L495.8 107.1L492.2 110.1ZM502.3 104.1L505.9 107.1L502.3 110.1ZM521.7 104.1L518.1 107.1L521.7 110.1ZM539.7 104.1L536.1 107.1L539.7 110.1ZM558.1 104.1L554.5 107.1L558.1 110.1ZM569.2 104.1L565.6 107.1L569.2 110.1ZM579.3 104.1L582.9 107.1L579.3 110.1ZM591.1 104.1L594.7 107.1L591.1 110.1ZM600.9 104.1L604.5 107.1L600.9 110.1ZM35.4 112.9L39 115.9L35.4 118.9ZM43.4 112.9L47 115.9L43.4 118.9ZM59.9 112.9L56.3 115.9L59.9 118.9ZM67.3 112.9L70.9 115.9L67.3 118.9ZM86.6 112.9L83 115.9L86.6 118.9ZM96.6 112.9L93 115.9L96.6 118.9ZM146 112.9L149.6 115.9L146 118.9ZM169.1 112.9L165.5 115.9L169.1 118.9ZM197.6 112.9L194 115.9L197.6 118.9ZM205.7 112.9L209.3 115.9L205.7 118.9ZM235.2 112.9L231.6 115.9L235.2 118.9ZM265.3 112.9L268.9 115.9L265.3 118.9ZM281.9 112.9L285.5 115.9L281.9 118.9ZM295.5 112.9L299.1 115.9L295.5 118.9ZM312.7 112.9L309.1 115.9L312.7 118.9ZM331 112.9L334.6 115.9L331 118.9ZM347.2 112.9L350.8 115.9L347.2 118.9ZM372.5 112.9L368.9 115.9L372.5 118.9ZM378.4 112.9L382 115.9L378.4 118.9ZM419 112.9L422.6 115.9L419 118.9ZM429.2 112.9L425.6 115.9L429.2 118.9ZM453 112.9L449.4 115.9L453 118.9ZM461.5 112.9L465.1 115.9L461.5 118.9ZM473.6 112.9L477.2 115.9L473.6 118.9ZM484.6 112.9L488.2 115.9L484.6 118.9ZM500.3 112.9L503.9 115.9L500.3 118.9ZM559.7 112.9L563.3 115.9L559.7 118.9ZM576 112.9L579.6 115.9L576 118.9ZM627.1 112.9L630.7 115.9L627.1 118.9ZM18.4 121.7L22 124.7L18.4 127.7ZM85.5 121.7L89.1 124.7L85.5 127.7ZM97.1 121.7L100.7 124.7L97.1 127.7ZM140.4 121.7L144 124.7L140.4 127.7ZM163.2 121.7L159.6 124.7L163.2 127.7ZM169.7 121.7L173.3 124.7L169.7 127.7ZM176.9 121.7L180.5 124.7L176.9 127.7ZM196.3 121.7L192.7 124.7L196.3 127.7ZM221.6 121.7L218 124.7L221.6 127.7ZM230.3 121.7L226.7 124.7L230.3 127.7ZM240.2 121.7L236.6 124.7L240.2 127.7ZM254.7 121.7L251.1 124.7L254.7 127.7ZM264.9 121.7L261.3 124.7L264.9 127.7ZM278.3 121.7L274.7 124.7L278.3 127.7ZM286.4 121.7L282.8 124.7L286.4 127.7ZM295.5 121.7L291.9 124.7L295.5 127.7ZM352.6 121.7L356.2 124.7L352.6 127.7ZM366.4 121.7L362.8 124.7L366.4 127.7ZM468.9 121.7L465.3 124.7L468.9 127.7ZM495.2 121.7L498.8 124.7L495.2 127.7ZM506.5 121.7L502.9 124.7L506.5 127.7ZM516.1 121.7L512.5 124.7L516.1 127.7ZM527.8 121.7L524.2 124.7L527.8 127.7ZM536.7 121.7L533.1 124.7L536.7 127.7ZM551 121.7L554.6 124.7L551 127.7ZM562.7 121.7L559.1 124.7L562.7 127.7ZM581.9 121.7L585.5 124.7L581.9 127.7ZM596.7 121.7L600.3 124.7L596.7 127.7ZM612.4 121.7L608.8 124.7L612.4 127.7ZM618.6 121.7L622.2 124.7L618.6 127.7ZM627.5 121.7L631.1 124.7L627.5 127.7ZM24.7 130.5L28.3 133.5L24.7 136.5ZM45.5 130.5L49.1 133.5L45.5 136.5ZM67.2 130.5L63.6 133.5L67.2 136.5ZM94.2 130.5L97.8 133.5L94.2 136.5ZM107.9 130.5L111.5 133.5L107.9 136.5ZM144.4 130.5L148 133.5L144.4 136.5ZM153.5 130.5L157.1 133.5L153.5 136.5ZM162.9 130.5L166.5 133.5L162.9 136.5ZM177.4 130.5L181 133.5L177.4 136.5ZM197.2 130.5L200.8 133.5L197.2 136.5ZM206.6 130.5L203 133.5L206.6 136.5ZM220.9 130.5L217.3 133.5L220.9 136.5ZM227.1 130.5L223.5 133.5L227.1 136.5ZM231.3 130.5L234.9 133.5L231.3 136.5ZM241.4 130.5L245 133.5L241.4 136.5ZM272.2 130.5L268.6 133.5L272.2 136.5ZM316.7 130.5L320.3 133.5L316.7 136.5ZM329.8 130.5L333.4 133.5L329.8 136.5ZM346.5 130.5L342.9 133.5L346.5 136.5ZM389.9 130.5L386.3 133.5L389.9 136.5ZM443.3 130.5L446.9 133.5L443.3 136.5ZM459.1 130.5L455.5 133.5L459.1 136.5ZM471.3 130.5L474.9 133.5L471.3 136.5ZM485.4 130.5L489 133.5L485.4 136.5ZM495.3 130.5L498.9 133.5L495.3 136.5ZM504.8 130.5L508.4 133.5L504.8 136.5ZM532.8 130.5L536.4 133.5L532.8 136.5ZM545.5 130.5L549.1 133.5L545.5 136.5ZM565 130.5L568.6 133.5L565 136.5ZM589.1 130.5L592.7 133.5L589.1 136.5ZM617.5 130.5L613.9 133.5L617.5 136.5ZM631.4 130.5L627.8 133.5L631.4 136.5ZM17.3 139.3L20.9 142.3L17.3 145.3ZM40.2 139.3L36.6 142.3L40.2 145.3ZM74.7 139.3L71.1 142.3L74.7 145.3ZM89 139.3L85.4 142.3L89 145.3ZM143.5 139.3L139.9 142.3L143.5 145.3ZM180.1 139.3L183.7 142.3L180.1 145.3ZM201.8 139.3L205.4 142.3L201.8 145.3ZM219.1 139.3L215.5 142.3L219.1 145.3ZM231.2 139.3L234.8 142.3L231.2 145.3ZM248.8 139.3L252.4 142.3L248.8 145.3ZM352.8 139.3L349.2 142.3L352.8 145.3ZM362.6 139.3L366.2 142.3L362.6 145.3ZM373.7 139.3L377.3 142.3L373.7 145.3ZM455 139.3L451.4 142.3L455 145.3ZM466.6 139.3L463 142.3L466.6 145.3ZM478.6 139.3L475 142.3L478.6 145.3ZM494.2 139.3L490.6 142.3L494.2 145.3ZM504 139.3L500.4 142.3L504 145.3ZM506.8 139.3L510.4 142.3L506.8 145.3ZM521.2 139.3L524.8 142.3L521.2 145.3ZM531.3 139.3L534.9 142.3L531.3 145.3ZM603 139.3L606.6 142.3L603 145.3ZM615.6 139.3L612 142.3L615.6 145.3ZM626.4 139.3L622.8 142.3L626.4 145.3ZM29.3 148.2L25.7 151.2L29.3 154.2ZM49.3 148.2L52.9 151.2L49.3 154.2ZM62.3 148.2L65.9 151.2L62.3 154.2ZM74.1 148.2L77.7 151.2L74.1 154.2ZM88.6 148.2L92.2 151.2L88.6 154.2ZM103 148.2L99.4 151.2L103 154.2ZM116.1 148.2L112.5 151.2L116.1 154.2ZM126.8 148.2L130.4 151.2L126.8 154.2ZM154.4 148.2L158 151.2L154.4 154.2ZM191.6 148.2L188 151.2L191.6 154.2ZM207.2 148.2L203.6 151.2L207.2 154.2ZM220.1 148.2L216.5 151.2L220.1 154.2ZM225.2 148.2L221.6 151.2L225.2 154.2ZM240.7 148.2L237.1 151.2L240.7 154.2ZM252.1 148.2L248.5 151.2L252.1 154.2ZM277.3 148.2L280.9 151.2L277.3 154.2ZM286.6 148.2L290.2 151.2L286.6 154.2ZM298.9 148.2L302.5 151.2L298.9 154.2ZM307.4 148.2L311 151.2L307.4 154.2ZM323.2 148.2L319.6 151.2L323.2 154.2ZM330.1 148.2L326.5 151.2L330.1 154.2ZM336.4 148.2L340 151.2L336.4 154.2ZM396.2 148.2L392.6 151.2L396.2 154.2ZM408.2 148.2L404.6 151.2L408.2 154.2ZM419.9 148.2L416.3 151.2L419.9 154.2ZM434.3 148.2L430.7 151.2L434.3 154.2ZM473.2 148.2L469.6 151.2L473.2 154.2ZM485.8 148.2L482.2 151.2L485.8 154.2ZM491.5 148.2L495.1 151.2L491.5 154.2ZM504 148.2L507.6 151.2L504 154.2ZM515.7 148.2L519.3 151.2L515.7 154.2ZM529.6 148.2L533.2 151.2L529.6 154.2ZM572.9 148.2L569.3 151.2L572.9 154.2ZM581.8 148.2L578.2 151.2L581.8 154.2ZM597.5 148.2L601.1 151.2L597.5 154.2ZM610.5 148.2L614.1 151.2L610.5 154.2ZM28 157L24.4 160L28 163ZM40.7 157L37.1 160L40.7 163ZM50.6 157L54.2 160L50.6 163ZM67.7 157L71.3 160L67.7 163ZM85.3 157L81.7 160L85.3 163ZM153.5 157L157.1 160L153.5 163ZM169.1 157L172.7 160L169.1 163ZM182 157L185.6 160L182 163ZM218.5 157L214.9 160L218.5 163ZM233.3 157L229.7 160L233.3 163ZM246.3 157L242.7 160L246.3 163ZM256.2 157L259.8 160L256.2 163ZM263.8 157L267.4 160L263.8 163ZM312 157L315.6 160L312 163ZM322.9 157L326.5 160L322.9 163ZM345.4 157L349 160L345.4 163ZM358 157L361.6 160L358 163ZM370.2 157L373.8 160L370.2 163ZM383.3 157L386.9 160L383.3 163ZM417.9 157L414.3 160L417.9 163ZM455.5 157L451.9 160L455.5 163ZM468.9 157L472.5 160L468.9 163ZM488.6 157L485 160L488.6 163ZM508.7 157L505.1 160L508.7 163ZM528.2 157L531.8 160L528.2 163ZM580.8 157L584.4 160L580.8 163ZM594 157L597.6 160L594 163ZM175.1 165.8L171.5 168.8L175.1 171.8ZM179.2 165.8L182.8 168.8L179.2 171.8ZM186.7 165.8L190.3 168.8L186.7 171.8ZM200.6 165.8L197 168.8L200.6 171.8ZM214.8 165.8L211.2 168.8L214.8 171.8ZM232.8 165.8L229.2 168.8L232.8 171.8ZM243.4 165.8L239.8 168.8L243.4 171.8ZM257.9 165.8L254.3 168.8L257.9 171.8ZM267.2 165.8L270.8 168.8L267.2 171.8ZM354.3 165.8L357.9 168.8L354.3 171.8ZM372.9 165.8L369.3 168.8L372.9 171.8ZM381.6 165.8L385.2 168.8L381.6 171.8ZM418.1 165.8L421.7 168.8L418.1 171.8ZM421.9 165.8L425.5 168.8L421.9 171.8ZM431.4 165.8L435 168.8L431.4 171.8ZM440 165.8L436.4 168.8L440 171.8ZM450.9 165.8L447.3 168.8L450.9 171.8ZM462.3 165.8L458.7 168.8L462.3 171.8ZM477.9 165.8L474.3 168.8L477.9 171.8ZM489.5 165.8L493.1 168.8L489.5 171.8ZM514.6 165.8L511 168.8L514.6 171.8ZM524.2 165.8L520.6 168.8L524.2 171.8ZM531.6 165.8L535.2 168.8L531.6 171.8ZM602.5 165.8L598.9 168.8L602.5 171.8ZM612.9 165.8L616.5 168.8L612.9 171.8ZM622.5 165.8L626.1 168.8L622.5 171.8ZM107.7 174.6L111.3 177.6L107.7 180.6ZM150 174.6L146.4 177.6L150 180.6ZM168.6 174.6L172.2 177.6L168.6 180.6ZM180.1 174.6L183.7 177.6L180.1 180.6ZM188.8 174.6L192.4 177.6L188.8 180.6ZM209.5 174.6L205.9 177.6L209.5 180.6ZM213.7 174.6L217.3 177.6L213.7 180.6ZM225.9 174.6L222.3 177.6L225.9 180.6ZM248.2 174.6L251.8 177.6L248.2 180.6ZM270.6 174.6L274.2 177.6L270.6 180.6ZM280.8 174.6L284.4 177.6L280.8 180.6ZM290.3 174.6L293.9 177.6L290.3 180.6ZM299.7 174.6L303.3 177.6L299.7 180.6ZM317 174.6L320.6 177.6L317 180.6ZM332.1 174.6L328.5 177.6L332.1 180.6ZM341.9 174.6L338.3 177.6L341.9 180.6ZM358.3 174.6L354.7 177.6L358.3 180.6ZM371.8 174.6L368.2 177.6L371.8 180.6ZM378.2 174.6L381.8 177.6L378.2 180.6ZM411.3 174.6L407.7 177.6L411.3 180.6ZM421.1 174.6L424.7 177.6L421.1 180.6ZM429 174.6L432.6 177.6L429 180.6ZM439.3 174.6L435.7 177.6L439.3 180.6ZM450.9 174.6L447.3 177.6L450.9 180.6ZM463.2 174.6L466.8 177.6L463.2 180.6ZM474.6 174.6L478.2 177.6L474.6 180.6ZM488.6 174.6L492.2 177.6L488.6 180.6ZM504.2 174.6L507.8 177.6L504.2 180.6ZM515.7 174.6L519.3 177.6L515.7 180.6ZM532 174.6L528.4 177.6L532 180.6ZM542.9 174.6L539.3 177.6L542.9 180.6ZM554.4 174.6L550.8 177.6L554.4 180.6ZM612 174.6L615.6 177.6L612 180.6ZM624.9 174.6L628.5 177.6L624.9 180.6ZM50.8 183.4L47.2 186.4L50.8 189.4ZM101.4 183.4L97.8 186.4L101.4 189.4ZM113.5 183.4L109.9 186.4L113.5 189.4ZM133.1 183.4L136.7 186.4L133.1 189.4ZM148.9 183.4L145.3 186.4L148.9 189.4ZM157.4 183.4L161 186.4L157.4 189.4ZM175.6 183.4L172 186.4L175.6 189.4ZM187.3 183.4L183.7 186.4L187.3 189.4ZM217.3 183.4L213.7 186.4L217.3 189.4ZM296.3 183.4L292.7 186.4L296.3 189.4ZM305.1 183.4L301.5 186.4L305.1 189.4ZM317.5 183.4L313.9 186.4L317.5 189.4ZM323.4 183.4L327 186.4L323.4 189.4ZM331.8 183.4L335.4 186.4L331.8 189.4ZM347.6 183.4L344 186.4L347.6 189.4ZM363.3 183.4L366.9 186.4L363.3 189.4ZM406.4 183.4L402.8 186.4L406.4 189.4ZM442.5 183.4L438.9 186.4L442.5 189.4ZM463.3 183.4L459.7 186.4L463.3 189.4ZM474.4 183.4L470.8 186.4L474.4 189.4ZM489.5 183.4L485.9 186.4L489.5 189.4ZM501.9 183.4L498.3 186.4L501.9 189.4ZM511.1 183.4L507.5 186.4L511.1 189.4ZM520.9 183.4L524.5 186.4L520.9 189.4ZM532.9 183.4L529.3 186.4L532.9 189.4ZM30.9 192.2L27.3 195.2L30.9 198.2ZM36.3 192.2L39.9 195.2L36.3 198.2ZM49.2 192.2L52.8 195.2L49.2 198.2ZM68.2 192.2L71.8 195.2L68.2 198.2ZM78.7 192.2L82.3 195.2L78.7 198.2ZM97.6 192.2L94 195.2L97.6 198.2ZM109.7 192.2L113.3 195.2L109.7 198.2ZM128.6 192.2L132.2 195.2L128.6 198.2ZM137.5 192.2L141.1 195.2L137.5 198.2ZM151.5 192.2L147.9 195.2L151.5 198.2ZM280.7 192.2L284.3 195.2L280.7 198.2ZM295.5 192.2L299.1 195.2L295.5 198.2ZM307.3 192.2L310.9 195.2L307.3 198.2ZM321.3 192.2L324.9 195.2L321.3 198.2ZM332.4 192.2L336 195.2L332.4 198.2ZM343 192.2L346.6 195.2L343 198.2ZM384.8 192.2L381.2 195.2L384.8 198.2ZM398.2 192.2L394.6 195.2L398.2 198.2ZM406.7 192.2L403.1 195.2L406.7 198.2ZM411.3 192.2L414.9 195.2L411.3 198.2ZM453.8 192.2L450.2 195.2L453.8 198.2ZM462.5 192.2L466.1 195.2L462.5 198.2ZM472.2 192.2L475.8 195.2L472.2 198.2ZM487.2 192.2L483.6 195.2L487.2 198.2ZM497 192.2L493.4 195.2L497 198.2ZM506.3 192.2L502.7 195.2L506.3 198.2ZM516.8 192.2L513.2 195.2L516.8 198.2ZM545 192.2L548.6 195.2L545 198.2ZM568 192.2L571.6 195.2L568 198.2ZM578.9 192.2L582.5 195.2L578.9 198.2ZM586.6 192.2L590.2 195.2L586.6 198.2ZM619.2 192.2L622.8 195.2L619.2 198.2ZM629.1 192.2L632.7 195.2L629.1 198.2ZM22.3 201L18.7 204L22.3 207ZM25.5 201L29.1 204L25.5 207ZM35.6 201L39.2 204L35.6 207ZM53.3 201L56.9 204L53.3 207ZM70 201L66.4 204L70 207ZM76.5 201L72.9 204L76.5 207ZM82.4 201L78.8 204L82.4 207ZM94.1 201L90.5 204L94.1 207ZM106.6 201L110.2 204L106.6 207ZM120.1 201L123.7 204L120.1 207ZM134.8 201L131.2 204L134.8 207ZM147.8 201L144.2 204L147.8 207ZM159.6 201L156 204L159.6 207ZM225.5 201L229.1 204L225.5 207ZM261.3 201L257.7 204L261.3 207ZM273.3 201L269.7 204L273.3 207ZM283 201L279.4 204L283 207ZM294.3 201L297.9 204L294.3 207ZM355 201L351.4 204L355 207ZM363 201L366.6 204L363 207ZM389.3 201L392.9 204L389.3 207ZM436.2 201L432.6 204L436.2 207ZM444.5 201L440.9 204L444.5 207ZM454.7 201L451.1 204L454.7 207ZM469 201L472.6 204L469 207ZM487.2 201L483.6 204L487.2 207ZM498.6 201L495 204L498.6 207ZM538 201L534.4 204L538 207ZM575.2 201L571.6 204L575.2 207ZM585.7 201L582.1 204L585.7 207ZM594.4 201L590.8 204L594.4 207ZM603.1 201L606.7 204L603.1 207ZM626.8 201L630.4 204L626.8 207ZM25 209.8L21.4 212.8L25 215.8ZM40 209.8L43.6 212.8L40 215.8ZM118.2 209.8L114.6 212.8L118.2 215.8ZM149.5 209.8L153.1 212.8L149.5 215.8ZM204.6 209.8L201 212.8L204.6 215.8ZM220.9 209.8L217.3 212.8L220.9 215.8ZM225.9 209.8L229.5 212.8L225.9 215.8ZM242.7 209.8L239.1 212.8L242.7 215.8ZM256.1 209.8L252.5 212.8L256.1 215.8ZM273.2 209.8L269.6 212.8L273.2 215.8ZM312.7 209.8L309.1 212.8L312.7 215.8ZM325.8 209.8L322.2 212.8L325.8 215.8ZM331.1 209.8L334.7 212.8L331.1 215.8ZM370.5 209.8L374.1 212.8L370.5 215.8ZM385.5 209.8L381.9 212.8L385.5 215.8ZM400.9 209.8L397.3 212.8L400.9 215.8ZM412.8 209.8L409.2 212.8L412.8 215.8ZM420 209.8L423.6 212.8L420 215.8ZM429.5 209.8L425.9 212.8L429.5 215.8ZM456 209.8L459.6 212.8L456 215.8ZM470.3 209.8L473.9 212.8L470.3 215.8ZM502.5 209.8L506.1 212.8L502.5 215.8ZM527.1 209.8L523.5 212.8L527.1 215.8ZM538.4 209.8L534.8 212.8L538.4 215.8ZM552.2 209.8L548.6 212.8L552.2 215.8ZM561.9 209.8L565.5 212.8L561.9 215.8ZM580.7 209.8L577.1 212.8L580.7 215.8ZM41.4 218.6L37.8 221.6L41.4 224.6ZM54.2 218.6L50.6 221.6L54.2 224.6ZM72.7 218.6L69.1 221.6L72.7 224.6ZM83.3 218.6L79.7 221.6L83.3 224.6ZM106.5 218.6L110.1 221.6L106.5 224.6ZM124.3 218.6L127.9 221.6L124.3 224.6ZM142.9 218.6L139.3 221.6L142.9 224.6ZM158.9 218.6L155.3 221.6L158.9 224.6ZM189.4 218.6L193 221.6L189.4 224.6ZM202.6 218.6L199 221.6L202.6 224.6ZM213.4 218.6L209.8 221.6L213.4 224.6ZM243.2 218.6L239.6 221.6L243.2 224.6ZM256.6 218.6L253 221.6L256.6 224.6ZM265.9 218.6L269.5 221.6L265.9 224.6ZM304.4 218.6L308 221.6L304.4 224.6ZM356.5 218.6L352.9 221.6L356.5 224.6ZM366 218.6L369.6 221.6L366 224.6ZM383.6 218.6L387.2 221.6L383.6 224.6ZM397.2 218.6L400.8 221.6L397.2 224.6ZM416.2 218.6L412.6 221.6L416.2 224.6ZM420.9 218.6L424.5 221.6L420.9 224.6ZM431.9 218.6L428.3 221.6L431.9 224.6ZM446.1 218.6L449.7 221.6L446.1 224.6ZM461.7 218.6L465.3 221.6L461.7 224.6ZM496.3 218.6L492.7 221.6L496.3 224.6ZM527.9 218.6L524.3 221.6L527.9 224.6ZM541 218.6L537.4 221.6L541 224.6ZM549.5 218.6L553.1 221.6L549.5 224.6ZM561.3 218.6L564.9 221.6L561.3 224.6ZM577.8 218.6L581.4 221.6L577.8 224.6ZM587.6 218.6L591.2 221.6L587.6 224.6ZM41.5 227.4L37.9 230.4L41.5 233.4ZM52.7 227.4L49.1 230.4L52.7 233.4ZM63 227.4L66.6 230.4L63 233.4ZM74.4 227.4L78 230.4L74.4 233.4ZM85.3 227.4L88.9 230.4L85.3 233.4ZM98 227.4L101.6 230.4L98 233.4ZM109.9 227.4L113.5 230.4L109.9 233.4ZM119.1 227.4L122.7 230.4L119.1 233.4ZM133 227.4L136.6 230.4L133 233.4ZM140.7 227.4L144.3 230.4L140.7 233.4ZM151.6 227.4L155.2 230.4L151.6 233.4ZM183 227.4L179.4 230.4L183 233.4ZM297.7 227.4L294.1 230.4L297.7 233.4ZM307.6 227.4L311.2 230.4L307.6 233.4ZM322.7 227.4L326.3 230.4L322.7 233.4ZM340.6 227.4L344.2 230.4L340.6 233.4ZM361.2 227.4L357.6 230.4L361.2 233.4ZM387 227.4L390.6 230.4L387 233.4ZM410.8 227.4L414.4 230.4L410.8 233.4ZM419 227.4L422.6 230.4L419 233.4ZM456.3 227.4L452.7 230.4L456.3 233.4ZM477.1 227.4L473.5 230.4L477.1 233.4ZM492.4 227.4L488.8 230.4L492.4 233.4ZM516.7 227.4L520.3 230.4L516.7 233.4ZM525.9 227.4L529.5 230.4L525.9 233.4ZM535.8 227.4L539.4 230.4L535.8 233.4ZM545.3 227.4L548.9 230.4L545.3 233.4ZM556.4 227.4L560 230.4L556.4 233.4ZM620.5 227.4L616.9 230.4L620.5 233.4ZM629.9 227.4L626.3 230.4L629.9 233.4ZM25 236.2L28.6 239.2L25 242.2ZM42.7 236.2L39.1 239.2L42.7 242.2ZM56.2 236.2L52.6 239.2L56.2 242.2ZM69.6 236.2L66 239.2L69.6 242.2ZM84.2 236.2L80.6 239.2L84.2 242.2ZM132.6 236.2L136.2 239.2L132.6 242.2ZM141.7 236.2L145.3 239.2L141.7 242.2ZM170.4 236.2L166.8 239.2L170.4 242.2ZM187.2 236.2L183.6 239.2L187.2 242.2ZM291.9 236.2L288.3 239.2L291.9 242.2ZM300.9 236.2L304.5 239.2L300.9 242.2ZM311.6 236.2L315.2 239.2L311.6 242.2ZM326.4 236.2L322.8 239.2L326.4 242.2ZM337.7 236.2L334.1 239.2L337.7 242.2ZM413.7 236.2L410.1 239.2L413.7 242.2ZM442.2 236.2L438.6 239.2L442.2 242.2ZM532.6 236.2L529 239.2L532.6 242.2ZM544 236.2L540.4 239.2L544 242.2ZM556 236.2L552.4 239.2L556 242.2ZM562.8 236.2L566.4 239.2L562.8 242.2ZM575.6 236.2L572 239.2L575.6 242.2ZM595.1 236.2L598.7 239.2L595.1 242.2ZM609.6 236.2L613.2 239.2L609.6 242.2ZM616.1 236.2L619.7 239.2L616.1 242.2ZM40.3 245.1L36.7 248.1L40.3 251.1ZM52.3 245.1L48.7 248.1L52.3 251.1ZM61.1 245.1L64.7 248.1L61.1 251.1ZM153.7 245.1L157.3 248.1L153.7 251.1ZM166.7 245.1L170.3 248.1L166.7 251.1ZM174.4 245.1L178 248.1L174.4 251.1ZM186.2 245.1L182.6 248.1L186.2 251.1ZM206.7 245.1L210.3 248.1L206.7 251.1ZM215.6 245.1L219.2 248.1L215.6 251.1ZM223.3 245.1L226.9 248.1L223.3 251.1ZM229.7 245.1L233.3 248.1L229.7 251.1ZM250 245.1L246.4 248.1L250 251.1ZM263.4 245.1L259.8 248.1L263.4 251.1ZM270.1 245.1L273.7 248.1L270.1 251.1ZM303.2 245.1L306.8 248.1L303.2 251.1ZM308.3 245.1L311.9 248.1L308.3 251.1ZM333.5 245.1L337.1 248.1L333.5 251.1ZM376.4 245.1L372.8 248.1L376.4 251.1ZM494.6 245.1L498.2 248.1L494.6 251.1ZM508.6 245.1L505 248.1L508.6 251.1ZM519.9 245.1L523.5 248.1L519.9 251.1ZM531.1 245.1L534.7 248.1L531.1 251.1ZM549 245.1L552.6 248.1L549 251.1ZM561.9 245.1L558.3 248.1L561.9 251.1ZM34.7 253.9L38.3 256.9L34.7 259.9ZM55.3 253.9L51.7 256.9L55.3 259.9ZM70 253.9L66.4 256.9L70 259.9ZM82.6 253.9L79 256.9L82.6 259.9ZM183.5 253.9L187.1 256.9L183.5 259.9ZM211.6 253.9L215.2 256.9L211.6 259.9ZM229.1 253.9L225.5 256.9L229.1 259.9ZM239.5 253.9L235.9 256.9L239.5 259.9ZM250.4 253.9L246.8 256.9L250.4 259.9ZM262.5 253.9L266.1 256.9L262.5 259.9ZM277.3 253.9L280.9 256.9L277.3 259.9ZM301.5 253.9L297.9 256.9L301.5 259.9ZM310.2 253.9L313.8 256.9L310.2 259.9ZM341.5 253.9L345.1 256.9L341.5 259.9ZM352.1 253.9L355.7 256.9L352.1 259.9ZM364.4 253.9L368 256.9L364.4 259.9ZM376.3 253.9L379.9 256.9L376.3 259.9ZM465.5 253.9L469.1 256.9L465.5 259.9ZM482.8 253.9L486.4 256.9L482.8 259.9ZM499.3 253.9L502.9 256.9L499.3 259.9ZM517.4 253.9L521 256.9L517.4 259.9ZM533.5 253.9L529.9 256.9L533.5 259.9ZM574.6 253.9L571 256.9L574.6 259.9ZM585.6 253.9L589.2 256.9L585.6 259.9ZM31.7 262.7L35.3 265.7L31.7 268.7ZM40.8 262.7L44.4 265.7L40.8 268.7ZM54.8 262.7L51.2 265.7L54.8 268.7ZM62 262.7L65.6 265.7L62 268.7ZM104.3 262.7L107.9 265.7L104.3 268.7ZM116 262.7L119.6 265.7L116 268.7ZM128.2 262.7L131.8 265.7L128.2 268.7ZM142.3 262.7L138.7 265.7L142.3 268.7ZM152.1 262.7L155.7 265.7L152.1 268.7ZM194 262.7L197.6 265.7L194 268.7ZM202.8 262.7L206.4 265.7L202.8 268.7ZM289.4 262.7L293 265.7L289.4 268.7ZM301.9 262.7L305.5 265.7L301.9 268.7ZM318.9 262.7L315.3 265.7L318.9 268.7ZM333.6 262.7L330 265.7L333.6 268.7ZM337 262.7L340.6 265.7L337 268.7ZM348.2 262.7L351.8 265.7L348.2 268.7ZM359.6 262.7L356 265.7L359.6 268.7ZM366.1 262.7L369.7 265.7L366.1 268.7ZM482.6 262.7L486.2 265.7L482.6 268.7ZM493.8 262.7L497.4 265.7L493.8 268.7ZM503.6 262.7L500 265.7L503.6 268.7ZM548.9 262.7L552.5 265.7L548.9 268.7ZM567.6 262.7L571.2 265.7L567.6 268.7ZM630.6 262.7L627 265.7L630.6 268.7ZM24.6 271.5L28.2 274.5L24.6 277.5ZM34.7 271.5L38.3 274.5L34.7 277.5ZM51.7 271.5L48.1 274.5L51.7 277.5ZM80.7 271.5L84.3 274.5L80.7 277.5ZM98.1 271.5L94.5 274.5L98.1 277.5ZM109.9 271.5L106.3 274.5L109.9 277.5ZM117.1 271.5L113.5 274.5L117.1 277.5ZM272.2 271.5L275.8 274.5L272.2 277.5ZM308.9 271.5L305.3 274.5L308.9 277.5ZM378.8 271.5L375.2 274.5L378.8 277.5ZM442.8 271.5L446.4 274.5L442.8 277.5ZM454 271.5L450.4 274.5L454 277.5ZM505.7 271.5L509.3 274.5L505.7 277.5ZM514.3 271.5L517.9 274.5L514.3 277.5ZM526.5 271.5L530.1 274.5L526.5 277.5ZM543.3 271.5L539.7 274.5L543.3 277.5ZM556.3 271.5L559.9 274.5L556.3 277.5ZM563.4 271.5L567 274.5L563.4 277.5ZM615.8 271.5L619.4 274.5L615.8 277.5ZM49.3 280.3L45.7 283.3L49.3 286.3ZM60.2 280.3L56.6 283.3L60.2 286.3ZM74.3 280.3L70.7 283.3L74.3 286.3ZM110.9 280.3L107.3 283.3L110.9 286.3ZM119 280.3L115.4 283.3L119 286.3ZM128 280.3L124.4 283.3L128 286.3ZM134.1 280.3L137.7 283.3L134.1 286.3ZM241.5 280.3L245.1 283.3L241.5 286.3ZM249.8 280.3L253.4 283.3L249.8 286.3ZM267.2 280.3L270.8 283.3L267.2 286.3ZM302.3 280.3L305.9 283.3L302.3 286.3ZM315.2 280.3L311.6 283.3L315.2 286.3ZM344.5 280.3L348.1 283.3L344.5 286.3ZM352.8 280.3L356.4 283.3L352.8 286.3ZM366.9 280.3L370.5 283.3L366.9 286.3ZM377.6 280.3L381.2 283.3L377.6 286.3ZM410.1 280.3L406.5 283.3L410.1 286.3ZM421.9 280.3L418.3 283.3L421.9 286.3ZM426.3 280.3L429.9 283.3L426.3 286.3ZM513.4 280.3L517 283.3L513.4 286.3ZM528.9 280.3L525.3 283.3L528.9 286.3ZM540.8 280.3L537.2 283.3L540.8 286.3ZM587 280.3L583.4 283.3L587 286.3ZM593.7 280.3L597.3 283.3L593.7 286.3ZM32 289.1L28.4 292.1L32 295.1ZM47.7 289.1L44.1 292.1L47.7 295.1ZM92.7 289.1L96.3 292.1L92.7 295.1ZM101.9 289.1L105.5 292.1L101.9 295.1ZM144.9 289.1L141.3 292.1L144.9 295.1ZM155.2 289.1L158.8 292.1L155.2 295.1ZM164.1 289.1L167.7 292.1L164.1 295.1ZM178.6 289.1L175 292.1L178.6 295.1ZM201.9 289.1L205.5 292.1L201.9 295.1ZM265.5 289.1L261.9 292.1L265.5 295.1ZM271.9 289.1L275.5 292.1L271.9 295.1ZM286.8 289.1L290.4 292.1L286.8 295.1ZM296.5 289.1L300.1 292.1L296.5 295.1ZM340.9 289.1L344.5 292.1L340.9 295.1ZM348.6 289.1L352.2 292.1L348.6 295.1ZM361.1 289.1L364.7 292.1L361.1 295.1ZM382.7 289.1L379.1 292.1L382.7 295.1ZM447.4 289.1L443.8 292.1L447.4 295.1ZM468.4 289.1L464.8 292.1L468.4 295.1ZM491.3 289.1L487.7 292.1L491.3 295.1ZM502.3 289.1L505.9 292.1L502.3 295.1ZM518.7 289.1L522.3 292.1L518.7 295.1ZM550.4 289.1L554 292.1L550.4 295.1ZM560.5 289.1L564.1 292.1L560.5 295.1ZM573.7 289.1L570.1 292.1L573.7 295.1ZM584.5 289.1L580.9 292.1L584.5 295.1ZM598.6 289.1L602.2 292.1L598.6 295.1ZM610.1 289.1L613.7 292.1L610.1 295.1ZM618.1 289.1L621.7 292.1L618.1 295.1ZM182.7 297.9L179.1 300.9L182.7 303.9ZM198.6 297.9L195 300.9L198.6 303.9ZM255 297.9L251.4 300.9L255 303.9ZM266.7 297.9L263.1 300.9L266.7 303.9ZM276.3 297.9L272.7 300.9L276.3 303.9ZM288.8 297.9L285.2 300.9L288.8 303.9ZM298.6 297.9L302.2 300.9L298.6 303.9ZM316.3 297.9L312.7 300.9L316.3 303.9ZM331.2 297.9L327.6 300.9L331.2 303.9ZM343.3 297.9L339.7 300.9L343.3 303.9ZM361 297.9L357.4 300.9L361 303.9ZM390 297.9L386.4 300.9L390 303.9ZM461.4 297.9L465 300.9L461.4 303.9ZM491.3 297.9L487.7 300.9L491.3 303.9ZM500.7 297.9L504.3 300.9L500.7 303.9ZM520 297.9L516.4 300.9L520 303.9ZM558.6 297.9L562.2 300.9L558.6 303.9ZM574.6 297.9L578.2 300.9L574.6 303.9ZM588.8 297.9L592.4 300.9L588.8 303.9ZM603.2 297.9L606.8 300.9L603.2 303.9ZM617.3 297.9L613.7 300.9L617.3 303.9ZM23.5 306.7L27.1 309.7L23.5 312.7ZM52.6 306.7L49 309.7L52.6 312.7ZM61.1 306.7L57.5 309.7L61.1 312.7ZM72.1 306.7L68.5 309.7L72.1 312.7ZM82 306.7L85.6 309.7L82 312.7ZM96.7 306.7L93.1 309.7L96.7 312.7ZM107.5 306.7L103.9 309.7L107.5 312.7ZM114.9 306.7L118.5 309.7L114.9 312.7ZM152.3 306.7L155.9 309.7L152.3 312.7ZM165.7 306.7L169.3 309.7L165.7 312.7ZM201 306.7L204.6 309.7L201 312.7ZM216 306.7L219.6 309.7L216 312.7ZM231.7 306.7L228.1 309.7L231.7 312.7ZM243.2 306.7L239.6 309.7L243.2 312.7ZM269.4 306.7L273 309.7L269.4 312.7ZM279.1 306.7L282.7 309.7L279.1 312.7ZM310.7 306.7L314.3 309.7L310.7 312.7ZM331.5 306.7L327.9 309.7L331.5 312.7ZM340.7 306.7L337.1 309.7L340.7 312.7ZM362.5 306.7L366.1 309.7L362.5 312.7ZM375.8 306.7L372.2 309.7L375.8 312.7ZM421.9 306.7L418.3 309.7L421.9 312.7ZM431.4 306.7L435 309.7L431.4 312.7ZM448.7 306.7L445.1 309.7L448.7 312.7ZM456.9 306.7L453.3 309.7L456.9 312.7ZM469.2 306.7L465.6 309.7L469.2 312.7ZM467 306.7L470.6 309.7L467 312.7ZM477.5 306.7L481.1 309.7L477.5 312.7ZM499.6 306.7L503.2 309.7L499.6 312.7ZM525.2 306.7L528.8 309.7L525.2 312.7ZM555.1 306.7L551.5 309.7L555.1 312.7ZM581.8 306.7L578.2 309.7L581.8 312.7ZM591.5 306.7L595.1 309.7L591.5 312.7ZM630 306.7L626.4 309.7L630 312.7ZM30.2 315.5L26.6 318.5L30.2 321.5ZM125.6 315.5L122 318.5L125.6 321.5ZM136.1 315.5L132.5 318.5L136.1 321.5ZM144.4 315.5L148 318.5L144.4 321.5ZM168.4 315.5L164.8 318.5L168.4 321.5ZM179.2 315.5L175.6 318.5L179.2 321.5ZM211.6 315.5L208 318.5L211.6 321.5ZM222.4 315.5L218.8 318.5L222.4 321.5ZM259.8 315.5L263.4 318.5L259.8 321.5ZM291 315.5L287.4 318.5L291 321.5ZM306.5 315.5L302.9 318.5L306.5 321.5ZM316.2 315.5L319.8 318.5L316.2 321.5ZM325.8 315.5L329.4 318.5L325.8 321.5ZM388.8 315.5L385.2 318.5L388.8 321.5ZM403.2 315.5L406.8 318.5L403.2 321.5ZM413.3 315.5L416.9 318.5L413.3 321.5ZM422.5 315.5L426.1 318.5L422.5 321.5ZM434.9 315.5L438.5 318.5L434.9 321.5ZM449.4 315.5L453 318.5L449.4 321.5ZM489.4 315.5L485.8 318.5L489.4 321.5ZM499.3 315.5L495.7 318.5L499.3 321.5ZM508.4 315.5L504.8 318.5L508.4 321.5ZM520.5 315.5L516.9 318.5L520.5 321.5ZM527.5 315.5L523.9 318.5L527.5 321.5ZM31.6 324.4L35.2 327.4L31.6 330.4ZM39 324.4L42.6 327.4L39 330.4ZM63.6 324.4L67.2 327.4L63.6 330.4ZM73.6 324.4L77.2 327.4L73.6 330.4ZM82.8 324.4L86.4 327.4L82.8 330.4ZM102 324.4L98.4 327.4L102 330.4ZM114 324.4L110.4 327.4L114 330.4ZM127.8 324.4L124.2 327.4L127.8 330.4ZM142.2 324.4L138.6 327.4L142.2 330.4ZM156 324.4L152.4 327.4L156 330.4ZM167.9 324.4L164.3 327.4L167.9 330.4ZM181.6 324.4L178 327.4L181.6 330.4ZM193.2 324.4L189.6 327.4L193.2 330.4ZM205.6 324.4L202 327.4L205.6 330.4ZM217.8 324.4L214.2 327.4L217.8 330.4ZM228.3 324.4L224.7 327.4L228.3 330.4ZM238 324.4L234.4 327.4L238 330.4ZM248.6 324.4L245 327.4L248.6 330.4ZM259.5 324.4L263.1 327.4L259.5 330.4ZM273.1 324.4L276.7 327.4L273.1 330.4ZM291.1 324.4L294.7 327.4L291.1 330.4ZM308.4 324.4L312 327.4L308.4 330.4ZM322.9 324.4L326.5 327.4L322.9 330.4ZM337 324.4L340.6 327.4L337 330.4ZM354.5 324.4L358.1 327.4L354.5 330.4ZM371.9 324.4L375.5 327.4L371.9 330.4ZM388.4 324.4L384.8 327.4L388.4 330.4ZM404.4 324.4L400.8 327.4L404.4 330.4ZM419.4 324.4L423 327.4L419.4 330.4ZM433.8 324.4L430.2 327.4L433.8 330.4ZM458.4 324.4L462 327.4L458.4 330.4ZM467.7 324.4L471.3 327.4L467.7 330.4ZM487.6 324.4L484 327.4L487.6 330.4ZM490.7 324.4L494.3 327.4L490.7 330.4ZM503.6 324.4L500 327.4L503.6 330.4ZM512.6 324.4L516.2 327.4L512.6 330.4ZM575.6 324.4L579.2 327.4L575.6 330.4ZM33 333.2L36.6 336.2L33 339.2ZM46.9 333.2L43.3 336.2L46.9 339.2ZM55.1 333.2L51.5 336.2L55.1 339.2ZM64.9 333.2L68.5 336.2L64.9 339.2ZM124.7 333.2L128.3 336.2L124.7 339.2ZM135.1 333.2L131.5 336.2L135.1 339.2ZM145.7 333.2L142.1 336.2L145.7 339.2ZM206 333.2L209.6 336.2L206 339.2ZM214.4 333.2L218 336.2L214.4 339.2ZM225.7 333.2L229.3 336.2L225.7 339.2ZM268.3 333.2L271.9 336.2L268.3 339.2ZM280.3 333.2L283.9 336.2L280.3 339.2ZM302.1 333.2L305.7 336.2L302.1 339.2ZM313.5 333.2L317.1 336.2L313.5 339.2ZM336.7 333.2L333.1 336.2L336.7 339.2ZM354.8 333.2L351.2 336.2L354.8 339.2ZM366.3 333.2L362.7 336.2L366.3 339.2ZM378 333.2L374.4 336.2L378 339.2ZM390.2 333.2L386.6 336.2L390.2 339.2ZM402 333.2L398.4 336.2L402 339.2ZM410.8 333.2L407.2 336.2L410.8 339.2ZM423.8 333.2L420.2 336.2L423.8 339.2ZM435.4 333.2L431.8 336.2L435.4 339.2ZM452 333.2L448.4 336.2L452 339.2ZM464.7 333.2L461.1 336.2L464.7 339.2ZM478.6 333.2L475 336.2L478.6 339.2ZM490.2 333.2L486.6 336.2L490.2 339.2ZM558.7 333.2L562.3 336.2L558.7 339.2ZM572.3 333.2L575.9 336.2L572.3 339.2ZM586.5 333.2L590.1 336.2L586.5 339.2ZM603 333.2L606.6 336.2L603 339.2ZM625.2 333.2L621.6 336.2L625.2 339.2ZM40 342L36.4 345L40 348ZM53.1 342L56.7 345L53.1 348ZM68.5 342L72.1 345L68.5 348ZM83.2 342L86.8 345L83.2 348ZM101.1 342L97.5 345L101.1 348ZM159.8 342L156.2 345L159.8 348ZM171.7 342L168.1 345L171.7 348ZM200.9 342L197.3 345L200.9 348ZM236.4 342L232.8 345L236.4 348ZM246.1 342L242.5 345L246.1 348ZM252.4 342L256 345L252.4 348ZM263.4 342L267 345L263.4 348ZM275.5 342L279.1 345L275.5 348ZM284.5 342L288.1 345L284.5 348ZM340.4 342L344 345L340.4 348ZM351 342L354.6 345L351 348ZM432.7 342L429.1 345L432.7 348ZM451.2 342L454.8 345L451.2 348ZM464.7 342L461.1 345L464.7 348ZM468.3 342L471.9 345L468.3 348ZM539.9 342L543.5 345L539.9 348ZM551.9 342L555.5 345L551.9 348ZM620.3 342L616.7 345L620.3 348ZM629.3 342L625.7 345L629.3 348ZM20.9 350.8L24.5 353.8L20.9 356.8ZM55.1 350.8L58.7 353.8L55.1 356.8ZM65.3 350.8L68.9 353.8L65.3 356.8ZM112.5 350.8L108.9 353.8L112.5 356.8ZM122.2 350.8L125.8 353.8L122.2 356.8ZM134.7 350.8L131.1 353.8L134.7 356.8ZM204.4 350.8L208 353.8L204.4 356.8ZM234.2 350.8L230.6 353.8L234.2 356.8ZM275 350.8L278.6 353.8L275 356.8ZM304.4 350.8L308 353.8L304.4 356.8ZM315.3 350.8L318.9 353.8L315.3 356.8ZM324.5 350.8L328.1 353.8L324.5 356.8ZM332.7 350.8L336.3 353.8L332.7 356.8ZM338.8 350.8L342.4 353.8L338.8 356.8ZM348.2 350.8L351.8 353.8L348.2 356.8ZM387.4 350.8L383.8 353.8L387.4 356.8ZM419.1 350.8L422.7 353.8L419.1 356.8ZM437 350.8L433.4 353.8L437 356.8ZM448.6 350.8L445 353.8L448.6 356.8ZM463.3 350.8L459.7 353.8L463.3 356.8ZM495.8 350.8L492.2 353.8L495.8 356.8ZM507.6 350.8L504 353.8L507.6 356.8ZM563.7 350.8L560.1 353.8L563.7 356.8ZM622.2 350.8L625.8 353.8L622.2 356.8ZM34 359.6L37.6 362.6L34 365.6ZM46.5 359.6L50.1 362.6L46.5 365.6ZM59.5 359.6L63.1 362.6L59.5 365.6ZM86.3 359.6L82.7 362.6L86.3 365.6ZM98.5 359.6L94.9 362.6L98.5 365.6ZM108.7 359.6L105.1 362.6L108.7 365.6ZM123.1 359.6L119.5 362.6L123.1 365.6ZM130.9 359.6L127.3 362.6L130.9 365.6ZM137 359.6L140.6 362.6L137 365.6ZM155.7 359.6L152.1 362.6L155.7 365.6ZM170.4 359.6L166.8 362.6L170.4 365.6ZM180.1 359.6L183.7 362.6L180.1 365.6ZM191.1 359.6L194.7 362.6L191.1 365.6ZM201.7 359.6L205.3 362.6L201.7 365.6ZM212.1 359.6L215.7 362.6L212.1 365.6ZM227 359.6L230.6 362.6L227 365.6ZM237.1 359.6L240.7 362.6L237.1 365.6ZM307.7 359.6L311.3 362.6L307.7 365.6ZM318.9 359.6L322.5 362.6L318.9 365.6ZM341.5 359.6L337.9 362.6L341.5 365.6ZM350.4 359.6L346.8 362.6L350.4 365.6ZM364.7 359.6L361.1 362.6L364.7 365.6ZM377.3 359.6L373.7 362.6L377.3 365.6ZM388.8 359.6L385.2 362.6L388.8 365.6ZM418.6 359.6L422.2 362.6L418.6 365.6ZM433.2 359.6L429.6 362.6L433.2 365.6ZM451.5 359.6L455.1 362.6L451.5 365.6ZM461.1 359.6L464.7 362.6L461.1 365.6ZM478.8 359.6L475.2 362.6L478.8 365.6ZM489.1 359.6L485.5 362.6L489.1 365.6ZM501.7 359.6L498.1 362.6L501.7 365.6ZM533.5 359.6L529.9 362.6L533.5 365.6ZM539.7 359.6L536.1 362.6L539.7 365.6ZM590.8 359.6L587.2 362.6L590.8 365.6ZM601.6 359.6L605.2 362.6L601.6 365.6ZM617.2 359.6L613.6 362.6L617.2 365.6ZM626.8 359.6L630.4 362.6L626.8 365.6ZM98.1 368.4L101.7 371.4L98.1 374.4ZM145.5 368.4L149.1 371.4L145.5 374.4ZM157.8 368.4L154.2 371.4L157.8 374.4ZM200.9 368.4L204.5 371.4L200.9 374.4ZM212.8 368.4L216.4 371.4L212.8 374.4ZM227.4 368.4L231 371.4L227.4 374.4ZM235 368.4L238.6 371.4L235 374.4ZM254.3 368.4L250.7 371.4L254.3 374.4ZM262.5 368.4L258.9 371.4L262.5 374.4ZM270.6 368.4L267 371.4L270.6 374.4ZM283.7 368.4L280.1 371.4L283.7 374.4ZM298.3 368.4L301.9 371.4L298.3 374.4ZM312.9 368.4L316.5 371.4L312.9 374.4ZM423.7 368.4L420.1 371.4L423.7 374.4ZM426.2 368.4L429.8 371.4L426.2 374.4ZM435.3 368.4L431.7 371.4L435.3 374.4ZM448.3 368.4L451.9 371.4L448.3 374.4ZM475 368.4L471.4 371.4L475 374.4ZM491.7 368.4L488.1 371.4L491.7 374.4ZM502.7 368.4L506.3 371.4L502.7 374.4ZM522.5 368.4L518.9 371.4L522.5 374.4ZM547.1 368.4L543.5 371.4L547.1 374.4ZM578.9 368.4L582.5 371.4L578.9 374.4ZM587.6 368.4L591.2 371.4L587.6 374.4ZM598.6 368.4L602.2 371.4L598.6 374.4ZM609.4 368.4L613 371.4L609.4 374.4ZM628.7 368.4L625.1 371.4L628.7 374.4ZM26.8 377.2L23.2 380.2L26.8 383.2ZM40.3 377.2L43.9 380.2L40.3 383.2ZM119.9 377.2L116.3 380.2L119.9 383.2ZM132.2 377.2L128.6 380.2L132.2 383.2ZM169.9 377.2L173.5 380.2L169.9 383.2ZM207.3 377.2L203.7 380.2L207.3 383.2ZM213.8 377.2L217.4 380.2L213.8 383.2ZM217.4 377.2L221 380.2L217.4 383.2ZM227.7 377.2L231.3 380.2L227.7 383.2ZM241.2 377.2L237.6 380.2L241.2 383.2ZM250.6 377.2L247 380.2L250.6 383.2ZM278.8 377.2L275.2 380.2L278.8 383.2ZM287.9 377.2L284.3 380.2L287.9 383.2ZM298.8 377.2L295.2 380.2L298.8 383.2ZM309.4 377.2L305.8 380.2L309.4 383.2ZM329.5 377.2L325.9 380.2L329.5 383.2ZM341.5 377.2L337.9 380.2L341.5 383.2ZM355.9 377.2L359.5 380.2L355.9 383.2ZM366.7 377.2L370.3 380.2L366.7 383.2ZM423.9 377.2L420.3 380.2L423.9 383.2ZM432.2 377.2L428.6 380.2L432.2 383.2ZM459.4 377.2L463 380.2L459.4 383.2ZM471 377.2L474.6 380.2L471 383.2ZM481.9 377.2L485.5 380.2L481.9 383.2ZM503.9 377.2L500.3 380.2L503.9 383.2ZM518.6 377.2L515 380.2L518.6 383.2ZM526 377.2L529.6 380.2L526 383.2ZM534.8 377.2L538.4 380.2L534.8 383.2ZM541.5 377.2L545.1 380.2L541.5 383.2ZM597.9 377.2L601.5 380.2L597.9 383.2ZM613.4 377.2L617 380.2L613.4 383.2ZM623.3 377.2L626.9 380.2L623.3 383.2ZM18.9 386L22.5 389L18.9 392ZM41.6 386L38 389L41.6 392ZM72.5 386L76.1 389L72.5 392ZM139.8 386L136.2 389L139.8 392ZM147.9 386L144.3 389L147.9 392ZM175.4 386L171.8 389L175.4 392ZM199.8 386L203.4 389L199.8 392ZM216.2 386L212.6 389L216.2 392ZM226.7 386L223.1 389L226.7 392ZM279.4 386L283 389L279.4 392ZM291 386L294.6 389L291 392ZM306.4 386L310 389L306.4 392ZM315.5 386L311.9 389L315.5 392ZM329.1 386L325.5 389L329.1 392ZM342.3 386L345.9 389L342.3 392ZM364 386L367.6 389L364 392ZM382.1 386L385.7 389L382.1 392ZM394.5 386L398.1 389L394.5 392ZM412.7 386L416.3 389L412.7 392ZM439.8 386L436.2 389L439.8 392ZM460.6 386L457 389L460.6 392ZM470.4 386L466.8 389L470.4 392ZM516.9 386L520.5 389L516.9 392ZM548.5 386L544.9 389L548.5 392ZM555.3 386L551.7 389L555.3 392ZM565.3 386L561.7 389L565.3 392ZM575.3 386L571.7 389L575.3 392ZM587.6 386L584 389L587.6 392ZM596.5 386L592.9 389L596.5 392ZM621 386L617.4 389L621 392ZM71.6 394.8L68 397.8L71.6 400.8ZM133.4 394.8L137 397.8L133.4 400.8ZM142 394.8L145.6 397.8L142 400.8ZM155.3 394.8L158.9 397.8L155.3 400.8ZM168.8 394.8L165.2 397.8L168.8 400.8ZM182.5 394.8L178.9 397.8L182.5 400.8ZM198.1 394.8L194.5 397.8L198.1 400.8ZM224.1 394.8L220.5 397.8L224.1 400.8ZM232.6 394.8L229 397.8L232.6 400.8ZM242.2 394.8L245.8 397.8L242.2 400.8ZM366.3 394.8L362.7 397.8L366.3 400.8ZM379 394.8L375.4 397.8L379 400.8ZM392 394.8L388.4 397.8L392 400.8ZM464.5 394.8L468.1 397.8L464.5 400.8ZM483.5 394.8L479.9 397.8L483.5 400.8ZM490.8 394.8L487.2 397.8L490.8 400.8ZM577.6 394.8L574 397.8L577.6 400.8ZM585.7 394.8L589.3 397.8L585.7 400.8ZM594.3 394.8L597.9 397.8L594.3 400.8ZM607.3 394.8L610.9 397.8L607.3 400.8ZM623.5 394.8L619.9 397.8L623.5 400.8ZM629 394.8L625.4 397.8L629 400.8ZM25.3 403.6L21.7 406.6L25.3 409.6ZM78.2 403.6L74.6 406.6L78.2 409.6ZM90.7 403.6L87.1 406.6L90.7 409.6ZM101.4 403.6L97.8 406.6L101.4 409.6ZM112.2 403.6L108.6 406.6L112.2 409.6ZM130.2 403.6L133.8 406.6L130.2 409.6ZM139.3 403.6L142.9 406.6L139.3 409.6ZM152.7 403.6L156.3 406.6L152.7 409.6ZM246.1 403.6L242.5 406.6L246.1 409.6ZM257 403.6L253.4 406.6L257 409.6ZM318.1 403.6L321.7 406.6L318.1 409.6ZM333.8 403.6L337.4 406.6L333.8 409.6ZM382.7 403.6L379.1 406.6L382.7 409.6ZM392.7 403.6L389.1 406.6L392.7 409.6ZM424.1 403.6L427.7 406.6L424.1 409.6ZM433.1 403.6L429.5 406.6L433.1 409.6ZM439.4 403.6L443 406.6L439.4 409.6ZM449.5 403.6L453.1 406.6L449.5 409.6ZM459.3 403.6L462.9 406.6L459.3 409.6ZM476.1 403.6L472.5 406.6L476.1 409.6ZM509.7 403.6L513.3 406.6L509.7 409.6ZM521.9 403.6L525.5 406.6L521.9 409.6ZM532.8 403.6L536.4 406.6L532.8 409.6ZM543.7 403.6L540.1 406.6L543.7 409.6ZM564 403.6L567.6 406.6L564 409.6ZM578.9 403.6L582.5 406.6L578.9 409.6ZM590.9 403.6L594.5 406.6L590.9 409.6ZM611.6 403.6L615.2 406.6L611.6 409.6ZM622.2 403.6L625.8 406.6L622.2 409.6ZM27.3 412.5L23.7 415.5L27.3 418.5ZM37.4 412.5L33.8 415.5L37.4 418.5ZM53.7 412.5L50.1 415.5L53.7 418.5ZM61.8 412.5L65.4 415.5L61.8 418.5ZM99.4 412.5L103 415.5L99.4 418.5ZM107.8 412.5L111.4 415.5L107.8 418.5ZM124.5 412.5L120.9 415.5L124.5 418.5ZM129.2 412.5L132.8 415.5L129.2 418.5ZM144.3 412.5L140.7 415.5L144.3 418.5ZM159.9 412.5L156.3 415.5L159.9 418.5ZM170.2 412.5L166.6 415.5L170.2 418.5ZM189.8 412.5L186.2 415.5L189.8 418.5ZM202.4 412.5L206 415.5L202.4 418.5ZM220.6 412.5L217 415.5L220.6 418.5ZM226.8 412.5L223.2 415.5L226.8 418.5ZM232.3 412.5L235.9 415.5L232.3 418.5ZM240.2 412.5L236.6 415.5L240.2 418.5ZM284.2 412.5L280.6 415.5L284.2 418.5ZM293.4 412.5L289.8 415.5L293.4 418.5ZM324.7 412.5L321.1 415.5L324.7 418.5ZM377.9 412.5L381.5 415.5L377.9 418.5ZM391.4 412.5L387.8 415.5L391.4 418.5ZM398.3 412.5L401.9 415.5L398.3 418.5ZM427.6 412.5L424 415.5L427.6 418.5ZM428.3 412.5L431.9 415.5L428.3 418.5ZM432.7 412.5L436.3 415.5L432.7 418.5ZM441.9 412.5L438.3 415.5L441.9 418.5ZM469.1 412.5L465.5 415.5L469.1 418.5ZM482.7 412.5L479.1 415.5L482.7 418.5ZM497.2 412.5L493.6 415.5L497.2 418.5ZM512.6 412.5L509 415.5L512.6 418.5ZM519.3 412.5L522.9 415.5L519.3 418.5ZM528.2 412.5L531.8 415.5L528.2 418.5ZM535.9 412.5L539.5 415.5L535.9 418.5ZM545 412.5L548.6 415.5L545 418.5ZM559.7 412.5L563.3 415.5L559.7 418.5ZM570.8 412.5L574.4 415.5L570.8 418.5ZM582.7 412.5L586.3 415.5L582.7 418.5ZM605.9 412.5L602.3 415.5L605.9 418.5ZM617.7 412.5L614.1 415.5L617.7 418.5ZM624.5 412.5L620.9 415.5L624.5 418.5ZM24.8 421.3L28.4 424.3L24.8 427.3ZM42.7 421.3L39.1 424.3L42.7 427.3ZM50.1 421.3L53.7 424.3L50.1 427.3ZM68.3 421.3L64.7 424.3L68.3 427.3ZM103.5 421.3L107.1 424.3L103.5 427.3ZM117.3 421.3L120.9 424.3L117.3 427.3ZM127.1 421.3L130.7 424.3L127.1 427.3ZM142.1 421.3L138.5 424.3L142.1 427.3ZM168.5 421.3L164.9 424.3L168.5 427.3ZM227.5 421.3L231.1 424.3L227.5 427.3ZM243.7 421.3L240.1 424.3L243.7 427.3ZM253.5 421.3L249.9 424.3L253.5 427.3ZM264.4 421.3L268 424.3L264.4 427.3ZM277 421.3L273.4 424.3L277 427.3ZM288.9 421.3L285.3 424.3L288.9 427.3ZM334.9 421.3L331.3 424.3L334.9 427.3ZM350 421.3L346.4 424.3L350 427.3ZM413.6 421.3L417.2 424.3L413.6 427.3ZM422.8 421.3L426.4 424.3L422.8 427.3ZM430.7 421.3L434.3 424.3L430.7 427.3ZM522.6 421.3L519 424.3L522.6 427.3ZM547.8 421.3L544.2 424.3L547.8 427.3ZM572 421.3L575.6 424.3L572 427.3ZM586.1 421.3L582.5 424.3L586.1 427.3ZM596.5 421.3L592.9 424.3L596.5 427.3ZM608.5 421.3L604.9 424.3L608.5 427.3ZM612.9 421.3L616.5 424.3L612.9 427.3ZM626.9 421.3L630.5 424.3L626.9 427.3ZM25.9 430.1L22.3 433.1L25.9 436.1ZM58.6 430.1L62.2 433.1L58.6 436.1ZM71.9 430.1L68.3 433.1L71.9 436.1ZM83.9 430.1L80.3 433.1L83.9 436.1ZM90.3 430.1L93.9 433.1L90.3 436.1ZM105.8 430.1L102.2 433.1L105.8 436.1ZM120.7 430.1L117.1 433.1L120.7 436.1ZM157.1 430.1L160.7 433.1L157.1 436.1ZM166.9 430.1L170.5 433.1L166.9 436.1ZM181.5 430.1L185.1 433.1L181.5 436.1ZM190.2 430.1L193.8 433.1L190.2 436.1ZM204.6 430.1L208.2 433.1L204.6 436.1ZM219.9 430.1L216.3 433.1L219.9 436.1ZM230.6 430.1L227 433.1L230.6 436.1ZM239.3 430.1L242.9 433.1L239.3 436.1ZM248.7 430.1L252.3 433.1L248.7 436.1ZM262 430.1L265.6 433.1L262 436.1ZM272.9 430.1L276.5 433.1L272.9 436.1ZM299.1 430.1L302.7 433.1L299.1 436.1ZM307.6 430.1L311.2 433.1L307.6 436.1ZM316.8 430.1L320.4 433.1L316.8 436.1ZM359.8 430.1L356.2 433.1L359.8 436.1ZM364.8 430.1L368.4 433.1L364.8 436.1ZM376.8 430.1L380.4 433.1L376.8 436.1ZM386.6 430.1L390.2 433.1L386.6 436.1ZM394.7 430.1L398.3 433.1L394.7 436.1ZM406.3 430.1L409.9 433.1L406.3 436.1ZM440.8 430.1L437.2 433.1L440.8 436.1ZM490.4 430.1L486.8 433.1L490.4 436.1ZM502.1 430.1L498.5 433.1L502.1 436.1ZM515.2 430.1L518.8 433.1L515.2 436.1ZM527.7 430.1L531.3 433.1L527.7 436.1ZM619 430.1L622.6 433.1L619 436.1ZM37.3 438.9L40.9 441.9L37.3 444.9ZM49 438.9L52.6 441.9L49 444.9ZM64.5 438.9L60.9 441.9L64.5 444.9ZM77.1 438.9L80.7 441.9L77.1 444.9ZM94.1 438.9L97.7 441.9L94.1 444.9ZM108.7 438.9L112.3 441.9L108.7 444.9ZM116.3 438.9L119.9 441.9L116.3 444.9ZM186.4 438.9L190 441.9L186.4 444.9ZM197.2 438.9L200.8 441.9L197.2 444.9ZM212.2 438.9L215.8 441.9L212.2 444.9ZM230.8 438.9L227.2 441.9L230.8 444.9ZM243.5 438.9L239.9 441.9L243.5 444.9ZM254.7 438.9L251.1 441.9L254.7 444.9ZM266.7 438.9L263.1 441.9L266.7 444.9ZM285.4 438.9L281.8 441.9L285.4 444.9ZM348.6 438.9L352.2 441.9L348.6 444.9ZM356.8 438.9L360.4 441.9L356.8 444.9ZM370.3 438.9L366.7 441.9L370.3 444.9ZM459.2 438.9L455.6 441.9L459.2 444.9ZM465.4 438.9L469 441.9L465.4 444.9ZM472.1 438.9L475.7 441.9L472.1 444.9ZM479.4 438.9L483 441.9L479.4 444.9ZM494.1 438.9L497.7 441.9L494.1 444.9ZM528.7 438.9L525.1 441.9L528.7 444.9ZM545.8 438.9L542.2 441.9L545.8 444.9ZM37 447.7L33.4 450.7L37 453.7ZM46 447.7L42.4 450.7L46 453.7ZM68 447.7L64.4 450.7L68 453.7ZM79.1 447.7L82.7 450.7L79.1 453.7ZM90.6 447.7L94.2 450.7L90.6 453.7ZM102.6 447.7L106.2 450.7L102.6 453.7ZM111.1 447.7L114.7 450.7L111.1 453.7ZM121.7 447.7L125.3 450.7L121.7 453.7ZM253.9 447.7L250.3 450.7L253.9 453.7ZM262.1 447.7L258.5 450.7L262.1 453.7ZM275.2 447.7L271.6 450.7L275.2 453.7ZM282.5 447.7L278.9 450.7L282.5 453.7ZM313.4 447.7L317 450.7L313.4 453.7ZM451 447.7L454.6 450.7L451 453.7ZM463.2 447.7L466.8 450.7L463.2 453.7ZM470.9 447.7L474.5 450.7L470.9 453.7ZM482.4 447.7L486 450.7L482.4 453.7ZM491.2 447.7L494.8 450.7L491.2 453.7ZM559 447.7L562.6 450.7L559 453.7ZM576.3 447.7L579.9 450.7L576.3 453.7ZM218.6 456.5L222.2 459.5L218.6 462.5ZM224.7 456.5L228.3 459.5L224.7 462.5ZM357.1 456.5L360.7 459.5L357.1 462.5ZM364.6 456.5L368.2 459.5L364.6 462.5ZM389.7 456.5L386.1 459.5L389.7 462.5ZM405.5 456.5L401.9 459.5L405.5 462.5ZM59.1 465.3L55.5 468.3L59.1 471.3ZM74.5 465.3L70.9 468.3L74.5 471.3ZM85 465.3L81.4 468.3L85 471.3ZM91.8 465.3L95.4 468.3L91.8 471.3ZM108.1 465.3L104.5 468.3L108.1 471.3ZM118.8 465.3L115.2 468.3L118.8 471.3ZM133.3 465.3L129.7 468.3L133.3 471.3ZM142.9 465.3L139.3 468.3L142.9 471.3ZM160.6 465.3L157 468.3L160.6 471.3ZM173.3 465.3L169.7 468.3L173.3 471.3ZM183 465.3L179.4 468.3L183 471.3ZM194.4 465.3L190.8 468.3L194.4 471.3ZM205.3 465.3L201.7 468.3L205.3 471.3ZM216 465.3L212.4 468.3L216 471.3ZM228.6 465.3L232.2 468.3L228.6 471.3ZM252.4 465.3L248.8 468.3L252.4 471.3ZM311.2 465.3L314.8 468.3L311.2 471.3ZM321 465.3L324.6 468.3L321 471.3ZM336.8 465.3L340.4 468.3L336.8 471.3ZM358.1 465.3L361.7 468.3L358.1 471.3ZM366.3 465.3L369.9 468.3L366.3 471.3ZM385.8 465.3L382.2 468.3L385.8 471.3ZM393.9 465.3L397.5 468.3L393.9 471.3ZM405.2 465.3L408.8 468.3L405.2 471.3ZM421.3 465.3L424.9 468.3L421.3 471.3ZM433.7 465.3L430.1 468.3L433.7 471.3ZM448 465.3L444.4 468.3L448 471.3ZM464.3 465.3L460.7 468.3L464.3 471.3ZM579.5 465.3L575.9 468.3L579.5 471.3ZM592.3 465.3L588.7 468.3L592.3 471.3ZM596.4 465.3L600 468.3L596.4 471.3ZM606.4 465.3L610 468.3L606.4 471.3ZM24.6 474.1L21 477.1L24.6 480.1ZM34.7 474.1L31.1 477.1L34.7 480.1ZM68.2 474.1L64.6 477.1L68.2 480.1ZM83.4 474.1L79.8 477.1L83.4 480.1ZM182.7 474.1L186.3 477.1L182.7 480.1ZM203.9 474.1L200.3 477.1L203.9 480.1ZM214.4 474.1L218 477.1L214.4 480.1ZM221.1 474.1L224.7 477.1L221.1 480.1ZM247.7 474.1L251.3 477.1L247.7 480.1ZM279.7 474.1L283.3 477.1L279.7 480.1ZM293.8 474.1L290.2 477.1L293.8 480.1ZM301.4 474.1L297.8 477.1L301.4 480.1ZM309 474.1L312.6 477.1L309 480.1ZM332.4 474.1L328.8 477.1L332.4 480.1ZM341.9 474.1L338.3 477.1L341.9 480.1ZM349.5 474.1L345.9 477.1L349.5 480.1ZM360.2 474.1L356.6 477.1L360.2 480.1ZM387.4 474.1L391 477.1L387.4 480.1ZM407.7 474.1L404.1 477.1L407.7 480.1ZM426.9 474.1L423.3 477.1L426.9 480.1ZM434.2 474.1L430.6 477.1L434.2 480.1ZM444.7 474.1L441.1 477.1L444.7 480.1ZM454.7 474.1L451.1 477.1L454.7 480.1ZM517.2 474.1L513.6 477.1L517.2 480.1ZM528.8 474.1L525.2 477.1L528.8 480.1ZM538.9 474.1L535.3 477.1L538.9 480.1ZM550.8 474.1L547.2 477.1L550.8 480.1ZM557.8 474.1L554.2 477.1L557.8 480.1ZM568.8 474.1L565.2 477.1L568.8 480.1ZM579.3 474.1L575.7 477.1L579.3 480.1ZM591.6 474.1L588 477.1L591.6 480.1ZM598.2 474.1L601.8 477.1L598.2 480.1ZM609.7 474.1L613.3 477.1L609.7 480.1ZM627.5 474.1L623.9 477.1L627.5 480.1ZM24.4 482.9L28 485.9L24.4 488.9ZM35.6 482.9L39.2 485.9L35.6 488.9ZM52.6 482.9L56.2 485.9L52.6 488.9ZM173.3 482.9L176.9 485.9L173.3 488.9ZM185.8 482.9L189.4 485.9L185.8 488.9ZM198.7 482.9L195.1 485.9L198.7 488.9ZM217 482.9L213.4 485.9L217 488.9ZM224.8 482.9L228.4 485.9L224.8 488.9ZM240.8 482.9L244.4 485.9L240.8 488.9ZM259.3 482.9L255.7 485.9L259.3 488.9ZM269.9 482.9L273.5 485.9L269.9 488.9ZM280 482.9L283.6 485.9L280 488.9ZM330.5 482.9L326.9 485.9L330.5 488.9ZM343.4 482.9L339.8 485.9L343.4 488.9ZM348.4 482.9L352 485.9L348.4 488.9ZM360.9 482.9L357.3 485.9L360.9 488.9ZM368.4 482.9L364.8 485.9L368.4 488.9ZM375.8 482.9L372.2 485.9L375.8 488.9ZM388.1 482.9L384.5 485.9L388.1 488.9ZM395.9 482.9L392.3 485.9L395.9 488.9ZM406.3 482.9L402.7 485.9L406.3 488.9ZM415.8 482.9L412.2 485.9L415.8 488.9ZM424.5 482.9L420.9 485.9L424.5 488.9ZM434.4 482.9L438 485.9L434.4 488.9ZM449.4 482.9L453 485.9L449.4 488.9ZM465.6 482.9L462 485.9L465.6 488.9ZM507.3 482.9L510.9 485.9L507.3 488.9ZM515.5 482.9L519.1 485.9L515.5 488.9ZM576.7 482.9L573.1 485.9L576.7 488.9ZM589.1 482.9L585.5 485.9L589.1 488.9ZM598.5 482.9L594.9 485.9L598.5 488.9ZM603.3 482.9L606.9 485.9L603.3 488.9ZM37.5 491.7L33.9 494.7L37.5 497.7ZM45.2 491.7L41.6 494.7L45.2 497.7ZM57.2 491.7L53.6 494.7L57.2 497.7ZM115.5 491.7L119.1 494.7L115.5 497.7ZM126.1 491.7L122.5 494.7L126.1 497.7ZM143.2 491.7L139.6 494.7L143.2 497.7ZM150.4 491.7L154 494.7L150.4 497.7ZM179.6 491.7L176 494.7L179.6 497.7ZM235.5 491.7L239.1 494.7L235.5 497.7ZM244.6 491.7L248.2 494.7L244.6 497.7ZM251.5 491.7L255.1 494.7L251.5 497.7ZM260.7 491.7L264.3 494.7L260.7 497.7ZM269.5 491.7L273.1 494.7L269.5 497.7ZM278 491.7L281.6 494.7L278 497.7ZM289.3 491.7L292.9 494.7L289.3 497.7ZM302.3 491.7L298.7 494.7L302.3 497.7ZM311.6 491.7L308 494.7L311.6 497.7ZM354.2 491.7L350.6 494.7L354.2 497.7ZM364 491.7L360.4 494.7L364 497.7ZM374.8 491.7L371.2 494.7L374.8 497.7ZM386.4 491.7L382.8 494.7L386.4 497.7ZM393.8 491.7L397.4 494.7L393.8 497.7ZM431 491.7L434.6 494.7L431 497.7ZM453.3 491.7L456.9 494.7L453.3 497.7ZM470.4 491.7L474 494.7L470.4 497.7ZM512.4 491.7L508.8 494.7L512.4 497.7ZM524 491.7L527.6 494.7L524 497.7ZM538.5 491.7L542.1 494.7L538.5 497.7ZM565 491.7L568.6 494.7L565 497.7ZM582.2 491.7L585.8 494.7L582.2 497.7ZM594.9 491.7L598.5 494.7L594.9 497.7ZM24.2 500.6L27.8 503.6L24.2 506.6ZM37 500.6L40.6 503.6L37 506.6ZM68.5 500.6L72.1 503.6L68.5 506.6ZM85.3 500.6L81.7 503.6L85.3 506.6ZM93.3 500.6L96.9 503.6L93.3 506.6ZM202.8 500.6L206.4 503.6L202.8 506.6ZM221.9 500.6L218.3 503.6L221.9 506.6ZM230.6 500.6L227 503.6L230.6 506.6ZM235.2 500.6L238.8 503.6L235.2 506.6ZM298.2 500.6L301.8 503.6L298.2 506.6ZM311.7 500.6L308.1 503.6L311.7 506.6ZM320.7 500.6L317.1 503.6L320.7 506.6ZM330.1 500.6L326.5 503.6L330.1 506.6ZM358.5 500.6L362.1 503.6L358.5 506.6ZM374.3 500.6L370.7 503.6L374.3 506.6ZM401.8 500.6L405.4 503.6L401.8 506.6ZM448.6 500.6L445 503.6L448.6 506.6ZM459.6 500.6L456 503.6L459.6 506.6ZM467.8 500.6L464.2 503.6L467.8 506.6ZM476.8 500.6L473.2 503.6L476.8 506.6ZM486.5 500.6L482.9 503.6L486.5 506.6ZM506.8 500.6L503.2 503.6L506.8 506.6ZM513.2 500.6L509.6 503.6L513.2 506.6ZM526.3 500.6L529.9 503.6L526.3 506.6ZM535.5 500.6L539.1 503.6L535.5 506.6ZM553.7 500.6L550.1 503.6L553.7 506.6ZM567.7 500.6L564.1 503.6L567.7 506.6ZM581 500.6L577.4 503.6L581 506.6ZM589.6 500.6L586 503.6L589.6 506.6ZM598 500.6L594.4 503.6L598 506.6ZM29.9 509.4L26.3 512.4L29.9 515.4ZM39.3 509.4L35.7 512.4L39.3 515.4ZM58.5 509.4L54.9 512.4L58.5 515.4ZM73.4 509.4L69.8 512.4L73.4 515.4ZM83.4 509.4L79.8 512.4L83.4 515.4ZM138.8 509.4L142.4 512.4L138.8 515.4ZM146.5 509.4L150.1 512.4L146.5 515.4ZM155 509.4L158.6 512.4L155 515.4ZM169 509.4L165.4 512.4L169 515.4ZM175.3 509.4L171.7 512.4L175.3 515.4ZM184.3 509.4L180.7 512.4L184.3 515.4ZM217 509.4L220.6 512.4L217 515.4ZM232 509.4L228.4 512.4L232 515.4ZM244.5 509.4L248.1 512.4L244.5 515.4ZM323.9 509.4L320.3 512.4L323.9 515.4ZM339.7 509.4L336.1 512.4L339.7 515.4ZM366.8 509.4L363.2 512.4L366.8 515.4ZM375.2 509.4L378.8 512.4L375.2 515.4ZM411.3 509.4L414.9 512.4L411.3 515.4ZM427.5 509.4L423.9 512.4L427.5 515.4ZM430.3 509.4L433.9 512.4L430.3 515.4ZM448.1 509.4L451.7 512.4L448.1 515.4ZM461.6 509.4L465.2 512.4L461.6 515.4ZM484.7 509.4L481.1 512.4L484.7 515.4ZM495.9 509.4L492.3 512.4L495.9 515.4ZM511.9 509.4L508.3 512.4L511.9 515.4ZM521.8 509.4L518.2 512.4L521.8 515.4ZM531.3 509.4L527.7 512.4L531.3 515.4ZM560.1 509.4L563.7 512.4L560.1 515.4ZM573.6 509.4L577.2 512.4L573.6 515.4ZM47 518.2L50.6 521.2L47 524.2ZM115.6 518.2L112 521.2L115.6 524.2ZM123 518.2L119.4 521.2L123 524.2ZM135.6 518.2L132 521.2L135.6 524.2ZM168.4 518.2L164.8 521.2L168.4 524.2ZM181.6 518.2L178 521.2L181.6 524.2ZM281.8 518.2L285.4 521.2L281.8 524.2ZM296.1 518.2L299.7 521.2L296.1 524.2ZM315.1 518.2L311.5 521.2L315.1 524.2ZM324.8 518.2L321.2 521.2L324.8 524.2ZM398.7 518.2L402.3 521.2L398.7 524.2ZM533 518.2L529.4 521.2L533 524.2ZM547 518.2L543.4 521.2L547 524.2ZM563.2 518.2L559.6 521.2L563.2 524.2ZM579.7 518.2L576.1 521.2L579.7 524.2ZM594.1 518.2L590.5 521.2L594.1 524.2ZM39.9 527L36.3 530L39.9 533ZM44.5 527L48.1 530L44.5 533ZM135.3 527L131.7 530L135.3 533ZM147.2 527L143.6 530L147.2 533ZM160.2 527L156.6 530L160.2 533ZM193.4 527L197 530L193.4 533ZM204 527L200.4 530L204 533ZM212.1 527L208.5 530L212.1 533ZM234.1 527L237.7 530L234.1 533ZM244.3 527L247.9 530L244.3 533ZM310.3 527L313.9 530L310.3 533ZM336.6 527L340.2 530L336.6 533ZM347.1 527L343.5 530L347.1 533ZM353.6 527L350 530L353.6 533ZM365.7 527L362.1 530L365.7 533ZM376.3 527L372.7 530L376.3 533ZM386.5 527L382.9 530L386.5 533ZM392 527L395.6 530L392 533ZM400.5 527L404.1 530L400.5 533ZM417.9 527L421.5 530L417.9 533ZM430.9 527L427.3 530L430.9 533ZM529.8 527L533.4 530L529.8 533ZM547.9 527L551.5 530L547.9 533ZM559.5 527L563.1 530L559.5 533ZM575 527L571.4 530L575 533ZM584.4 527L588 530L584.4 533ZM609.1 527L605.5 530L609.1 533ZM621.5 527L617.9 530L621.5 533ZM630.1 527L626.5 530L630.1 533ZM56.5 535.8L60.1 538.8L56.5 541.8ZM68.9 535.8L72.5 538.8L68.9 541.8ZM80.2 535.8L76.6 538.8L80.2 541.8ZM90.8 535.8L94.4 538.8L90.8 541.8ZM101 535.8L104.6 538.8L101 541.8ZM112.2 535.8L115.8 538.8L112.2 541.8ZM124.6 535.8L128.2 538.8L124.6 541.8ZM135.2 535.8L138.8 538.8L135.2 541.8ZM150.3 535.8L146.7 538.8L150.3 541.8ZM173.2 535.8L169.6 538.8L173.2 541.8ZM185.5 535.8L181.9 538.8L185.5 541.8ZM193.6 535.8L190 538.8L193.6 541.8ZM203.5 535.8L207.1 538.8L203.5 541.8ZM214.3 535.8L217.9 538.8L214.3 541.8ZM226.4 535.8L230 538.8L226.4 541.8ZM243.1 535.8L239.5 538.8L243.1 541.8ZM256.5 535.8L252.9 538.8L256.5 541.8ZM269.3 535.8L272.9 538.8L269.3 541.8ZM278.8 535.8L282.4 538.8L278.8 541.8ZM289.9 535.8L293.5 538.8L289.9 541.8ZM302.1 535.8L305.7 538.8L302.1 541.8ZM316.2 535.8L319.8 538.8L316.2 541.8ZM324.4 535.8L328 538.8L324.4 541.8ZM331.2 535.8L327.6 538.8L331.2 541.8ZM348.3 535.8L344.7 538.8L348.3 541.8ZM361.4 535.8L365 538.8L361.4 541.8ZM377 535.8L373.4 538.8L377 541.8ZM396 535.8L392.4 538.8L396 541.8ZM443.1 535.8L446.7 538.8L443.1 541.8ZM458.2 535.8L461.8 538.8L458.2 541.8ZM480 535.8L476.4 538.8L480 541.8ZM489.7 535.8L486.1 538.8L489.7 541.8ZM493.8 535.8L497.4 538.8L493.8 541.8ZM512.9 535.8L509.3 538.8L512.9 541.8ZM520.3 535.8L516.7 538.8L520.3 541.8ZM531.2 535.8L527.6 538.8L531.2 541.8ZM537.3 535.8L540.9 538.8L537.3 541.8ZM575.6 535.8L572 538.8L575.6 541.8ZM585 535.8L581.4 538.8L585 541.8ZM598.8 535.8L595.2 538.8L598.8 541.8ZM614 535.8L610.4 538.8L614 541.8ZM626.5 535.8L622.9 538.8L626.5 541.8ZM22.2 544.6L18.6 547.6L22.2 550.6ZM24.7 544.6L28.3 547.6L24.7 550.6ZM34.5 544.6L38.1 547.6L34.5 550.6ZM46.5 544.6L50.1 547.6L46.5 550.6ZM60.3 544.6L56.7 547.6L60.3 550.6ZM66.5 544.6L62.9 547.6L66.5 550.6ZM75 544.6L78.6 547.6L75 550.6ZM84.4 544.6L88 547.6L84.4 550.6ZM171.7 544.6L175.3 547.6L171.7 550.6ZM187.5 544.6L183.9 547.6L187.5 550.6ZM194.6 544.6L198.2 547.6L194.6 550.6ZM291.1 544.6L287.5 547.6L291.1 550.6ZM300.1 544.6L296.5 547.6L300.1 550.6ZM307.1 544.6L310.7 547.6L307.1 550.6ZM333.7 544.6L337.3 547.6L333.7 550.6ZM348.3 544.6L351.9 547.6L348.3 550.6ZM359.3 544.6L362.9 547.6L359.3 550.6ZM455.3 544.6L451.7 547.6L455.3 550.6ZM478.9 544.6L475.3 547.6L478.9 550.6ZM484.8 544.6L481.2 547.6L484.8 550.6ZM518.4 544.6L522 547.6L518.4 550.6ZM528.9 544.6L532.5 547.6L528.9 550.6ZM544 544.6L547.6 547.6L544 550.6ZM554.3 544.6L557.9 547.6L554.3 550.6ZM579.5 544.6L575.9 547.6L579.5 550.6ZM617.4 544.6L613.8 547.6L617.4 550.6ZM34.5 553.4L38.1 556.4L34.5 559.4ZM43.7 553.4L47.3 556.4L43.7 559.4ZM55.3 553.4L58.9 556.4L55.3 559.4ZM67.9 553.4L71.5 556.4L67.9 559.4ZM77.6 553.4L81.2 556.4L77.6 559.4ZM87.3 553.4L90.9 556.4L87.3 559.4ZM100.9 553.4L97.3 556.4L100.9 559.4ZM118.2 553.4L114.6 556.4L118.2 559.4ZM132 553.4L128.4 556.4L132 559.4ZM143 553.4L146.6 556.4L143 559.4ZM158.5 553.4L154.9 556.4L158.5 559.4ZM165.1 553.4L168.7 556.4L165.1 559.4ZM175 553.4L178.6 556.4L175 559.4ZM183.3 553.4L186.9 556.4L183.3 559.4ZM194.2 553.4L197.8 556.4L194.2 559.4ZM210.8 553.4L214.4 556.4L210.8 559.4ZM223.4 553.4L227 556.4L223.4 559.4Z" fill="#b4b4a8" fill-opacity="0.8"/>
<path d="M19.6 19H25.8M38.7 19H61.1M95.5 19H111.1M179.3 19H200.9M358.9 19H380.4M390.3 19H398.4M435.2 19H462.7M474.1 19H480.1M566.9 19H595.9M37.2 27.8H51.2M100.6 27.8H122.1M182.3 27.8H197.9M218.2 27.8H221.8M224.2 27.8H230.8M315.5 27.8H335.5M352.9 27.8H377.4M444.2 27.8H459.7M526.5 27.8H572.8M275.1 36.6H317.6M412.7 36.6H426.8M429.2 36.6H465.7M481.6 36.6H518.1M168.8 45.4H221.8M288.5 45.4H325M337.3 45.4H346.9M360.4 45.4H374.4M447.2 45.4H447.7M456.1 45.4H497.1M560.3 45.4H631.8M19.6 54.2H36.3M49.1 54.2H61.7M68.6 54.2H93.1M110.5 54.2H114.1M140.4 54.2H154.5M207.7 54.2H221.8M224.2 54.2H235.3M354.4 54.2H404.4M429.2 54.2H435.8M530.4 54.2H565.1M595.3 54.2H609.4M623.7 54.2H631.8M19.6 63.1H34.8M118 63.1H164.9M261.6 63.1H277.2M334.9 63.1H368.4M557.3 63.1H566.9M34.2 71.9H66.2M134.4 71.9H148.5M186.8 71.9H221.8M224.2 71.9H226.3M234.7 71.9H277.2M288.5 71.9H329.5M486.1 71.9H492.6M520.5 71.9H536.9M592.3 71.9H606.4M218.2 80.7H221.8M224.2 80.7H263.7M409.7 80.7H422.3M447.2 80.7H464.2M486.1 80.7H549.5M560.3 80.7H631.8M19.7 89.5h0.1M44.6 89.5H66.2M70.1 89.5H81.1M91 89.5H114.1M129.9 89.5H139.5M168.8 89.5H197.9M255.6 89.5H280.2M370.8 89.5H380.4M405.3 89.5H413.3M451.6 89.5H480.7M525 89.5H565.1M569.9 89.5H583M28.2 98.3H66.2M207.7 98.3H221.8M224.2 98.3H233.8M276.6 98.3H331M441.2 98.3H453.7M565.4 98.3H610M86.5 107.1H94.6M106 107.1H120M134.4 107.1H154.5M194.3 107.1H218.8M315.5 107.1H361M364.9 107.1H377.4M396.3 107.1H420.8M429.2 107.1H468.7M489.1 107.1H506.1M511.5 107.1H548M553.4 107.1H573.4M578.8 107.1H604.9M32.7 115.9H61.1M82 115.9H97.6M161.4 115.9H172.4M188.3 115.9H214.3M263.1 115.9H302M375.3 115.9H383.4M457.6 115.9H489.6M499.5 115.9H508.2M556.4 115.9H585.4M156.9 124.7H184.4M216.7 124.7H221.8M224.2 124.7H244.2M348.4 124.7H366.9M492 124.7H539.9M548.9 124.7H563M580.3 124.7H616.8M38.7 133.5H72.2M91 133.5H112.6M144.9 133.5H157.5M230.2 133.5H245.1M317 133.5H333.1M340.3 133.5H352.9M470.5 133.5H512.1M531 133.5H551.9M563.3 133.5H569.9M584.8 133.5H600.4M613.3 133.5H631.8M19.7 142.3h0.1M31.2 142.3H43.7M70.1 142.3H91.6M132.9 142.3H151.5M360.4 142.3H377.4M445.7 142.3H483.7M488.5 142.3H512.1M518.1 142.3H538.1M599.8 142.3H616.8M50.6 151.2H54.2M86.5 151.2H106.6M236.2 151.2H251.7M285.6 151.2H293.6M390.3 151.2H420.8M526.5 151.2H533M592.3 151.2H610M150.9 160H187.4M212.2 160H221.8M224.2 160H236.8M306.5 160H331M382.8 160H390.9M448.7 160H493.2M578.8 160H598.9M165.8 168.8H176.9M204.7 168.8H221.8M224.2 168.8H275.1M348.4 168.8H362.5M379.8 168.8H389.4M444.2 168.8H465.1M507 168.8H518.1M595.3 168.8H618.3M167.3 177.6H193.4M201.8 177.6H221.8M224.2 177.6H224.8M268.5 177.6H287M376.8 177.6H384.9M406.8 177.6H410.3M420.2 177.6H426.8M429.2 177.6H433.4M486.7 177.6H558.5M44.6 186.4H55.7M128.4 186.4H150M168.2 186.4H179.9M300.5 186.4H320M358.3 186.4H370.8M435.2 186.4H448.3M457.6 186.4H464.2M279.6 195.2H350.5M381.3 195.2H417.8M447.8 195.2H477.1M480.7 195.2H518.1M563.3 195.2H572.8M630.3 195.2H631.8M19.7 204h0.1M52.7 204H72.2M79.1 204H94M103.6 204H126M140.4 204H161.9M254.1 204H262.2M291.5 204H300.2M359.5 204H371.4M429.2 204H447.7M482.5 204H499.2M530.4 204H539M571.4 204H595.9M34.2 212.8H46.7M219.7 212.8H221.8M224.2 212.8H230.8M235.6 212.8H242.7M249.6 212.8H278.1M308.6 212.8H337M367.8 212.8H426.8M429.2 212.8h0.1M452.5 212.8H478.3M501 212.8H504M522 212.8H566.9M574.3 212.8H586.9M37.2 221.6H57.2M67.1 221.6H87.1M101.5 221.6H163.4M185.3 221.6H214.3M346.9 221.6H361M444.2 221.6H468.1M176.3 230.4H185M288.5 230.4H346.9M381.3 230.4H393M449.6 230.4H457.3M514.5 230.4H539.9M544.4 230.4H560M613.3 230.4H631.8M19.6 239.2H73.7M129.9 239.2H148.5M161.4 239.2H194.9M286.4 239.2H295.1M318.5 239.2H340.9M593.8 239.2H613.8M149.4 248.1H172.4M204.7 248.1H221.8M224.2 248.1H224.8M240.7 248.1H254.7M268.5 248.1H274.2M300.5 248.1H313.1M500.4 248.1H540.5M545.3 248.1H564.5M30.6 256.9H74.3M77.6 256.9H83.2M203.3 256.9H221.8M224.2 256.9H251.7M258.6 256.9H287.6M336.4 256.9H383.4M460.6 256.9H507M511.5 256.9H523.2M567.5 256.9H595M309.5 265.7H328M355.9 265.7H363.1M501.6 265.7H504.6M628.2 265.7H631.8M19.6 274.5H54.2M103 274.5H109.6M441.2 274.5H454.3M501 274.5H545M555.5 274.5H569.9M65.6 283.3H76.7M299 283.3H317M342.4 283.3H359.5M363.4 283.3H386.4M400.8 283.3H426.8M429.2 283.3h0.1M513 283.3H541.1M580.3 283.3H601.9M25.2 292.1H49.7M88.6 292.1H108.1M138.9 292.1H182.9M197.3 292.1H212.8M270.6 292.1H277.2M282.6 292.1H304.1M337.9 292.1H365.4M372.3 292.1H385.8M569.3 292.1H584.8M597.4 292.1H622.8M171.8 300.9H203.8M247.5 300.9H290.6M294.5 300.9H346.9M382.8 300.9H390M457.6 300.9H468.7M501 300.9H503.1M569.3 300.9H583.9M602.8 300.9H618.9M44.6 309.7H75.2M146.4 309.7H159M197.3 309.7H221.8M224.2 309.7H247.2M326 309.7H340M358.9 309.7H378.9M442.7 309.7H459.1M493.5 309.7H506.1M522 309.7H531.5M548.3 309.7H556.1M571.4 309.7H586.9M590.8 309.7H596.8M119.5 318.5H148.5M162.3 318.5H182.9M207.7 318.5H221.8M282.6 318.5H323M409.7 318.5H426.8M429.2 318.5H455.2M482.5 318.5H530.9M28.2 327.4H43.7M64.1 327.4H85.6M94.6 327.4H129M135.3 327.4H182.9M201.2 327.4H221.8M224.2 327.4H248.1M253.5 327.4H426.8M429.2 327.4H434.3M487.6 327.4H519.6M40.1 336.2H58.7M204.7 336.2H208.3M268.5 336.2H284.6M299 336.2H322.1M346.3 336.2H426.8M429.2 336.2H437.3M446.6 336.2H493.2M553.4 336.2H610M620.7 336.2H624.9M49.1 345H76.7M192.8 345H206.8M228.7 345H292.1M448.7 345H464.2M614.7 345H631.8M19.6 353.8H22.2M54.5 353.8H70.7M122.4 353.8H128.1M302.6 353.8H337.9M417.2 353.8H426.8M429.2 353.8H467.2M490.6 353.8H510.6M616.2 353.8H631.8M118 362.6H142.5M146.4 362.6H161.9M176.3 362.6H218.8M224.2 362.6H241.3M302.6 362.6H328M332.5 362.6H393.9M414.2 362.6H426.8M429.2 362.6H434.3M447.2 362.6H503.1M528 362.6H542.9M584.8 362.6H631.8M141.9 371.4H161.9M265.5 371.4H287M291.5 371.4H321.2M438.2 371.4H458.2M468.1 371.4H525.6M584.2 371.4H615.3M33.6 380.2H52.1M167.3 380.2H179.9M213.7 380.2H215.8M274.5 380.2H300.2M413.3 380.2H426.8M429.2 380.2H434.3M454.6 380.2H488.2M498 380.2H519.6M523.5 380.2H545.9M596.2 380.2H631.8M19.7 389h0.1M70.1 389H78.2M132.3 389H150M206.2 389H221.8M223.7 389h0.1M273.6 389H299.6M314 389H317M322.4 389H350.5M360.4 389H419.9M429.2 389H448.3M455.5 389H470.2M541.4 389H598.9M161.4 397.8H169.4M174.8 397.8H203.8M219.1 397.8H221.8M224.2 397.8H247.2M361.3 397.8H395.4M457.6 397.8H476.2M583.3 397.8H612.3M618.3 397.8H631.8M19.6 406.6H26.4M72.5 406.6H116.2M129.3 406.6H156.9M315.5 406.6H343M95.5 415.5H115M138.3 415.5H150M153.9 415.5H174.8M183.8 415.5H191.9M229.6 415.5H242.2M281.1 415.5H296.6M384.3 415.5H394.8M474.1 415.5H516M543.5 415.5H589.9M19.6 424.3H45.2M162.3 424.3H174.8M224.2 424.3H293M324.5 424.3H338.5M412.1 424.3H426.8M429.2 424.3H438.2M513.6 424.3H525M542.3 424.3H548.9M567.5 424.3H631.8M19.6 433.1H30.3M56.6 433.1H106.6M112 433.1H123.9M153.9 433.1H209.8M215.2 433.1H221.8M224.2 433.1H278.1M295.4 433.1H324.2M353.5 433.1H410.9M429.2 433.1H448.3M487.6 433.1H493.2M511.5 433.1H533M33.6 441.9H54.2M71.6 441.9H82.6M91 441.9H102.1M355.9 441.9H371.4M453.1 441.9H477.7M29.7 450.7H38.3M75.5 450.7H99.1M110.5 450.7H129M247.5 450.7H285.2M309.5 450.7H324.2M448.7 450.7H498M553.4 450.7H587.8M216.7 459.5H221.8M224.2 459.5H229.3M355.9 459.5H369.9M382.2 459.5H408.8M53.6 468.3H62.3M67.1 468.3H147M157.5 468.3H161.9M167.3 468.3H217.9M224.2 468.3H257.7M319.4 468.3H343M354.4 468.3H373.8M378.3 468.3H426.8M429.2 468.3H437.3M456.1 468.3H471.1M574.3 468.3H595.9M193.4 477.1H208.3M307.4 477.1H315.2M336.4 477.1H362.5M384.3 477.1H409.7M421.7 477.1H426.8M429.2 477.1H456.7M522 477.1H614.7M623.1 477.1H631.8M19.6 485.9H58.1M168.2 485.9H203.8M212.2 485.9H221.8M224.2 485.9H228.4M362.5 485.9H426.8M429.2 485.9H457.3M569.9 485.9H601.9M40.7 494.7H57.2M120.4 494.7H159.9M174.2 494.7H178.4M233.8 494.7H311.6M348.4 494.7H366M429.2 494.7H434.3M446.6 494.7H480.1M519.6 494.7H548.9M76.1 503.6H100.6M194.3 503.6H211.3M353.5 503.6H368.4M456.1 503.6H488.2M499.5 503.6H516.6M522 503.6H542M547.4 503.6H583.9M23.7 512.4H40.7M47.6 512.4H64.7M68.6 512.4H87.1M135.3 512.4H160.4M164.3 512.4H176.9M421.7 512.4H426.8M429.2 512.4H437.3M443.6 512.4H468.1M476.5 512.4H513.6M42.5 521.2H55.7M108.4 521.2H136.5M162.3 521.2H182.9M279.6 521.2H319.1M523.5 521.2H600.4M141.3 530H162.8M198.2 530H212.8M306.5 530H317.6M411.2 530H426.8M429.2 530H431.3M544.4 530H565.1M579.4 530H595M605.2 530H631.8M55.1 538.8H73.1M88.6 538.8H95.2M327.4 538.8H334.9M363.4 538.8H366.9M385.8 538.8H402.9M439.7 538.8H463.3M472.6 538.8H500.1M514.5 538.8H535.1M568.4 538.8H588.4M593.2 538.8H631.8M19.4 547.6h0.1M24.6 547.6H88.6M189.8 547.6H200.9M358.3 547.6H364.9M514.5 547.6H563M35.7 556.4H40.7M73.1 556.4H93.1M109.6 556.4H135M206.2 556.4H221.8M224.2 556.4H224.8" stroke="#0808f8" stroke-width="2.9" stroke-linecap="round" fill="none"/>
<path d="M203.3 19H214.3M351.4 19H356.5M132.9 27.8H150M200.1 27.8h0.1M478.6 27.8H486.7M583.3 27.8H591.4M595.9 27.8H601M70.1 36.6H76.7M82 36.6H87.1M153.9 36.6H159M188.3 36.6H212.8M469.6 36.6H479.2M590.8 36.6H598.9M50.6 45.4H58.7M121 45.4H126M135.9 54.2H138M291.5 54.2H319.1M279.6 63.1H310.1M403.8 63.1H411.8M498 63.1H514.2M605.8 63.1H619.8M125.4 71.9H132M495 71.9H500.1M539.3 71.9H565.1M174.8 80.7H208.3M303.5 80.7H341.5M433.7 80.7H444.8M24.6 89.5H34.8M83.5 89.5H88.6M122.4 98.3H135M72.5 107.1H73.7M97 107.1H103.6M382.2 107.1H387.9M138.9 115.9H153M227.2 115.9H236.8M304.4 115.9H316.1M367.8 115.9H372.9M415.7 115.9H426.8M428.7 115.9h0.1M622.2 115.9H631.8M19.6 124.7H22.8M292.4 124.7H298.1M465.1 124.7H471.7M619.2 124.7H624.3M195.8 133.5H199.4M382.8 133.5H395.4M177.8 142.3H187.4M200.3 142.3H221.8M343.9 142.3H358M152.4 151.2H161.9M278.1 151.2H283.2M429.2 151.2H438.8M489.1 151.2H524.1M567.5 151.2H573.4M612.4 151.2H613.8M340.9 160H377.4M413.3 160H419.9M501.6 160H514.2M524.4 160H538.1M418.7 168.8H420.8M474.1 168.8H477.7M620.7 168.8H625.8M143.4 177.6H156.9M248.1 177.6H253.2M462.1 177.6H479.2M623.7 177.6H628.8M155.4 186.4H165.8M322.4 186.4H347.5M528 186.4H534.5M43.1 195.2H60.2M128.4 195.2H153M538.4 195.2H551.9M576.4 195.2H590.8M74.6 204H76.7M128.4 204H135M224.2 204H230.8M345.4 204H357.1M387.3 204H396.9M450.1 204H456.7M598.3 204H613.8M421.7 221.6H426.8M429.2 221.6H431.3M488.5 221.6H498M522 221.6H527.1M585.4 221.6H589.9M147.9 230.4H156.9M616.2 239.2H620.7M174.8 248.1H187.4M257.1 248.1H264.3M103.6 265.7H135M193.4 265.7H207.7M301.4 265.7H307.1M112 274.5H118M616.2 274.5H622.8M107.5 283.3H114.1M132.3 283.3H142.5M239.2 283.3H256.2M265.5 283.3H272.1M495 292.1H510.6M558.5 292.1H563.9M590.2 300.9H593.8M309.5 309.7H319.1M464.5 309.7H466.3M254.1 318.5H266.1M325.4 318.5H331.9M405.3 318.5H407.3M464.5 327.4H477.7M94 345H106M353.5 345H355.9M130.5 353.8H134.1M340.3 353.8H342.1M377.4 353.8H390.9M556.4 353.8H564.5M32.7 362.6H40.7M164.3 362.6H169.4M92.5 371.4H103.6M261.6 371.4H263.1M432.2 371.4H435.8M575.8 371.4H581.8M113.5 380.2H137.1M201.8 380.2H211.3M323 380.2H342.1M352.3 380.2H374.4M200.3 389H203.8M513.6 389H525.6M611.2 389H624.9M376.2 406.6H394.8M504.6 406.6H519M538.4 406.6H546.5M121.6 415.5H125.1M376.2 415.5H381.9M397.2 415.5H404.4M431.6 415.5H435.2M126.3 424.3H132M135.9 424.3H146.1M343.3 424.3H354.1M56.6 441.9H69.2M237.7 441.9H247.2M345.4 441.9H353.5M480.1 441.9H484.3M40.7 450.7H44.3M101.5 450.7H108.1M310.4 468.3H317M439.7 468.3H450.1M598.3 468.3H600.4M19.6 477.1H34.2M240.7 485.9H248.1M279.6 485.9H283.2M355.9 485.9H360.1M505.5 485.9H522M604.3 485.9H607M32.7 494.7H38.3M557.3 494.7H573.4M577.3 494.7H601M65.6 503.6H73.7M297.5 503.6H302M179.3 512.4H188M240.7 512.4H250.2M317.6 512.4H341.5M406.8 512.4H419.3M321.5 521.2H327.1M34.2 530H48.2M192.8 530H195.8M242.8 530H246.3M336.4 530H337.9M526.5 530H539.9M280.5 538.8H284M324.5 538.8H325M507 538.8H512.1M283.5 547.6H313.1M331.3 547.6H353.5M473.5 547.6H486.7M66.5 556.4H70.7M95.5 556.4H103.6" stroke="#22c822" stroke-width="2.9" stroke-linecap="round" fill="none"/>
<path d="M82 19H93.1M134.4 19H159M400.8 19H416.3M465.1 19H471.7M495 19H513.6M598.3 19H625.8M68.6 27.8H95.2M153.9 27.8H176.9M210.7 27.8H211.3M233.2 27.8H239.8M390.3 27.8H402.9M433.7 27.8H441.8M462.1 27.8H473.2M112 36.6H148.5M224.2 36.6H230.8M252.6 36.6H271.2M531 36.6H558.5M62.6 45.4H91.6M450.1 45.4H453.7M255.6 54.2H289.1M493.5 54.2H519.6M611.8 54.2H619.8M194.3 63.1H195.8M239.2 63.1H254.7M388.8 63.1H389.4M19.6 71.9H28.8M116.5 71.9H123M421.7 71.9H426.8M429.2 71.9H438.8M466.6 71.9H483.7M502.5 71.9H510.6M580.3 71.9H584.8M622.2 71.9H625.8M19.6 80.7H39.2M44.6 80.7H58.7M273.6 80.7H286.1M290 80.7H301.1M349.9 80.7H361M366.4 80.7H389.4M152.4 89.5H166.4M203.3 89.5H221.8M224.2 89.5H241.3M86.5 98.3H108.1M242.2 98.3H250.2M333.4 98.3H379.8M415.7 98.3H426.8M429.2 98.3H432.8M465.1 98.3H480.1M186.8 107.1H191.9M63.5 115.9H78.2M328.9 115.9H353.5M444.2 115.9H455.2M79.1 124.7H106.6M138.9 124.7H147M626.7 124.7H631.8M19.6 133.5H31.8M161.4 133.5H184.4M201.8 133.5H221.8M224.2 133.5H226.3M261.6 133.5H275.7M439.7 133.5H464.2M185.3 151.2H221.8M224.2 151.2H224.8M317 151.2H340M484.6 151.2H486.7M577.3 151.2H583.9M19.6 160H58.7M82 160H88.6M239.2 160H251.7M255.6 160H269.7M195.8 168.8H202.3M366.4 168.8H377.4M423.2 168.8H426.8M429.2 168.8H434.3M520.5 168.8H537.5M100 177.6H115.6M323 177.6H374.4M605.2 177.6H621.3M95.5 186.4H115.6M182.3 186.4H187.4M212.2 186.4H220.3M293 186.4H298.1M403.8 186.4H408.8M466.6 186.4H492M25.8 195.2H36.3M106 195.2H113.2M619.2 195.2H625.8M22.2 204H40.7M265.5 204H287.6M460.6 204H477.7M112 212.8H117.1M144.9 212.8H156M194.3 212.8H207.7M303.5 221.6H309.2M532.4 221.6H569.9M575.8 221.6H583M34.2 230.4H127.5M358.3 230.4H361M470.5 230.4H496.2M76.1 239.2H86.2M406.8 239.2H413.3M439.7 239.2H442.4M525.6 239.2H579.4M31.2 248.1H70.1M227.2 248.1H236.8M331.9 248.1H334.9M370.8 248.1H375M528 256.9H539M28.2 265.7H36.3M47.6 265.7H70.1M147.9 265.7H161.9M332.5 265.7H341.5M365.5 265.7H369M478.6 265.7H499.2M548.9 265.7H554.9M559.4 265.7H575.8M269.1 274.5H278.7M305.6 274.5H308M376.2 274.5H379.8M441.2 292.1H450.7M463.6 292.1H465.7M483.7 292.1H492.6M513 292.1H525M545.3 292.1H556.1M353.5 300.9H366M482.5 300.9H498.6M557.3 300.9H566.9M19.6 309.7H31.2M89.5 309.7H109.6M162.8 309.7H173M268.5 309.7H284M416.3 309.7H426.8M474.1 309.7H484.3M623.1 309.7H631.8M19.6 318.5H36.3M382.2 318.5H390M187.4 327.4H197M456.1 327.4H462.1M483.7 327.4H485.2M572.3 327.4H583.9M31.8 336.2H37.7M65.6 336.2H70.1M210.7 336.2H221.8M224.2 336.2H229.3M331.9 336.2H340.9M31.8 345H42.2M83.5 345H88M153.9 345H173.9M429.2 345H430.4M469.6 345H471.7M535.4 345H557M100 353.8H120M200.3 353.8H213.7M229.6 353.8H233.2M269.1 353.8H281.1M45.5 362.6H67.1M198.8 371.4H216.7M251.7 371.4H257.1M420.2 371.4H426.8M429.2 371.4H429.8M544.4 371.4H549.5M622.2 371.4H631.8M19.6 380.2H28.8M218.2 380.2H221.8M224.2 380.2H251.7M305 380.2H311.6M35.7 389H40.7M167.3 389H176.9M68.6 397.8H71.3M572.8 397.8H580.9M239.8 406.6H262.2M423.2 406.6H426.8M429.2 406.6H465.7M470.5 406.6H480.1M521.4 406.6H536M573.4 406.6H598M605.8 406.6H631.8M19.6 415.5H40.1M45.5 415.5H70.1M127.5 415.5H134.1M198.8 415.5H205.9M219.7 415.5H221.8M223.7 415.5h0.1M323 415.5h0.1M423.2 415.5H426.8M429.2 415.5h0.1M437.6 415.5H440.3M460.6 415.5H471.7M518.4 415.5H541.1M601.3 415.5H627.3M49.1 424.3H58.1M98.5 424.3H114.1M495.6 433.1H504.6M614.7 433.1H626.7M115 441.9H124.5M186.8 441.9H188.9M278.1 441.9H288.2M517.5 441.9H552.5M59.6 450.7H70.1M59.6 477.1H85.6M214.3 477.1H221.8M224.2 477.1H224.8M247.5 477.1H252.3M276.6 477.1H305M511.5 477.1H519.6M250.5 485.9H260.7M265.5 485.9H277.2M115 494.7H118M19.6 503.6H46.7M215.2 503.6H221.8M224.2 503.6H242.7M370.8 503.6H375.9M396.3 503.6H411.8M445.7 503.6H450.7M586.3 503.6H600.4M218.2 512.4H221.8M224.2 512.4H238.3M358.9 512.4H381.9M516 512.4H531.5M558.5 512.4H582.4M394.8 521.2H405.9M129.3 530H137.1M230.8 530H240.4M359.5 530H386.4M390.3 530H406.7M569.9 530H574.9M75.5 538.8H79.6M97.6 538.8H154.5M165.2 538.8H221.8M224.2 538.8H275.1M288.5 538.8H322.1M337.3 538.8H355M537.5 538.8H543.5M169.4 547.6H179.9M451.6 547.6H458.2M569.9 547.6H587.8M614.1 547.6H617.7M43.1 556.4H61.7M142.5 556.4H197.9" stroke="#fc0808" stroke-width="2.9" stroke-linecap="round" fill="none"/>
<path d="M290 27.8H313.1M35.7 36.6H67.7M89.5 36.6H109.6M161.4 36.6H166.4M520.5 36.6H528.6M601.3 36.6H625.8M23.7 45.4H43.7M116.5 54.2H133.5M312.5 63.1H332.5M414.2 63.1H426.8M429.2 63.1H435.8M468.1 63.1H495.6M150.9 71.9H175.4M441.2 71.9H464.2M76.1 80.7H172.4M120.4 89.5H127.5M115 98.3H120M167.3 98.3H193.4M236.2 98.3H239.8M385.8 98.3H413.3M76.1 107.1H84.1M156.9 107.1H184.4M221.2 107.1H221.8M224.2 107.1H233.8M186.8 124.7H199.4M249.6 124.7H290M224.2 142.3H256.2M619.2 142.3H631.8M19.6 151.2H34.8M56.6 151.2H84.1M109 151.2H135M296 151.2H314.6M468.1 151.2H476.2M61.1 160H79.6M179.3 168.8H193.4M436.7 168.8H441.8M480.1 168.8H498.6M289.4 177.6H305M317 177.6H320.6M435.8 177.6H450.7M494.4 186.4H525.6M38.7 195.2H40.7M62.6 195.2H100.6M623.1 204H631.8M19.6 212.8H28.8M234.7 221.6H271.2M363.4 221.6H419.3M129.9 230.4H145.5M408.3 230.4H423.8M297.5 239.2H316.1M492 248.1H498M177.2 256.9H191.9M292.4 256.9H317.6M42.5 265.7H45.2M137.4 265.7H145.5M285.6 265.7H299M330.3 265.7h0.1M348.4 265.7H353.5M77.6 274.5H100.6M44.6 283.3H63.2M116.5 283.3H129.9M259.5 292.1H268.2M511.5 300.9H523.2M77.6 309.7H87.1M112 309.7H123M429.2 309.7H440.3M468.7 309.7H471.7M122.4 336.2H147M330.4 345H351.1M344.5 353.8H358.9M81.4 362.6H109.6M224.2 371.4H239.8M302 389H311.6M131.4 397.8H159M478.6 397.8H492M560.3 406.6H571M60.5 424.3H71.3M116.5 424.3H123.9M104.5 441.9H112.6M194.3 441.9H221.8M224.2 441.9H230.2M249.6 441.9H268.2M486.7 441.9H504.6M602.8 468.3H616.8M176.3 477.1H191M324.5 477.1H334M326.6 485.9H353.5M459.7 485.9H471.7M368.4 494.7H401.4M503.4 494.7H517.2M304.4 503.6H331M340.3 530H357.1M369.3 538.8H383.4M182.3 547.6H187.4" stroke="#d42a0a" stroke-width="2.9" stroke-linecap="round" fill="none"/>
</g>
<g class="rl"><text x="640" y="22">0.07</text><text x="640" y="30.8">0.15</text><text x="640" y="39.6">0.22</text><text x="640" y="48.4">0.3</text><text x="640" y="57.2">0.38</text><text x="640" y="66.1">0.45</text><text x="640" y="74.9">0.52</text><text x="640" y="83.7">0.6</text><text x="640" y="92.5">0.68</text><text x="640" y="101.3">0.75</text><text x="640" y="110.1">0.82</text><text x="640" y="118.9">0.9</text><text x="640" y="127.7">0.98</text><text x="640" y="136.5">1.05</text><text x="640" y="145.3">1.12</text><text x="640" y="154.2">1.2</text><text x="640" y="163">1.27</text><text x="640" y="171.8">1.35</text><text x="640" y="180.6">1.43</text><text x="640" y="189.4">1.5</text><text x="640" y="198.2">1.57</text><text x="640" y="207">1.65</text><text x="640" y="215.8">1.73</text><text x="640" y="224.6">1.8</text><text x="640" y="233.4">1.88</text><text x="640" y="242.2">1.95</text><text x="640" y="251.1">2.02</text><text x="640" y="259.9">2.1</text><text x="640" y="268.7">2.17</text><text x="640" y="277.5">2.25</text><text x="640" y="286.3">2.33</text><text x="640" y="295.1">2.4</text><text x="640" y="303.9">2.48</text><text x="640" y="312.7">2.55</text><text x="640" y="321.5">2.62</text><text x="640" y="330.4">2.7</text><text x="640" y="339.2">2.78</text><text x="640" y="348">2.85</text><text x="640" y="356.8">2.92</text><text x="640" y="365.6">3</text><text x="640" y="374.4">3.08</text><text x="640" y="383.2">3.15</text><text x="640" y="392">3.22</text><text x="640" y="400.8">3.3</text><text x="640" y="409.6">3.38</text><text x="640" y="418.5">3.45</text><text x="640" y="427.3">3.52</text><text x="640" y="436.1">3.6</text><text x="640" y="444.9">3.67</text><text x="640" y="453.7">3.75</text><text x="640" y="462.5">3.83</text><text x="640" y="471.3">3.9</text><text x="640" y="480.1">3.98</text><text x="640" y="488.9">4.05</text><text x="640" y="497.7">4.12</text><text x="640" y="506.6">4.2</text><text x="640" y="515.4">4.28</text><text x="640" y="524.2">4.35</text><text x="640" y="533">4.42</text><text x="640" y="541.8">4.5</text><text x="640" y="550.6">4.58</text><text x="640" y="559.4">4.65</text></g>
<rect x="200" y="84.9" width="44.1" height="7.9" fill="none" stroke="#000" stroke-width="1.45"/>
<rect x="268.5" y="313.8" width="366.3" height="8.7" fill="none" stroke="#ffbd1a" stroke-width="1.5"/>
<rect x="15" y="322.5" width="449.1" height="8.4" fill="none" stroke="#ffbd1a" stroke-width="1.5"/>
<text x="18.4" y="571.7" class="xl" text-anchor="middle">0</text>
<text x="223.27" y="571.7" class="xl" text-anchor="middle">25000</text>
<text x="428.13" y="571.7" class="xl" text-anchor="middle">50000</text>
<text x="633" y="571.7" class="xl" text-anchor="middle">75000</text>
<line x1="233.5" y1="6.7" x2="247.2" y2="6.7" stroke="#fc0808" stroke-width="1.6"/>
<text x="254.7" y="9.6" class="lg">Discovery</text>
<line x1="297.6" y1="6.7" x2="310.9" y2="6.7" stroke="#0808f8" stroke-width="1.6"/>
<text x="318.5" y="9.6" class="lg">Prediction</text>
<line x1="361.8" y1="6.7" x2="375.3" y2="6.7" stroke="#22c822" stroke-width="1.6"/>
<text x="383" y="9.6" class="lg">Confirmation</text>
<text x="0" y="12.9" class="pl" transform="translate(-0.8 0) scale(0.86 1)">a</text>
<!-- panel b -->
<text x="0" y="593.7" class="pl" style="font-size:25px" transform="translate(1.6 0) scale(0.96 1)">b</text>
<line x1="51.7" y1="604.6" x2="427" y2="604.6" stroke="#111" stroke-width="0.9"/>
<path d="M10.9 604.6 L27.2 588.2 L27.2 596.6 L51.7 596.6 L51.7 613.3 L27.2 613.3 L27.2 621.7 Z" fill="#fff" stroke="#111" stroke-width="1.1"/>
<text x="21" y="608.4" class="yl">y0554</text>
<path d="M374 596.6 L403.5 596.6 L403.5 589.6 L420.7 604.6 L403.5 619.6 L403.5 613.3 L374 613.3 Z" fill="#fff" stroke="#111" stroke-width="1.1"/>
<text x="384.6" y="608.4" class="yl">y0561</text>
<g fill="#000">
<path d="M70.1 595.4 L92 595.4 L92 586.7 L108.6 604.6 L92 622.9 L92 613.6 L70.1 613.6 Z"/>
<path d="M109 595.4 L144.5 595.4 L144.5 586.7 L162 604.6 L144.5 622.9 L144.5 613.6 L109 613.6 Z"/>
<path d="M165 595.4 L184.6 595.4 L184.6 586.7 L196 604.6 L184.6 622.9 L184.6 613.6 L165 613.6 Z"/>
<path d="M199 595.4 L229.4 595.4 L229.4 586.7 L248.4 604.6 L229.4 622.9 L229.4 613.6 L199 613.6 Z"/>
<path d="M253 595.4 L274 595.4 L274 586.7 L292 604.6 L274 622.9 L274 613.6 L253 613.6 Z"/>
<path d="M301.3 595.4 L322 595.4 L322 586.7 L340.4 604.6 L322 622.9 L322 613.6 L301.3 613.6 Z"/>
</g>
<text x="76.7" y="608.7" class="gl">terZ</text>
<text x="122.5" y="608.7" class="gl">terA</text>
<text x="168.3" y="608.7" class="gl">terB</text>
<text x="210.5" y="608.7" class="gl">terC</text>
<text x="258.5" y="608.7" class="gl">terD</text>
<text x="308.7" y="608.7" class="gl">terE</text>
<!-- PCR amplicons -->
<g stroke="#111" stroke-width="1.4">
<line x1="75" y1="636" x2="151.9" y2="636"/>
<line x1="126.5" y1="643.4" x2="171.4" y2="643.4"/>
<line x1="174.7" y1="651.2" x2="233.6" y2="651.2"/>
<line x1="218" y1="658.8" x2="277.4" y2="658.8"/>
<line x1="270.8" y1="666.4" x2="316" y2="666.4"/>
</g>
<text x="56.6" y="639.4" class="sl">ZA</text>
<text x="107.9" y="646.9" class="sl">AB</text>
<text x="156.6" y="654.6" class="sl">BC</text>
<text x="200.3" y="662.2" class="sl">CD</text>
<text x="252.4" y="669.8" class="sl">DE</text>
<!-- gel headers -->
<defs><linearGradient id="gg" x1="0" x2="1" y1="0" y2="0"><stop offset="0" stop-color="#474747"/><stop offset="0.12" stop-color="#555"/><stop offset="0.3" stop-color="#5c5c5c"/><stop offset="0.85" stop-color="#626262"/><stop offset="0.95" stop-color="#5c5c5c"/><stop offset="1" stop-color="#6e6e6e"/></linearGradient></defs>
<rect x="50.2" y="712.9" width="358.5" height="57.8" fill="url(#gg)"/>
<rect x="98" y="713" width="20.5" height="57.6" fill="#fff" fill-opacity="0.03" filter="url(#bl)"/>
<rect x="120" y="713" width="20.5" height="57.6" fill="#fff" fill-opacity="0.03" filter="url(#bl)"/>
<rect x="163" y="713" width="20.5" height="57.6" fill="#fff" fill-opacity="0.03" filter="url(#bl)"/>
<rect x="187" y="713" width="20.5" height="57.6" fill="#fff" fill-opacity="0.03" filter="url(#bl)"/>
<rect x="230" y="713" width="20.5" height="57.6" fill="#fff" fill-opacity="0.03" filter="url(#bl)"/>
<rect x="253" y="713" width="20.5" height="57.6" fill="#fff" fill-opacity="0.03" filter="url(#bl)"/>
<rect x="298" y="713" width="20.5" height="57.6" fill="#fff" fill-opacity="0.03" filter="url(#bl)"/>
<rect x="320" y="713" width="20.5" height="57.6" fill="#fff" fill-opacity="0.03" filter="url(#bl)"/>
<rect x="364" y="713" width="20.5" height="57.6" fill="#fff" fill-opacity="0.03" filter="url(#bl)"/>
<rect x="386" y="713" width="20.5" height="57.6" fill="#fff" fill-opacity="0.03" filter="url(#bl)"/>
<text x="111.8" y="690.8" class="gh" text-anchor="middle">ZA</text>
<line x1="84.7" y1="696.9" x2="139.1" y2="696.9" stroke="#222" stroke-width="1.2"/>
<text x="89.2" y="708.2" class="gs" text-anchor="middle">-</text>
<text x="109.7" y="708.2" class="gs" text-anchor="middle">gDNA</text>
<text x="131.4" y="708.2" class="gs" text-anchor="middle">+</text>
<text x="178.4" y="690.8" class="gh" text-anchor="middle">AB</text>
<line x1="151.3" y1="696.9" x2="205.7" y2="696.9" stroke="#222" stroke-width="1.2"/>
<text x="155.8" y="708.2" class="gs" text-anchor="middle">-</text>
<text x="176.3" y="708.2" class="gs" text-anchor="middle">gDNA</text>
<text x="198" y="708.2" class="gs" text-anchor="middle">+</text>
<text x="245" y="690.8" class="gh" text-anchor="middle">BC</text>
<line x1="217.9" y1="696.9" x2="272.3" y2="696.9" stroke="#222" stroke-width="1.2"/>
<text x="222.4" y="708.2" class="gs" text-anchor="middle">-</text>
<text x="242.9" y="708.2" class="gs" text-anchor="middle">gDNA</text>
<text x="264.6" y="708.2" class="gs" text-anchor="middle">+</text>
<text x="310.6" y="690.8" class="gh" text-anchor="middle">CD</text>
<line x1="283.5" y1="696.9" x2="337.9" y2="696.9" stroke="#222" stroke-width="1.2"/>
<text x="288" y="708.2" class="gs" text-anchor="middle">-</text>
<text x="308.5" y="708.2" class="gs" text-anchor="middle">gDNA</text>
<text x="330.2" y="708.2" class="gs" text-anchor="middle">+</text>
<text x="376.3" y="690.8" class="gh" text-anchor="middle">DE</text>
<line x1="349.2" y1="696.9" x2="403.6" y2="696.9" stroke="#222" stroke-width="1.2"/>
<text x="353.7" y="708.2" class="gs" text-anchor="middle">-</text>
<text x="374.2" y="708.2" class="gs" text-anchor="middle">gDNA</text>
<text x="395.9" y="708.2" class="gs" text-anchor="middle">+</text>
<text x="56.6" y="708.9" class="sl" style="font-size:9.6px">Mw</text>
<text x="44.1" y="724.2" class="bp" text-anchor="end">1500 bp</text>
<text x="44.1" y="737.8" class="bp" text-anchor="end">1200 bp</text>
<text x="44.1" y="749.7" class="bp" text-anchor="end">1000 bp</text>
<text x="44.1" y="758.8" class="bp" text-anchor="end">900 bp</text>
<text x="44.1" y="768.4" class="bp" text-anchor="end">800 bp</text>
<rect x="56" y="720.5" width="17.2" height="3" rx="1" fill="#c0c0c0" filter="url(#bl2)"/>
<rect x="56" y="734.5" width="17.2" height="3" rx="1" fill="#c0c0c0" filter="url(#bl2)"/>
<rect x="56" y="746.8" width="17.2" height="4.4" rx="1" fill="#c0c0c0" filter="url(#bl2)"/>
<rect x="56" y="755.5" width="17.2" height="3" rx="1" fill="#c0c0c0" filter="url(#bl2)"/>
<rect x="56" y="764.4" width="17.2" height="3.2" rx="1" fill="#c0c0c0" filter="url(#bl2)"/>
<rect x="98.1" y="731.8" width="20.9" height="11.4" rx="3" fill="#fff" fill-opacity="1.0" filter="url(#bl)"/>
<rect x="99.6" y="733.3" width="17.9" height="8.4" rx="3" fill="#fff" fill-opacity="1.0"/>
<rect x="120.3" y="732.5" width="20.1" height="8.1" rx="3" fill="#fff" fill-opacity="1.0" filter="url(#bl)"/>
<rect x="121.8" y="734" width="17.1" height="5.1" rx="3" fill="#fff" fill-opacity="1.0"/>
<rect x="163" y="745.5" width="21.6" height="12.8" rx="3" fill="#fff" fill-opacity="1.0" filter="url(#bl)"/>
<rect x="164.5" y="747" width="18.6" height="9.8" rx="3" fill="#fff" fill-opacity="1.0"/>
<rect x="187" y="747.2" width="19" height="8.3" rx="3" fill="#fff" fill-opacity="0.9" filter="url(#bl)"/>
<rect x="188.5" y="748.7" width="16" height="5.3" rx="3" fill="#fff" fill-opacity="0.9"/>
<rect x="230.5" y="739.2" width="20.9" height="12.8" rx="3" fill="#fff" fill-opacity="1.0" filter="url(#bl)"/>
<rect x="232" y="740.7" width="17.9" height="9.8" rx="3" fill="#fff" fill-opacity="1.0"/>
<rect x="253" y="740.6" width="20.2" height="9.7" rx="3" fill="#fff" fill-opacity="1.0" filter="url(#bl)"/>
<rect x="254.5" y="742.1" width="17.2" height="6.7" rx="3" fill="#fff" fill-opacity="1.0"/>
<rect x="298" y="743.5" width="19.2" height="8.3" rx="3" fill="#fff" fill-opacity="1.0" filter="url(#bl)"/>
<rect x="299.5" y="745" width="16.2" height="5.3" rx="3" fill="#fff" fill-opacity="1.0"/>
<rect x="319.8" y="742.2" width="19.9" height="10.4" rx="3" fill="#fff" fill-opacity="1.0" filter="url(#bl)"/>
<rect x="321.3" y="743.7" width="16.9" height="7.4" rx="3" fill="#fff" fill-opacity="1.0"/>
<rect x="363.8" y="745.5" width="19.9" height="9.7" rx="3" fill="#fff" fill-opacity="0.95" filter="url(#bl)"/>
<rect x="365.3" y="747" width="16.9" height="6.7" rx="3" fill="#fff" fill-opacity="0.95"/>
<rect x="386" y="745.8" width="19.5" height="11" rx="3" fill="#fff" fill-opacity="0.9" filter="url(#bl)"/>
<rect x="387.5" y="747.3" width="16.5" height="8" rx="3" fill="#fff" fill-opacity="0.9"/>
<rect x="386" y="757" width="19" height="3" fill="#aaa" fill-opacity="0.6" filter="url(#bl)"/>
<text x="85" y="779.6" class="cap">Lanes contain PCR products generated from cDNA (+), total RNA without reverse transcriptase (-; negative control), or genomic DNA (gDNA, positive control)</text>
<!-- panel c -->
<text x="442" y="597.6" class="pl" transform="translate(442 0) scale(0.9 1) translate(-442 0)">c</text>
<rect x="485.5" y="626.64" width="44.3" height="109.96" fill="#999" stroke="#555" stroke-width="0.6"/>
<rect x="534.3" y="702.52" width="44.6" height="34.08" fill="#999" stroke="#555" stroke-width="0.6"/>
<rect x="583.6" y="725.1" width="44.3" height="11.5" fill="#999" stroke="#555" stroke-width="0.6"/>
<rect x="632.6" y="719.07" width="44.6" height="17.53" fill="#999" stroke="#555" stroke-width="0.6"/>
<line x1="478" y1="620.4" x2="478" y2="742.4" stroke="#a3a3a3" stroke-width="1.4"/>
<line x1="477.3" y1="741.7" x2="680.3" y2="741.7" stroke="#a3a3a3" stroke-width="1.4"/>
<line x1="476.2" y1="736.6" x2="477.6" y2="736.6" stroke="#333" stroke-width="0.9"/>
<text x="476.2" y="738.95" class="tk" text-anchor="end">0</text>
<line x1="476.2" y1="708.55" x2="477.6" y2="708.55" stroke="#333" stroke-width="0.9"/>
<text x="476.2" y="710.9" class="tk" text-anchor="end">200</text>
<line x1="476.2" y1="680.5" x2="477.6" y2="680.5" stroke="#333" stroke-width="0.9"/>
<text x="476.2" y="682.85" class="tk" text-anchor="end">400</text>
<line x1="476.2" y1="652.45" x2="477.6" y2="652.45" stroke="#333" stroke-width="0.9"/>
<text x="476.2" y="654.8" class="tk" text-anchor="end">600</text>
<line x1="476.2" y1="624.4" x2="477.6" y2="624.4" stroke="#333" stroke-width="0.9"/>
<text x="476.2" y="626.75" class="tk" text-anchor="end">800</text>
<line x1="507.5" y1="742.4" x2="507.5" y2="743.8" stroke="#333" stroke-width="0.9"/>
<text x="507.5" y="751.8" class="tk" text-anchor="middle" style="font-size:9.2px">2</text>
<line x1="556.6" y1="742.4" x2="556.6" y2="743.8" stroke="#333" stroke-width="0.9"/>
<text x="556.6" y="751.8" class="tk" text-anchor="middle" style="font-size:9.2px">3</text>
<line x1="605.8" y1="742.4" x2="605.8" y2="743.8" stroke="#333" stroke-width="0.9"/>
<text x="605.8" y="751.8" class="tk" text-anchor="middle" style="font-size:9.2px">4</text>
<line x1="655" y1="742.4" x2="655" y2="743.8" stroke="#333" stroke-width="0.9"/>
<text x="655" y="751.8" class="tk" text-anchor="middle" style="font-size:9.2px">5+</text>
<text x="581" y="763.3" class="ax" text-anchor="middle">Genes per operon identified</text>
<text x="0" y="0" class="ax" text-anchor="middle" transform="translate(455.8 681) rotate(-90)">Nb. of identified operon</text>
</svg>
</body></html>
